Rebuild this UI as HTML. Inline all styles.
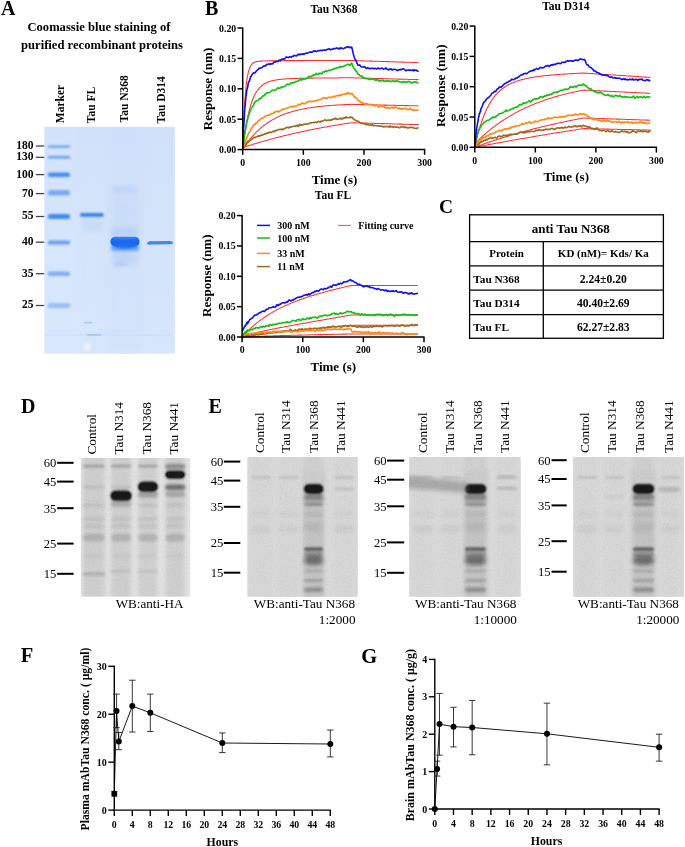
<!DOCTYPE html>
<html><head><meta charset="utf-8"><style>
html,body{margin:0;padding:0;background:#fff;}
body{width:685px;height:847px;overflow:hidden;}
svg{display:block;font-family:"Liberation Serif", serif;will-change:transform;}
</style></head><body>
<svg width="685" height="847" viewBox="0 0 685 847">
<defs>
<filter id="bl05" x="-20%" y="-200%" width="140%" height="500%"><feGaussianBlur stdDeviation="0.5"/></filter>
<filter id="bl07" x="-20%" y="-200%" width="140%" height="500%"><feGaussianBlur stdDeviation="0.8"/></filter>
<filter id="bl1" x="-20%" y="-200%" width="140%" height="500%"><feGaussianBlur stdDeviation="1.1"/></filter>
<filter id="bl15" x="-20%" y="-200%" width="140%" height="500%"><feGaussianBlur stdDeviation="1.6"/></filter>
<filter id="bl2" x="-50%" y="-200%" width="200%" height="500%"><feGaussianBlur stdDeviation="2.2"/></filter>
<filter id="bl3" x="-50%" y="-100%" width="200%" height="300%"><feGaussianBlur stdDeviation="3"/></filter>
<filter id="noise1" x="0" y="0" width="100%" height="100%"><feTurbulence type="fractalNoise" baseFrequency="0.75" numOctaves="2" seed="7"/><feColorMatrix type="matrix" values="1 0 0 0 0  1 0 0 0 0  1 0 0 0 0  0 0 0 0 1"/></filter>
<filter id="noise2" x="0" y="0" width="100%" height="100%"><feTurbulence type="fractalNoise" baseFrequency="0.75" numOctaves="2" seed="14"/><feColorMatrix type="matrix" values="1 0 0 0 0  1 0 0 0 0  1 0 0 0 0  0 0 0 0 1"/></filter>
<filter id="noise3" x="0" y="0" width="100%" height="100%"><feTurbulence type="fractalNoise" baseFrequency="0.75" numOctaves="2" seed="21"/><feColorMatrix type="matrix" values="1 0 0 0 0  1 0 0 0 0  1 0 0 0 0  0 0 0 0 1"/></filter>
<filter id="noise4" x="0" y="0" width="100%" height="100%"><feTurbulence type="fractalNoise" baseFrequency="0.75" numOctaves="2" seed="28"/><feColorMatrix type="matrix" values="1 0 0 0 0  1 0 0 0 0  1 0 0 0 0  0 0 0 0 1"/></filter>
<linearGradient id="gelgrad" x1="0" y1="0" x2="0" y2="1"><stop offset="0" stop-color="#d2e2fb"/><stop offset="0.45" stop-color="#d5e5fc"/><stop offset="1" stop-color="#d9e8fd"/></linearGradient>
<clipPath id="gelclip"><rect x="44.3" y="126.8" width="130.6" height="226.9"/></clipPath>
</defs>
<rect width="685" height="847" fill="#fff"/>
<text x="1.00" y="14.60" font-size="20" font-weight="bold" text-anchor="start" fill="#000" >A</text>
<text x="99.00" y="31.00" font-size="12.6" font-weight="bold" text-anchor="middle" fill="#000" >Coomassie blue staining of</text>
<text x="102.00" y="48.60" font-size="12.6" font-weight="bold" text-anchor="middle" fill="#000" >purified recombinant proteins</text>
<text transform="translate(63.50,123.20) rotate(-90)" font-size="11.5" font-weight="bold" text-anchor="start" fill="#000" >Marker</text>
<text transform="translate(95.20,123.20) rotate(-90)" font-size="11.5" font-weight="bold" text-anchor="start" fill="#000" >Tau FL</text>
<text transform="translate(128.40,122.40) rotate(-90)" font-size="11.5" font-weight="bold" text-anchor="start" fill="#000" >Tau N368</text>
<text transform="translate(165.40,123.40) rotate(-90)" font-size="11.5" font-weight="bold" text-anchor="start" fill="#000" >Tau D314</text>
<rect x="44.3" y="126.8" width="130.6" height="226.9" fill="url(#gelgrad)"/>
<g clip-path="url(#gelclip)">
<rect x="109" y="126.8" width="32" height="226.9" fill="#c6d9f5" opacity="0.3" filter="url(#bl3)"/>
<rect x="146" y="126.8" width="28" height="226.9" fill="#cadcf6" opacity="0.15" filter="url(#bl3)"/>
<rect x="80" y="126.8" width="24" height="226.9" fill="#cadcf6" opacity="0.12" filter="url(#bl3)"/>
<rect x="47.8" y="145.5" width="22.4" height="2.2" rx="1.1" fill="#4f8fec" opacity="0.8" filter="url(#bl07)"/>
<rect x="47.8" y="156.0" width="22.4" height="2.6" rx="1.3" fill="#4a8cec" opacity="0.8" filter="url(#bl07)"/>
<rect x="47.8" y="172.4" width="22.4" height="4.6" rx="2.3" fill="#3a82ea" opacity="0.9" filter="url(#bl07)"/>
<rect x="47.8" y="190.0" width="22.4" height="5.6" rx="2.8" fill="#5e96ec" opacity="0.75" filter="url(#bl07)"/>
<rect x="47.8" y="214.0" width="22.4" height="5.0" rx="2.5" fill="#3480ea" opacity="0.9" filter="url(#bl07)"/>
<rect x="47.8" y="240.4" width="22.4" height="4.0" rx="2.0" fill="#4f8eec" opacity="0.8" filter="url(#bl07)"/>
<rect x="47.8" y="271.5" width="22.4" height="4.6" rx="2.3" fill="#5e96ec" opacity="0.7" filter="url(#bl07)"/>
<rect x="47.8" y="303.0" width="22.4" height="5.0" rx="2.5" fill="#73a3ee" opacity="0.6" filter="url(#bl07)"/>
<rect x="79.9" y="213.0" width="23.9" height="4.0" rx="2" fill="#2a78e8" opacity="0.92" filter="url(#bl07)"/>
<rect x="84" y="321.8" width="8" height="1.6" fill="#8fb2ee" opacity="0.6" filter="url(#bl05)"/>
<rect x="87" y="334.0" width="14" height="1.8" fill="#8fb2ee" opacity="0.6" filter="url(#bl05)"/>
<rect x="46" y="334.3" width="126" height="1.2" fill="#a9c4f2" opacity="0.25" filter="url(#bl05)"/>
<rect x="84" y="343" width="7" height="8" fill="#eef4fd" opacity="0.7" filter="url(#bl1)"/>
<rect x="111" y="244" width="28" height="7" rx="3" fill="#3d86ee" opacity="0.75" filter="url(#bl15)"/>
<rect x="110.4" y="236.7" width="29.2" height="9.8" rx="4.9" fill="#1266ef" filter="url(#bl05)"/>
<ellipse cx="125" cy="245.5" rx="11" ry="3.5" fill="#1a6cf0" filter="url(#bl07)"/>
<rect x="113" y="250" width="24" height="14" fill="#a9c5f3" opacity="0.4" filter="url(#bl3)"/>
<rect x="113" y="186" width="24" height="8" fill="#b4cdf4" opacity="0.5" filter="url(#bl2)"/>
<rect x="112" y="196" width="26" height="40" fill="#bcd2f5" opacity="0.3" filter="url(#bl3)"/>
<rect x="112" y="228" width="26" height="10" fill="#9dbdf1" opacity="0.35" filter="url(#bl2)"/>
<rect x="114" y="262" width="14" height="4" fill="#a8c4f2" opacity="0.55" filter="url(#bl15)"/>
<rect x="82" y="218" width="20" height="14" fill="#c0d5f5" opacity="0.5" filter="url(#bl2)"/>
<path d="M146.7,243.6 Q148,240.6 152,241.2 L170,240.9 Q173.2,241.2 173,242.9 Q172,244.5 168,244.3 L152,244.5 Q147.5,245 146.7,243.6 Z" fill="#3a80e8" opacity="0.95" filter="url(#bl05)"/>
</g>
<text x="33.60" y="148.90" font-size="11.5" font-weight="bold" text-anchor="end" fill="#000" >180</text>
<line x1="35.90" y1="146.00" x2="44.20" y2="146.00" stroke="#444" stroke-width="1.3" />
<text x="33.60" y="160.20" font-size="11.5" font-weight="bold" text-anchor="end" fill="#000" >130</text>
<line x1="35.90" y1="157.30" x2="44.20" y2="157.30" stroke="#444" stroke-width="1.3" />
<text x="33.60" y="177.50" font-size="11.5" font-weight="bold" text-anchor="end" fill="#000" >100</text>
<line x1="35.90" y1="174.60" x2="44.20" y2="174.60" stroke="#444" stroke-width="1.3" />
<text x="33.60" y="196.50" font-size="11.5" font-weight="bold" text-anchor="end" fill="#000" >70</text>
<line x1="35.90" y1="193.60" x2="44.20" y2="193.60" stroke="#444" stroke-width="1.3" />
<text x="33.60" y="219.40" font-size="11.5" font-weight="bold" text-anchor="end" fill="#000" >55</text>
<line x1="35.90" y1="216.50" x2="44.20" y2="216.50" stroke="#444" stroke-width="1.3" />
<text x="33.60" y="245.10" font-size="11.5" font-weight="bold" text-anchor="end" fill="#000" >40</text>
<line x1="35.90" y1="242.20" x2="44.20" y2="242.20" stroke="#444" stroke-width="1.3" />
<text x="33.60" y="276.60" font-size="11.5" font-weight="bold" text-anchor="end" fill="#000" >35</text>
<line x1="35.90" y1="273.70" x2="44.20" y2="273.70" stroke="#444" stroke-width="1.3" />
<text x="33.60" y="308.40" font-size="11.5" font-weight="bold" text-anchor="end" fill="#000" >25</text>
<line x1="35.90" y1="305.50" x2="44.20" y2="305.50" stroke="#444" stroke-width="1.3" />
<text x="205.00" y="15.00" font-size="20" font-weight="bold" text-anchor="start" fill="#000" >B</text>
<text x="334.00" y="12.60" font-size="11.5" font-weight="bold" text-anchor="middle" fill="#000" >Tau N368</text>
<polyline points="242.7,149.6 242.9,148.9 243.0,148.4 243.2,148.1 243.3,147.8 243.5,147.7 243.6,147.5 243.8,147.4 243.9,147.3 244.1,147.2 244.2,147.2 244.4,147.1 244.5,147.0 244.7,147.0 244.8,146.9 245.0,146.9 245.1,146.8 245.3,146.8 245.4,146.7 245.6,146.7 245.7,146.6 245.9,146.6 246.0,146.5 246.2,146.5 246.3,146.4 246.5,146.4 246.6,146.3 246.8,146.3 246.9,146.2 247.1,146.2 247.2,146.1 247.4,146.1 247.6,146.0 247.7,146.0 247.9,145.9 248.0,145.9 248.2,145.9 248.3,145.8 248.5,145.8 248.6,145.7 248.8,145.7 249.4,145.5 250.0,145.3 250.6,145.1 251.2,144.9 251.8,144.7 252.4,144.5 253.0,144.3 253.6,144.1 254.2,144.0 254.8,143.8 255.4,143.6 256.0,143.4 256.6,143.2 257.3,143.0 257.9,142.9 258.5,142.7 259.1,142.5 259.7,142.3 260.3,142.1 260.9,142.0 261.5,141.8 262.1,141.6 262.7,141.4 263.3,141.3 263.9,141.1 264.5,140.9 265.1,140.7 265.7,140.6 266.3,140.4 267.0,140.2 267.6,140.1 268.2,139.9 268.8,139.7 269.4,139.6 270.0,139.4 270.6,139.2 271.2,139.1 271.8,138.9 272.4,138.7 273.0,138.6 273.6,138.4 274.2,138.3 274.8,138.1 275.4,137.9 276.0,137.8 276.7,137.6 277.3,137.5 277.9,137.3 278.5,137.2 279.1,137.0 279.7,136.9 280.3,136.7 280.9,136.5 281.5,136.4 282.1,136.2 282.7,136.1 283.3,135.9 283.9,135.8 284.5,135.6 285.1,135.5 285.7,135.4 286.4,135.2 287.0,135.1 287.6,134.9 288.2,134.8 288.8,134.6 289.4,134.5 290.0,134.3 290.6,134.2 291.2,134.1 291.8,133.9 292.4,133.8 293.0,133.6 293.6,133.5 294.2,133.4 294.8,133.2 295.4,133.1 296.1,132.9 296.7,132.8 297.3,132.7 297.9,132.5 298.5,132.4 299.1,132.3 299.7,132.1 300.3,132.0 300.9,131.9 301.5,131.7 302.1,131.6 302.7,131.5 303.3,131.4 303.9,131.2 304.5,131.1 305.1,131.0 305.8,130.8 306.4,130.7 307.0,130.6 307.6,130.5 308.2,130.3 308.8,130.2 309.4,130.1 310.0,130.0 310.6,129.9 311.2,129.7 311.8,129.6 312.4,129.5 313.0,129.4 313.6,129.3 314.2,129.1 314.8,129.0 315.5,128.9 316.1,128.8 316.7,128.7 317.3,128.5 317.9,128.4 318.5,128.3 319.1,128.2 319.7,128.1 320.3,128.0 320.9,127.9 321.5,127.7 322.1,127.6 322.7,127.5 323.3,127.4 323.9,127.3 324.6,127.2 325.2,127.1 325.8,127.0 326.4,126.9 327.0,126.7 327.6,126.6 328.2,126.5 328.8,126.4 329.4,126.3 330.0,126.2 330.6,126.1 331.2,126.0 331.8,125.9 332.4,125.8 333.0,125.7 333.6,125.6 334.3,125.5 334.9,125.4 335.5,125.3 336.1,125.2 336.7,125.1 337.3,125.0 337.9,124.9 338.5,124.8 339.1,124.7 339.7,124.6 340.3,124.5 340.9,124.4 341.5,124.3 342.1,124.2 342.7,124.1 343.3,124.0 344.0,123.9 344.6,123.8 345.2,123.7 345.8,123.6 346.4,123.5 347.0,123.4 347.6,123.3 348.2,123.2 348.8,123.2 349.4,123.1 350.0,123.0 350.6,122.9 351.2,122.8 351.8,122.7 352.4,122.7 353.0,122.7 353.7,122.8 354.3,122.8 354.9,122.8 355.5,122.8 356.1,122.8 356.7,122.8 357.3,122.9 357.9,122.9 358.5,122.9 359.1,122.9 359.7,122.9 360.3,122.9 360.9,123.0 361.5,123.0 362.1,123.0 362.7,123.0 363.4,123.0 364.0,123.0 364.6,123.1 365.2,123.1 365.8,123.1 366.4,123.1 367.0,123.1 367.6,123.2 368.2,123.2 368.8,123.2 369.4,123.2 370.0,123.2 370.6,123.2 371.2,123.3 371.8,123.3 372.4,123.3 373.1,123.3 373.7,123.3 374.3,123.3 374.9,123.4 375.5,123.4 376.1,123.4 376.7,123.4 377.3,123.4 377.9,123.4 378.5,123.5 379.1,123.5 379.7,123.5 380.3,123.5 380.9,123.5 381.5,123.6 382.1,123.6 382.8,123.6 383.4,123.6 384.0,123.6 384.6,123.6 385.2,123.7 385.8,123.7 386.4,123.7 387.0,123.7 387.6,123.7 388.2,123.7 388.8,123.8 389.4,123.8 390.0,123.8 390.6,123.8 391.2,123.8 391.8,123.8 392.5,123.9 393.1,123.9 393.7,123.9 394.3,123.9 394.9,123.9 395.5,124.0 396.1,124.0 396.7,124.0 397.3,124.0 397.9,124.0 398.5,124.0 399.1,124.1 399.7,124.1 400.3,124.1 400.9,124.1 401.6,124.1 402.2,124.1 402.8,124.2 403.4,124.2 404.0,124.2 404.6,124.2 405.2,124.2 405.8,124.2 406.4,124.3 407.0,124.3 407.6,124.3 408.2,124.3 408.8,124.3 409.4,124.4 410.0,124.4 410.6,124.4 411.3,124.4 411.9,124.4 412.5,124.4 413.1,124.5 413.7,124.5 414.3,124.5 414.9,124.5 415.5,124.5 416.1,124.5 416.7,124.6 417.3,124.6 417.9,124.6 418.5,124.6" fill="none" stroke="#ff2d2d" stroke-width="1.05" stroke-linejoin="round"/>
<polyline points="242.7,149.6 242.9,149.4 243.0,149.1 243.2,148.9 243.3,148.6 243.5,148.4 243.6,148.2 243.8,147.9 243.9,147.7 244.1,147.5 244.2,147.2 244.4,147.0 244.5,146.8 244.7,146.5 244.8,146.3 245.0,146.1 245.1,145.9 245.3,145.6 245.4,145.4 245.6,145.2 245.7,145.0 245.9,144.8 246.0,144.5 246.2,144.3 246.3,144.1 246.5,143.9 246.6,143.7 246.8,143.5 246.9,143.3 247.1,143.0 247.2,142.8 247.4,142.6 247.6,142.4 247.7,142.2 247.9,142.0 248.0,141.8 248.2,141.6 248.3,141.4 248.5,141.2 248.6,141.0 248.8,140.8 249.4,140.0 250.0,139.3 250.6,138.5 251.2,137.8 251.8,137.1 252.4,136.4 253.0,135.7 253.6,135.0 254.2,134.3 254.8,133.7 255.4,133.0 256.0,132.4 256.6,131.8 257.3,131.2 257.9,130.6 258.5,130.1 259.1,129.5 259.7,129.0 260.3,128.4 260.9,127.9 261.5,127.4 262.1,126.9 262.7,126.4 263.3,125.9 263.9,125.4 264.5,125.0 265.1,124.5 265.7,124.1 266.3,123.7 267.0,123.2 267.6,122.8 268.2,122.4 268.8,122.0 269.4,121.6 270.0,121.2 270.6,120.9 271.2,120.5 271.8,120.1 272.4,119.8 273.0,119.4 273.6,119.1 274.2,118.8 274.8,118.5 275.4,118.1 276.0,117.8 276.7,117.5 277.3,117.2 277.9,116.9 278.5,116.7 279.1,116.4 279.7,116.1 280.3,115.8 280.9,115.6 281.5,115.3 282.1,115.1 282.7,114.8 283.3,114.6 283.9,114.3 284.5,114.1 285.1,113.9 285.7,113.7 286.4,113.5 287.0,113.2 287.6,113.0 288.2,112.8 288.8,112.6 289.4,112.4 290.0,112.2 290.6,112.1 291.2,111.9 291.8,111.7 292.4,111.5 293.0,111.3 293.6,111.2 294.2,111.0 294.8,110.9 295.4,110.7 296.1,110.5 296.7,110.4 297.3,110.2 297.9,110.1 298.5,110.0 299.1,109.8 299.7,109.7 300.3,109.5 300.9,109.4 301.5,109.3 302.1,109.2 302.7,109.0 303.3,108.9 303.9,108.8 304.5,108.7 305.1,108.6 305.8,108.5 306.4,108.4 307.0,108.3 307.6,108.1 308.2,108.0 308.8,107.9 309.4,107.9 310.0,107.8 310.6,107.7 311.2,107.6 311.8,107.5 312.4,107.4 313.0,107.3 313.6,107.2 314.2,107.1 314.8,107.1 315.5,107.0 316.1,106.9 316.7,106.8 317.3,106.8 317.9,106.7 318.5,106.6 319.1,106.5 319.7,106.5 320.3,106.4 320.9,106.3 321.5,106.3 322.1,106.2 322.7,106.2 323.3,106.1 323.9,106.0 324.6,106.0 325.2,105.9 325.8,105.9 326.4,105.8 327.0,105.8 327.6,105.7 328.2,105.7 328.8,105.6 329.4,105.6 330.0,105.5 330.6,105.5 331.2,105.4 331.8,105.4 332.4,105.3 333.0,105.3 333.6,105.2 334.3,105.2 334.9,105.2 335.5,105.1 336.1,105.1 336.7,105.1 337.3,105.0 337.9,105.0 338.5,104.9 339.1,104.9 339.7,104.9 340.3,104.8 340.9,104.8 341.5,104.8 342.1,104.7 342.7,104.7 343.3,104.7 344.0,104.7 344.6,104.6 345.2,104.6 345.8,104.6 346.4,104.5 347.0,104.5 347.6,104.5 348.2,104.5 348.8,104.4 349.4,104.4 350.0,104.4 350.6,104.4 351.2,104.3 351.8,104.3 352.4,104.3 353.0,104.4 353.7,104.4 354.3,104.4 354.9,104.4 355.5,104.4 356.1,104.4 356.7,104.4 357.3,104.5 357.9,104.5 358.5,104.5 359.1,104.5 359.7,104.5 360.3,104.5 360.9,104.5 361.5,104.6 362.1,104.6 362.7,104.6 363.4,104.6 364.0,104.6 364.6,104.6 365.2,104.6 365.8,104.7 366.4,104.7 367.0,104.7 367.6,104.7 368.2,104.7 368.8,104.7 369.4,104.7 370.0,104.8 370.6,104.8 371.2,104.8 371.8,104.8 372.4,104.8 373.1,104.8 373.7,104.8 374.3,104.9 374.9,104.9 375.5,104.9 376.1,104.9 376.7,104.9 377.3,104.9 377.9,104.9 378.5,105.0 379.1,105.0 379.7,105.0 380.3,105.0 380.9,105.0 381.5,105.0 382.1,105.0 382.8,105.0 383.4,105.1 384.0,105.1 384.6,105.1 385.2,105.1 385.8,105.1 386.4,105.1 387.0,105.1 387.6,105.2 388.2,105.2 388.8,105.2 389.4,105.2 390.0,105.2 390.6,105.2 391.2,105.2 391.8,105.3 392.5,105.3 393.1,105.3 393.7,105.3 394.3,105.3 394.9,105.3 395.5,105.3 396.1,105.4 396.7,105.4 397.3,105.4 397.9,105.4 398.5,105.4 399.1,105.4 399.7,105.4 400.3,105.5 400.9,105.5 401.6,105.5 402.2,105.5 402.8,105.5 403.4,105.5 404.0,105.5 404.6,105.6 405.2,105.6 405.8,105.6 406.4,105.6 407.0,105.6 407.6,105.6 408.2,105.6 408.8,105.7 409.4,105.7 410.0,105.7 410.6,105.7 411.3,105.7 411.9,105.7 412.5,105.7 413.1,105.8 413.7,105.8 414.3,105.8 414.9,105.8 415.5,105.8 416.1,105.8 416.7,105.8 417.3,105.9 417.9,105.9 418.5,105.9" fill="none" stroke="#ff2d2d" stroke-width="1.05" stroke-linejoin="round"/>
<polyline points="242.7,149.6 242.9,148.3 243.0,147.0 243.2,145.7 243.3,144.4 243.5,143.2 243.6,142.0 243.8,140.8 243.9,139.7 244.1,138.5 244.2,137.4 244.4,136.3 244.5,135.2 244.7,134.2 244.8,133.2 245.0,132.1 245.1,131.1 245.3,130.2 245.4,129.2 245.6,128.3 245.7,127.4 245.9,126.5 246.0,125.6 246.2,124.7 246.3,123.8 246.5,123.0 246.6,122.2 246.8,121.4 246.9,120.6 247.1,119.8 247.2,119.1 247.4,118.3 247.6,117.6 247.7,116.9 247.9,116.1 248.0,115.5 248.2,114.8 248.3,114.1 248.5,113.5 248.6,112.8 248.8,112.2 249.4,109.8 250.0,107.6 250.6,105.5 251.2,103.6 251.8,101.8 252.4,100.2 253.0,98.7 253.6,97.3 254.2,96.0 254.8,94.7 255.4,93.6 256.0,92.6 256.6,91.6 257.3,90.7 257.9,89.9 258.5,89.1 259.1,88.4 259.7,87.7 260.3,87.1 260.9,86.5 261.5,86.0 262.1,85.5 262.7,85.0 263.3,84.6 263.9,84.2 264.5,83.8 265.1,83.4 265.7,83.1 266.3,82.8 267.0,82.5 267.6,82.3 268.2,82.0 268.8,81.8 269.4,81.6 270.0,81.4 270.6,81.2 271.2,81.0 271.8,80.8 272.4,80.7 273.0,80.5 273.6,80.4 274.2,80.3 274.8,80.2 275.4,80.1 276.0,79.9 276.7,79.9 277.3,79.8 277.9,79.7 278.5,79.6 279.1,79.5 279.7,79.4 280.3,79.4 280.9,79.3 281.5,79.2 282.1,79.2 282.7,79.1 283.3,79.1 283.9,79.0 284.5,79.0 285.1,78.9 285.7,78.9 286.4,78.9 287.0,78.8 287.6,78.8 288.2,78.7 288.8,78.7 289.4,78.7 290.0,78.7 290.6,78.6 291.2,78.6 291.8,78.6 292.4,78.5 293.0,78.5 293.6,78.5 294.2,78.5 294.8,78.5 295.4,78.4 296.1,78.4 296.7,78.4 297.3,78.4 297.9,78.4 298.5,78.3 299.1,78.3 299.7,78.3 300.3,78.3 300.9,78.3 301.5,78.3 302.1,78.3 302.7,78.2 303.3,78.2 303.9,78.2 304.5,78.2 305.1,78.2 305.8,78.2 306.4,78.2 307.0,78.2 307.6,78.1 308.2,78.1 308.8,78.1 309.4,78.1 310.0,78.1 310.6,78.1 311.2,78.1 311.8,78.1 312.4,78.1 313.0,78.1 313.6,78.1 314.2,78.0 314.8,78.0 315.5,78.0 316.1,78.0 316.7,78.0 317.3,78.0 317.9,78.0 318.5,78.0 319.1,78.0 319.7,78.0 320.3,78.0 320.9,78.0 321.5,78.0 322.1,78.0 322.7,78.0 323.3,78.0 323.9,77.9 324.6,77.9 325.2,77.9 325.8,77.9 326.4,77.9 327.0,77.9 327.6,77.9 328.2,77.9 328.8,77.9 329.4,77.9 330.0,77.9 330.6,77.9 331.2,77.9 331.8,77.9 332.4,77.9 333.0,77.9 333.6,77.9 334.3,77.9 334.9,77.9 335.5,77.9 336.1,77.9 336.7,77.9 337.3,77.9 337.9,77.9 338.5,77.9 339.1,77.8 339.7,77.8 340.3,77.8 340.9,77.8 341.5,77.8 342.1,77.8 342.7,77.8 343.3,77.8 344.0,77.8 344.6,77.8 345.2,77.8 345.8,77.8 346.4,77.8 347.0,77.8 347.6,77.8 348.2,77.8 348.8,77.8 349.4,77.8 350.0,77.8 350.6,77.8 351.2,77.8 351.8,77.8 352.4,77.8 353.0,77.8 353.7,77.8 354.3,77.9 354.9,77.9 355.5,77.9 356.1,77.9 356.7,77.9 357.3,77.9 357.9,78.0 358.5,78.0 359.1,78.0 359.7,78.0 360.3,78.0 360.9,78.0 361.5,78.1 362.1,78.1 362.7,78.1 363.4,78.1 364.0,78.1 364.6,78.1 365.2,78.2 365.8,78.2 366.4,78.2 367.0,78.2 367.6,78.2 368.2,78.2 368.8,78.3 369.4,78.3 370.0,78.3 370.6,78.3 371.2,78.3 371.8,78.3 372.4,78.4 373.1,78.4 373.7,78.4 374.3,78.4 374.9,78.4 375.5,78.4 376.1,78.5 376.7,78.5 377.3,78.5 377.9,78.5 378.5,78.5 379.1,78.5 379.7,78.6 380.3,78.6 380.9,78.6 381.5,78.6 382.1,78.6 382.8,78.6 383.4,78.7 384.0,78.7 384.6,78.7 385.2,78.7 385.8,78.7 386.4,78.7 387.0,78.8 387.6,78.8 388.2,78.8 388.8,78.8 389.4,78.8 390.0,78.8 390.6,78.9 391.2,78.9 391.8,78.9 392.5,78.9 393.1,78.9 393.7,78.9 394.3,79.0 394.9,79.0 395.5,79.0 396.1,79.0 396.7,79.0 397.3,79.0 397.9,79.1 398.5,79.1 399.1,79.1 399.7,79.1 400.3,79.1 400.9,79.1 401.6,79.2 402.2,79.2 402.8,79.2 403.4,79.2 404.0,79.2 404.6,79.2 405.2,79.3 405.8,79.3 406.4,79.3 407.0,79.3 407.6,79.3 408.2,79.3 408.8,79.4 409.4,79.4 410.0,79.4 410.6,79.4 411.3,79.4 411.9,79.4 412.5,79.5 413.1,79.5 413.7,79.5 414.3,79.5 414.9,79.5 415.5,79.5 416.1,79.6 416.7,79.6 417.3,79.6 417.9,79.6 418.5,79.6" fill="none" stroke="#ff2d2d" stroke-width="1.05" stroke-linejoin="round"/>
<polyline points="242.7,149.6 242.9,144.8 243.0,140.3 243.2,136.0 243.3,131.9 243.5,128.1 243.6,124.5 243.8,121.0 243.9,117.8 244.1,114.7 244.2,111.8 244.4,109.1 244.5,106.5 244.7,104.1 244.8,101.7 245.0,99.5 245.1,97.5 245.3,95.5 245.4,93.6 245.6,91.9 245.7,90.2 245.9,88.7 246.0,87.2 246.2,85.8 246.3,84.4 246.5,83.2 246.6,82.0 246.8,80.9 246.9,79.8 247.1,78.8 247.2,77.9 247.4,77.0 247.6,76.1 247.7,75.3 247.9,74.5 248.0,73.8 248.2,73.1 248.3,72.5 248.5,71.9 248.6,71.3 248.8,70.8 249.4,68.9 250.0,67.3 250.6,66.1 251.2,65.1 251.8,64.3 252.4,63.7 253.0,63.2 253.6,62.8 254.2,62.4 254.8,62.2 255.4,61.9 256.0,61.8 256.6,61.6 257.3,61.5 257.9,61.4 258.5,61.3 259.1,61.2 259.7,61.2 260.3,61.1 260.9,61.1 261.5,61.1 262.1,61.0 262.7,61.0 263.3,61.0 263.9,61.0 264.5,60.9 265.1,60.9 265.7,60.9 266.3,60.9 267.0,60.9 267.6,60.9 268.2,60.8 268.8,60.8 269.4,60.8 270.0,60.8 270.6,60.8 271.2,60.8 271.8,60.8 272.4,60.8 273.0,60.8 273.6,60.8 274.2,60.7 274.8,60.7 275.4,60.7 276.0,60.7 276.7,60.7 277.3,60.7 277.9,60.7 278.5,60.7 279.1,60.7 279.7,60.7 280.3,60.7 280.9,60.7 281.5,60.7 282.1,60.7 282.7,60.7 283.3,60.7 283.9,60.7 284.5,60.6 285.1,60.6 285.7,60.6 286.4,60.6 287.0,60.6 287.6,60.6 288.2,60.6 288.8,60.6 289.4,60.6 290.0,60.6 290.6,60.6 291.2,60.6 291.8,60.6 292.4,60.6 293.0,60.6 293.6,60.6 294.2,60.6 294.8,60.6 295.4,60.6 296.1,60.6 296.7,60.6 297.3,60.6 297.9,60.6 298.5,60.6 299.1,60.6 299.7,60.6 300.3,60.6 300.9,60.6 301.5,60.6 302.1,60.6 302.7,60.6 303.3,60.6 303.9,60.6 304.5,60.6 305.1,60.5 305.8,60.5 306.4,60.5 307.0,60.5 307.6,60.5 308.2,60.5 308.8,60.5 309.4,60.5 310.0,60.5 310.6,60.5 311.2,60.5 311.8,60.5 312.4,60.5 313.0,60.5 313.6,60.5 314.2,60.5 314.8,60.5 315.5,60.5 316.1,60.5 316.7,60.5 317.3,60.5 317.9,60.5 318.5,60.5 319.1,60.5 319.7,60.5 320.3,60.5 320.9,60.5 321.5,60.5 322.1,60.5 322.7,60.5 323.3,60.5 323.9,60.5 324.6,60.5 325.2,60.5 325.8,60.5 326.4,60.5 327.0,60.5 327.6,60.5 328.2,60.5 328.8,60.5 329.4,60.5 330.0,60.5 330.6,60.5 331.2,60.5 331.8,60.5 332.4,60.5 333.0,60.5 333.6,60.5 334.3,60.5 334.9,60.5 335.5,60.5 336.1,60.5 336.7,60.5 337.3,60.5 337.9,60.5 338.5,60.5 339.1,60.5 339.7,60.5 340.3,60.5 340.9,60.5 341.5,60.5 342.1,60.5 342.7,60.5 343.3,60.5 344.0,60.5 344.6,60.5 345.2,60.5 345.8,60.5 346.4,60.5 347.0,60.5 347.6,60.5 348.2,60.5 348.8,60.5 349.4,60.5 350.0,60.5 350.6,60.5 351.2,60.5 351.8,60.5 352.4,60.5 353.0,60.5 353.7,60.6 354.3,60.6 354.9,60.6 355.5,60.6 356.1,60.6 356.7,60.7 357.3,60.7 357.9,60.7 358.5,60.7 359.1,60.7 359.7,60.8 360.3,60.8 360.9,60.8 361.5,60.8 362.1,60.8 362.7,60.8 363.4,60.9 364.0,60.9 364.6,60.9 365.2,60.9 365.8,60.9 366.4,61.0 367.0,61.0 367.6,61.0 368.2,61.0 368.8,61.0 369.4,61.1 370.0,61.1 370.6,61.1 371.2,61.1 371.8,61.1 372.4,61.1 373.1,61.2 373.7,61.2 374.3,61.2 374.9,61.2 375.5,61.2 376.1,61.3 376.7,61.3 377.3,61.3 377.9,61.3 378.5,61.3 379.1,61.4 379.7,61.4 380.3,61.4 380.9,61.4 381.5,61.4 382.1,61.5 382.8,61.5 383.4,61.5 384.0,61.5 384.6,61.5 385.2,61.5 385.8,61.6 386.4,61.6 387.0,61.6 387.6,61.6 388.2,61.6 388.8,61.7 389.4,61.7 390.0,61.7 390.6,61.7 391.2,61.7 391.8,61.8 392.5,61.8 393.1,61.8 393.7,61.8 394.3,61.8 394.9,61.9 395.5,61.9 396.1,61.9 396.7,61.9 397.3,61.9 397.9,61.9 398.5,62.0 399.1,62.0 399.7,62.0 400.3,62.0 400.9,62.0 401.6,62.1 402.2,62.1 402.8,62.1 403.4,62.1 404.0,62.1 404.6,62.2 405.2,62.2 405.8,62.2 406.4,62.2 407.0,62.2 407.6,62.3 408.2,62.3 408.8,62.3 409.4,62.3 410.0,62.3 410.6,62.3 411.3,62.4 411.9,62.4 412.5,62.4 413.1,62.4 413.7,62.4 414.3,62.5 414.9,62.5 415.5,62.5 416.1,62.5 416.7,62.5 417.3,62.6 417.9,62.6 418.5,62.6" fill="none" stroke="#ff2d2d" stroke-width="1.05" stroke-linejoin="round"/>
<polyline points="242.7,149.4 242.9,148.8 243.0,148.8 243.2,148.9 243.3,148.0 243.5,147.7 243.6,147.7 243.8,147.1 243.9,146.8 244.1,146.6 244.2,146.4 244.4,146.1 244.5,146.3 244.7,146.0 244.8,145.7 245.0,145.1 245.1,145.0 245.3,145.1 245.4,145.0 245.6,144.6 245.7,144.3 245.9,144.0 246.0,143.2 246.2,143.4 246.3,144.7 246.5,144.4 246.6,143.5 246.8,143.1 246.9,142.7 247.1,142.2 247.2,141.7 247.4,142.5 247.6,142.2 247.7,141.2 247.9,141.3 248.0,141.5 248.2,141.9 248.3,142.2 248.5,141.5 248.6,141.3 248.8,141.7 249.4,141.1 250.0,140.4 250.6,140.2 251.2,139.5 251.8,139.0 252.4,138.7 253.0,138.5 253.6,137.8 254.2,137.3 254.8,137.4 255.4,137.4 256.0,136.9 256.6,136.7 257.3,136.4 257.9,136.5 258.5,135.8 259.1,135.9 259.7,136.2 260.3,135.7 260.9,135.2 261.5,135.0 262.1,135.3 262.7,135.1 263.3,134.5 263.9,134.3 264.5,133.9 265.1,133.7 265.7,134.1 266.3,133.4 267.0,132.7 267.6,133.1 268.2,133.1 268.8,132.5 269.4,132.2 270.0,132.0 270.6,132.4 271.2,132.6 271.8,132.1 272.4,131.7 273.0,131.2 273.6,131.3 274.2,131.9 274.8,131.5 275.4,130.5 276.0,130.3 276.7,130.6 277.3,130.3 277.9,129.9 278.5,129.6 279.1,129.4 279.7,129.5 280.3,129.6 280.9,129.3 281.5,129.1 282.1,129.8 282.7,129.3 283.3,129.0 283.9,129.1 284.5,128.6 285.1,128.4 285.7,127.9 286.4,127.9 287.0,127.5 287.6,127.1 288.2,127.4 288.8,128.0 289.4,127.8 290.0,126.7 290.6,126.9 291.2,127.2 291.8,126.8 292.4,126.6 293.0,126.2 293.6,126.2 294.2,126.3 294.8,126.3 295.4,126.0 296.1,126.1 296.7,125.4 297.3,125.1 297.9,126.2 298.5,126.5 299.1,125.0 299.7,124.1 300.3,125.2 300.9,125.4 301.5,124.8 302.1,124.9 302.7,124.9 303.3,124.5 303.9,124.1 304.5,124.2 305.1,124.0 305.8,124.1 306.4,124.2 307.0,124.0 307.6,124.0 308.2,123.7 308.8,123.9 309.4,123.6 310.0,122.7 310.6,122.8 311.2,122.9 311.8,122.7 312.4,122.8 313.0,122.7 313.6,122.3 314.2,122.4 314.8,122.6 315.5,122.1 316.1,122.3 316.7,122.6 317.3,122.4 317.9,121.8 318.5,121.2 319.1,121.8 319.7,121.9 320.3,122.2 320.9,121.4 321.5,120.9 322.1,121.1 322.7,121.2 323.3,120.8 323.9,120.4 324.6,120.1 325.2,119.7 325.8,120.3 326.4,120.7 327.0,120.5 327.6,120.3 328.2,120.1 328.8,120.1 329.4,120.2 330.0,120.5 330.6,119.8 331.2,120.0 331.8,120.1 332.4,119.3 333.0,118.8 333.6,119.0 334.3,119.3 334.9,119.2 335.5,118.0 336.1,118.5 336.7,119.4 337.3,119.4 337.9,119.1 338.5,119.4 339.1,118.9 339.7,118.6 340.3,118.0 340.9,118.3 341.5,119.3 342.1,118.9 342.7,118.7 343.3,117.9 344.0,117.8 344.6,117.9 345.2,118.1 345.8,117.0 346.4,116.9 347.0,117.8 347.6,117.7 348.2,117.8 348.8,117.8 349.4,117.7 350.0,116.9 350.6,117.5 351.2,117.4 351.8,117.1 352.4,117.9 353.0,118.5 353.7,119.0 354.3,119.4 354.9,120.1 355.5,120.3 356.1,120.5 356.7,120.8 357.3,121.0 357.9,121.3 358.5,121.3 359.1,121.9 359.7,122.3 360.3,122.7 360.9,123.0 361.5,123.3 362.1,123.1 362.7,123.7 363.4,123.7 364.0,123.4 364.6,123.5 365.2,124.2 365.8,124.8 366.4,124.2 367.0,124.3 367.6,124.8 368.2,124.5 368.8,124.9 369.4,125.2 370.0,124.9 370.6,124.9 371.2,125.1 371.8,125.4 372.4,124.7 373.1,125.4 373.7,125.9 374.3,125.4 374.9,125.5 375.5,125.5 376.1,125.7 376.7,125.7 377.3,125.7 377.9,126.0 378.5,125.7 379.1,126.1 379.7,126.3 380.3,126.0 380.9,125.9 381.5,126.2 382.1,126.4 382.8,126.3 383.4,127.0 384.0,126.9 384.6,126.6 385.2,126.9 385.8,126.6 386.4,126.3 387.0,126.2 387.6,126.8 388.2,126.9 388.8,126.9 389.4,127.1 390.0,125.8 390.6,126.7 391.2,127.0 391.8,126.5 392.5,126.9 393.1,127.5 393.7,126.7 394.3,126.5 394.9,127.0 395.5,127.1 396.1,127.0 396.7,127.3 397.3,127.0 397.9,127.0 398.5,127.5 399.1,127.8 399.7,127.6 400.3,127.5 400.9,126.9 401.6,127.0 402.2,126.9 402.8,127.1 403.4,127.3 404.0,127.6 404.6,127.0 405.2,126.7 405.8,127.4 406.4,127.8 407.0,127.7 407.6,127.9 408.2,127.9 408.8,127.7 409.4,127.6 410.0,127.1 410.6,127.5 411.3,127.5 411.9,127.4 412.5,127.6 413.1,127.4 413.7,128.0 414.3,128.3 414.9,128.2 415.5,128.2 416.1,128.5 416.7,128.4 417.3,128.5 417.9,127.7 418.5,127.9" fill="none" stroke="#9a6a22" stroke-width="1.6" stroke-linejoin="round"/>
<polyline points="242.7,150.0 242.9,149.5 243.0,148.8 243.2,148.2 243.3,148.0 243.5,147.4 243.6,146.7 243.8,146.0 243.9,144.9 244.1,144.3 244.2,144.2 244.4,144.0 244.5,143.9 244.7,143.0 244.8,142.5 245.0,141.8 245.1,141.3 245.3,142.0 245.4,141.2 245.6,140.8 245.7,140.2 245.9,140.2 246.0,139.6 246.2,138.8 246.3,138.2 246.5,138.1 246.6,138.2 246.8,137.6 246.9,136.8 247.1,136.8 247.2,136.9 247.4,135.9 247.6,135.3 247.7,135.0 247.9,134.9 248.0,134.6 248.2,134.6 248.3,134.1 248.5,133.8 248.6,133.2 248.8,132.8 249.4,132.2 250.0,131.1 250.6,129.8 251.2,128.5 251.8,127.9 252.4,127.6 253.0,126.4 253.6,125.1 254.2,124.3 254.8,124.8 255.4,124.0 256.0,122.8 256.6,123.1 257.3,122.6 257.9,121.3 258.5,120.6 259.1,120.5 259.7,119.9 260.3,119.2 260.9,118.5 261.5,118.4 262.1,118.1 262.7,118.2 263.3,117.8 263.9,117.2 264.5,116.4 265.1,116.3 265.7,116.4 266.3,115.7 267.0,115.3 267.6,115.3 268.2,115.2 268.8,115.1 269.4,115.2 270.0,114.4 270.6,114.0 271.2,114.0 271.8,113.5 272.4,113.8 273.0,113.5 273.6,112.8 274.2,112.0 274.8,112.6 275.4,112.0 276.0,111.4 276.7,111.2 277.3,111.0 277.9,111.8 278.5,112.0 279.1,111.0 279.7,111.0 280.3,110.8 280.9,110.6 281.5,109.6 282.1,109.4 282.7,109.7 283.3,109.1 283.9,109.1 284.5,109.1 285.1,108.9 285.7,108.7 286.4,108.2 287.0,108.1 287.6,108.1 288.2,107.7 288.8,107.8 289.4,107.5 290.0,107.0 290.6,106.6 291.2,106.8 291.8,106.2 292.4,106.4 293.0,106.7 293.6,106.6 294.2,106.0 294.8,106.1 295.4,106.4 296.1,106.3 296.7,106.0 297.3,105.5 297.9,104.6 298.5,104.2 299.1,104.3 299.7,104.5 300.3,104.6 300.9,104.3 301.5,103.5 302.1,102.9 302.7,103.2 303.3,103.7 303.9,103.6 304.5,103.7 305.1,103.6 305.8,103.2 306.4,102.6 307.0,102.0 307.6,102.2 308.2,101.7 308.8,101.4 309.4,101.7 310.0,101.2 310.6,101.4 311.2,101.7 311.8,101.5 312.4,101.4 313.0,101.4 313.6,101.2 314.2,100.9 314.8,100.7 315.5,100.9 316.1,100.8 316.7,100.9 317.3,100.2 317.9,99.8 318.5,99.7 319.1,99.6 319.7,99.4 320.3,99.7 320.9,99.5 321.5,98.9 322.1,98.5 322.7,98.3 323.3,97.7 323.9,98.2 324.6,98.0 325.2,97.7 325.8,98.2 326.4,98.6 327.0,98.5 327.6,97.8 328.2,97.2 328.8,97.3 329.4,97.4 330.0,97.3 330.6,97.3 331.2,97.8 331.8,97.1 332.4,96.9 333.0,96.9 333.6,96.0 334.3,96.8 334.9,97.0 335.5,96.6 336.1,95.8 336.7,96.0 337.3,95.5 337.9,95.2 338.5,95.5 339.1,95.9 339.7,95.4 340.3,94.7 340.9,95.4 341.5,95.4 342.1,94.8 342.7,94.3 343.3,94.2 344.0,94.2 344.6,94.4 345.2,93.8 345.8,93.8 346.4,94.2 347.0,93.0 347.6,92.6 348.2,93.5 348.8,93.3 349.4,92.9 350.0,93.8 350.6,94.2 351.2,93.8 351.8,93.3 352.4,94.1 353.0,94.7 353.7,95.8 354.3,97.1 354.9,97.1 355.5,97.1 356.1,97.9 356.7,98.7 357.3,99.5 357.9,100.0 358.5,100.8 359.1,100.9 359.7,101.2 360.3,101.3 360.9,101.9 361.5,102.7 362.1,102.5 362.7,102.5 363.4,103.4 364.0,103.7 364.6,104.0 365.2,104.2 365.8,103.4 366.4,103.2 367.0,103.6 367.6,104.0 368.2,104.3 368.8,104.5 369.4,104.7 370.0,104.3 370.6,104.2 371.2,104.5 371.8,105.1 372.4,105.2 373.1,105.0 373.7,104.6 374.3,105.3 374.9,106.2 375.5,105.4 376.1,104.8 376.7,105.1 377.3,105.4 377.9,106.0 378.5,107.0 379.1,107.2 379.7,106.9 380.3,106.4 380.9,106.1 381.5,106.1 382.1,106.3 382.8,106.2 383.4,106.7 384.0,106.8 384.6,106.6 385.2,107.4 385.8,108.2 386.4,107.7 387.0,107.5 387.6,108.3 388.2,107.7 388.8,107.6 389.4,108.1 390.0,108.2 390.6,107.9 391.2,107.6 391.8,107.1 392.5,107.5 393.1,108.4 393.7,108.2 394.3,107.4 394.9,107.0 395.5,107.5 396.1,107.6 396.7,107.3 397.3,108.0 397.9,108.5 398.5,109.0 399.1,108.5 399.7,107.8 400.3,108.8 400.9,108.9 401.6,109.2 402.2,108.7 402.8,108.4 403.4,108.7 404.0,108.5 404.6,108.5 405.2,108.5 405.8,108.2 406.4,108.7 407.0,109.3 407.6,109.7 408.2,109.7 408.8,109.4 409.4,109.2 410.0,108.3 410.6,108.6 411.3,109.6 411.9,109.7 412.5,109.5 413.1,110.5 413.7,110.3 414.3,109.8 414.9,110.4 415.5,110.5 416.1,110.4 416.7,110.1 417.3,110.2 417.9,110.2 418.5,110.2" fill="none" stroke="#ff8a10" stroke-width="1.6" stroke-linejoin="round"/>
<polyline points="242.7,149.4 242.9,147.8 243.0,147.2 243.2,146.4 243.3,145.4 243.5,143.9 243.6,142.1 243.8,140.2 243.9,139.3 244.1,138.7 244.2,137.8 244.4,136.6 244.5,135.5 244.7,134.6 244.8,133.9 245.0,132.5 245.1,131.2 245.3,131.2 245.4,130.2 245.6,129.5 245.7,128.2 245.9,127.6 246.0,127.2 246.2,125.5 246.3,124.0 246.5,123.6 246.6,122.9 246.8,122.8 246.9,122.8 247.1,121.5 247.2,121.0 247.4,120.6 247.6,119.3 247.7,118.8 247.9,118.4 248.0,117.6 248.2,117.4 248.3,116.7 248.5,116.4 248.6,115.8 248.8,115.4 249.4,112.9 250.0,111.2 250.6,109.7 251.2,109.0 251.8,107.8 252.4,106.5 253.0,106.5 253.6,105.1 254.2,103.2 254.8,102.3 255.4,101.6 256.0,101.2 256.6,100.6 257.3,100.5 257.9,100.4 258.5,99.9 259.1,99.0 259.7,98.3 260.3,98.3 260.9,98.8 261.5,98.0 262.1,96.7 262.7,95.9 263.3,95.8 263.9,95.9 264.5,95.6 265.1,94.1 265.7,94.1 266.3,93.1 267.0,92.6 267.6,92.9 268.2,93.0 268.8,92.8 269.4,92.7 270.0,92.0 270.6,91.6 271.2,91.1 271.8,90.5 272.4,90.1 273.0,90.4 273.6,90.1 274.2,90.4 274.8,90.4 275.4,90.0 276.0,89.6 276.7,88.6 277.3,88.1 277.9,87.9 278.5,88.1 279.1,88.0 279.7,88.1 280.3,88.0 280.9,87.2 281.5,87.0 282.1,87.1 282.7,86.7 283.3,86.9 283.9,86.4 284.5,86.2 285.1,86.0 285.7,85.7 286.4,84.8 287.0,84.3 287.6,84.0 288.2,84.3 288.8,84.7 289.4,84.4 290.0,84.1 290.6,83.3 291.2,82.6 291.8,82.8 292.4,83.0 293.0,82.7 293.6,82.5 294.2,82.6 294.8,82.0 295.4,81.6 296.1,81.7 296.7,81.4 297.3,81.1 297.9,81.2 298.5,80.9 299.1,80.1 299.7,79.7 300.3,79.3 300.9,80.1 301.5,80.1 302.1,78.9 302.7,78.6 303.3,79.1 303.9,79.3 304.5,78.8 305.1,78.9 305.8,78.6 306.4,78.7 307.0,78.2 307.6,78.2 308.2,77.3 308.8,76.3 309.4,76.5 310.0,76.3 310.6,76.5 311.2,76.7 311.8,76.4 312.4,75.4 313.0,75.1 313.6,74.8 314.2,75.3 314.8,75.1 315.5,74.5 316.1,73.6 316.7,73.4 317.3,74.2 317.9,74.6 318.5,74.3 319.1,73.2 319.7,73.2 320.3,73.4 320.9,73.3 321.5,74.0 322.1,73.4 322.7,72.1 323.3,71.8 323.9,71.9 324.6,72.0 325.2,71.2 325.8,70.7 326.4,71.4 327.0,71.2 327.6,70.9 328.2,70.5 328.8,70.4 329.4,70.4 330.0,70.4 330.6,70.1 331.2,70.0 331.8,69.7 332.4,69.3 333.0,69.0 333.6,69.1 334.3,68.8 334.9,68.2 335.5,68.4 336.1,68.3 336.7,67.7 337.3,67.7 337.9,67.6 338.5,67.6 339.1,67.8 339.7,67.0 340.3,66.3 340.9,66.6 341.5,67.2 342.1,66.7 342.7,66.7 343.3,66.3 344.0,66.1 344.6,66.1 345.2,65.3 345.8,65.2 346.4,64.9 347.0,64.6 347.6,64.2 348.2,64.3 348.8,65.1 349.4,64.9 350.0,65.2 350.6,64.5 351.2,63.6 351.8,63.2 352.4,64.8 353.0,66.7 353.7,67.9 354.3,68.9 354.9,69.4 355.5,70.3 356.1,71.3 356.7,71.2 357.3,72.9 357.9,74.0 358.5,74.2 359.1,74.6 359.7,75.2 360.3,75.9 360.9,75.8 361.5,76.2 362.1,76.1 362.7,76.6 363.4,77.9 364.0,78.4 364.6,78.4 365.2,78.2 365.8,78.2 366.4,78.5 367.0,78.9 367.6,78.6 368.2,78.5 368.8,79.4 369.4,79.4 370.0,79.2 370.6,79.4 371.2,79.3 371.8,78.7 372.4,78.8 373.1,79.3 373.7,79.7 374.3,79.0 374.9,79.6 375.5,80.2 376.1,80.3 376.7,80.1 377.3,79.3 377.9,79.8 378.5,80.5 379.1,81.1 379.7,80.5 380.3,80.9 380.9,81.0 381.5,80.5 382.1,80.7 382.8,80.2 383.4,80.3 384.0,81.2 384.6,81.2 385.2,81.4 385.8,80.9 386.4,80.6 387.0,81.0 387.6,80.4 388.2,80.9 388.8,81.5 389.4,81.1 390.0,80.9 390.6,81.5 391.2,81.5 391.8,81.5 392.5,80.8 393.1,81.0 393.7,81.2 394.3,81.1 394.9,81.7 395.5,81.4 396.1,80.7 396.7,81.0 397.3,80.9 397.9,81.3 398.5,81.8 399.1,81.7 399.7,81.6 400.3,81.9 400.9,82.1 401.6,82.3 402.2,82.4 402.8,81.8 403.4,81.5 404.0,81.7 404.6,82.4 405.2,81.8 405.8,82.0 406.4,82.5 407.0,82.0 407.6,81.6 408.2,81.6 408.8,81.6 409.4,81.5 410.0,81.7 410.6,82.3 411.3,83.1 411.9,82.8 412.5,82.3 413.1,82.3 413.7,82.0 414.3,81.9 414.9,82.0 415.5,81.8 416.1,82.5 416.7,82.3 417.3,82.7 417.9,82.9 418.5,82.5" fill="none" stroke="#10bf10" stroke-width="1.6" stroke-linejoin="round"/>
<polyline points="242.7,149.7 242.9,145.5 243.0,142.1 243.2,138.4 243.3,135.1 243.5,131.8 243.6,128.8 243.8,126.0 243.9,122.9 244.1,120.7 244.2,118.2 244.4,115.1 244.5,112.6 244.7,110.7 244.8,108.6 245.0,106.5 245.1,105.8 245.3,104.4 245.4,102.6 245.6,100.4 245.7,98.9 245.9,97.3 246.0,96.1 246.2,95.5 246.3,94.7 246.5,93.3 246.6,91.2 246.8,90.3 246.9,89.8 247.1,89.3 247.2,88.6 247.4,87.8 247.6,87.3 247.7,87.1 247.9,85.8 248.0,84.8 248.2,84.0 248.3,83.2 248.5,82.5 248.6,82.1 248.8,81.9 249.4,81.0 250.0,79.0 250.6,76.7 251.2,76.3 251.8,75.2 252.4,74.1 253.0,73.6 253.6,72.8 254.2,73.0 254.8,72.9 255.4,72.2 256.0,71.6 256.6,70.6 257.3,70.1 257.9,69.6 258.5,69.3 259.1,68.0 259.7,68.3 260.3,68.2 260.9,67.8 261.5,67.7 262.1,67.6 262.7,66.9 263.3,66.2 263.9,65.9 264.5,65.7 265.1,66.1 265.7,65.7 266.3,64.6 267.0,64.8 267.6,64.5 268.2,64.0 268.8,63.8 269.4,64.4 270.0,64.2 270.6,63.8 271.2,63.8 271.8,64.1 272.4,63.5 273.0,63.7 273.6,62.5 274.2,61.8 274.8,61.7 275.4,61.9 276.0,61.3 276.7,61.6 277.3,61.7 277.9,61.5 278.5,61.0 279.1,60.3 279.7,60.1 280.3,60.8 280.9,60.1 281.5,59.2 282.1,59.1 282.7,59.1 283.3,59.4 283.9,58.8 284.5,59.1 285.1,58.4 285.7,57.4 286.4,57.0 287.0,57.3 287.6,57.3 288.2,57.7 288.8,57.4 289.4,56.8 290.0,56.9 290.6,57.1 291.2,57.2 291.8,56.5 292.4,56.2 293.0,56.5 293.6,56.1 294.2,55.3 294.8,55.5 295.4,55.8 296.1,56.0 296.7,55.7 297.3,55.1 297.9,54.5 298.5,54.7 299.1,54.2 299.7,54.7 300.3,54.6 300.9,54.0 301.5,54.2 302.1,54.4 302.7,54.0 303.3,53.8 303.9,54.3 304.5,53.8 305.1,53.5 305.8,53.3 306.4,53.0 307.0,53.2 307.6,53.1 308.2,52.7 308.8,52.4 309.4,52.3 310.0,52.0 310.6,52.3 311.2,51.9 311.8,52.3 312.4,52.1 313.0,51.5 313.6,50.8 314.2,51.1 314.8,51.4 315.5,51.0 316.1,51.4 316.7,51.5 317.3,51.1 317.9,50.8 318.5,50.6 319.1,50.9 319.7,50.6 320.3,50.3 320.9,50.4 321.5,50.5 322.1,50.6 322.7,50.0 323.3,50.0 323.9,50.0 324.6,50.1 325.2,50.1 325.8,50.3 326.4,49.8 327.0,49.4 327.6,49.4 328.2,49.1 328.8,49.0 329.4,48.8 330.0,49.4 330.6,49.9 331.2,49.2 331.8,49.2 332.4,49.3 333.0,48.8 333.6,48.6 334.3,48.6 334.9,48.8 335.5,48.6 336.1,48.2 336.7,47.9 337.3,48.5 337.9,48.4 338.5,48.4 339.1,49.1 339.7,48.8 340.3,47.7 340.9,48.4 341.5,48.1 342.1,48.3 342.7,48.6 343.3,48.8 344.0,48.3 344.6,47.7 345.2,48.0 345.8,47.5 346.4,47.1 347.0,46.7 347.6,47.2 348.2,46.8 348.8,46.8 349.4,47.5 350.0,47.7 350.6,47.0 351.2,47.5 351.8,47.3 352.4,49.9 353.0,52.6 353.7,55.6 354.3,57.5 354.9,58.9 355.5,59.6 356.1,60.6 356.7,62.8 357.3,63.6 357.9,65.1 358.5,65.2 359.1,65.3 359.7,64.9 360.3,65.7 360.9,66.6 361.5,66.9 362.1,67.0 362.7,67.0 363.4,67.1 364.0,66.8 364.6,66.6 365.2,67.2 365.8,68.2 366.4,68.6 367.0,68.2 367.6,67.6 368.2,68.0 368.8,68.3 369.4,68.3 370.0,68.8 370.6,68.7 371.2,68.2 371.8,68.3 372.4,68.5 373.1,68.3 373.7,68.6 374.3,68.8 374.9,68.6 375.5,68.3 376.1,68.6 376.7,69.0 377.3,68.8 377.9,68.1 378.5,68.0 379.1,68.8 379.7,68.8 380.3,68.7 380.9,68.4 381.5,68.3 382.1,68.1 382.8,68.5 383.4,69.1 384.0,69.2 384.6,68.8 385.2,68.5 385.8,67.8 386.4,68.2 387.0,69.3 387.6,69.3 388.2,69.9 388.8,69.9 389.4,69.1 390.0,69.1 390.6,69.4 391.2,68.9 391.8,69.7 392.5,69.9 393.1,69.3 393.7,69.3 394.3,69.5 394.9,69.5 395.5,69.5 396.1,69.6 396.7,69.9 397.3,70.6 397.9,70.4 398.5,69.7 399.1,69.9 399.7,69.5 400.3,69.3 400.9,69.8 401.6,69.5 402.2,68.9 402.8,69.1 403.4,68.9 404.0,69.0 404.6,69.5 405.2,70.1 405.8,70.6 406.4,70.6 407.0,70.0 407.6,70.0 408.2,70.1 408.8,70.0 409.4,70.3 410.0,69.9 410.6,70.2 411.3,70.4 411.9,70.4 412.5,70.1 413.1,69.7 413.7,70.8 414.3,70.5 414.9,69.9 415.5,70.2 416.1,70.4 416.7,70.1 417.3,71.1 417.9,71.3 418.5,70.7" fill="none" stroke="#1010f0" stroke-width="1.6" stroke-linejoin="round"/>
<line x1="242.70" y1="150.35" x2="242.70" y2="27.40" stroke="#000" stroke-width="1.5" />
<line x1="241.95" y1="149.60" x2="425.19" y2="149.60" stroke="#000" stroke-width="1.5" />
<line x1="237.50" y1="149.60" x2="242.70" y2="149.60" stroke="#000" stroke-width="1.5" />
<text x="236.20" y="153.10" font-size="9.8" font-weight="bold" text-anchor="end" fill="#000" >0.00</text>
<line x1="237.50" y1="119.20" x2="242.70" y2="119.20" stroke="#000" stroke-width="1.5" />
<text x="236.20" y="122.70" font-size="9.8" font-weight="bold" text-anchor="end" fill="#000" >0.05</text>
<line x1="237.50" y1="88.80" x2="242.70" y2="88.80" stroke="#000" stroke-width="1.5" />
<text x="236.20" y="92.30" font-size="9.8" font-weight="bold" text-anchor="end" fill="#000" >0.10</text>
<line x1="237.50" y1="58.40" x2="242.70" y2="58.40" stroke="#000" stroke-width="1.5" />
<text x="236.20" y="61.90" font-size="9.8" font-weight="bold" text-anchor="end" fill="#000" >0.15</text>
<line x1="237.50" y1="28.00" x2="242.70" y2="28.00" stroke="#000" stroke-width="1.5" />
<text x="236.20" y="31.50" font-size="9.8" font-weight="bold" text-anchor="end" fill="#000" >0.20</text>
<line x1="242.70" y1="149.60" x2="242.70" y2="154.80" stroke="#000" stroke-width="1.5" />
<text x="242.70" y="165.90" font-size="9.8" font-weight="bold" text-anchor="middle" fill="#000" >0</text>
<line x1="303.33" y1="149.60" x2="303.33" y2="154.80" stroke="#000" stroke-width="1.5" />
<text x="303.33" y="165.90" font-size="9.8" font-weight="bold" text-anchor="middle" fill="#000" >100</text>
<line x1="363.96" y1="149.60" x2="363.96" y2="154.80" stroke="#000" stroke-width="1.5" />
<text x="363.96" y="165.90" font-size="9.8" font-weight="bold" text-anchor="middle" fill="#000" >200</text>
<line x1="424.59" y1="149.60" x2="424.59" y2="154.80" stroke="#000" stroke-width="1.5" />
<text x="424.59" y="165.90" font-size="9.8" font-weight="bold" text-anchor="middle" fill="#000" >300</text>
<text x="334.50" y="183.60" font-size="13" font-weight="bold" text-anchor="middle" fill="#000" >Time (s)</text>
<text transform="translate(212.40,89.00) rotate(-90)" font-size="13.1" font-weight="bold" text-anchor="middle" fill="#000" >Response (nm)</text>
<text x="565.80" y="9.90" font-size="11.5" font-weight="bold" text-anchor="middle" fill="#000" >Tau D314</text>
<polyline points="474.8,147.3 475.0,147.3 475.1,147.2 475.3,147.2 475.4,147.2 475.6,147.2 475.7,147.1 475.9,147.1 476.0,147.1 476.2,147.0 476.3,147.0 476.5,147.0 476.6,146.9 476.8,146.9 476.9,146.9 477.1,146.9 477.2,146.8 477.4,146.8 477.5,146.8 477.7,146.7 477.8,146.7 478.0,146.7 478.1,146.7 478.3,146.6 478.4,146.6 478.6,146.6 478.7,146.5 478.9,146.5 479.0,146.5 479.2,146.5 479.3,146.4 479.5,146.4 479.6,146.4 479.8,146.3 479.9,146.3 480.1,146.3 480.2,146.3 480.4,146.2 480.6,146.2 480.7,146.2 480.9,146.1 481.5,146.0 482.1,145.9 482.7,145.8 483.3,145.7 483.9,145.6 484.5,145.4 485.1,145.3 485.7,145.2 486.3,145.1 486.9,145.0 487.5,144.9 488.1,144.8 488.7,144.6 489.3,144.5 489.9,144.4 490.5,144.3 491.1,144.2 491.7,144.1 492.4,144.0 493.0,143.9 493.6,143.7 494.2,143.6 494.8,143.5 495.4,143.4 496.0,143.3 496.6,143.2 497.2,143.1 497.8,143.0 498.4,142.8 499.0,142.7 499.6,142.6 500.2,142.5 500.8,142.4 501.4,142.3 502.0,142.2 502.6,142.1 503.2,142.0 503.9,141.8 504.5,141.7 505.1,141.6 505.7,141.5 506.3,141.4 506.9,141.3 507.5,141.2 508.1,141.1 508.7,141.0 509.3,140.9 509.9,140.8 510.5,140.6 511.1,140.5 511.7,140.4 512.3,140.3 512.9,140.2 513.5,140.1 514.1,140.0 514.7,139.9 515.4,139.8 516.0,139.7 516.6,139.6 517.2,139.5 517.8,139.4 518.4,139.3 519.0,139.1 519.6,139.0 520.2,138.9 520.8,138.8 521.4,138.7 522.0,138.6 522.6,138.5 523.2,138.4 523.8,138.3 524.4,138.2 525.0,138.1 525.6,138.0 526.3,137.9 526.9,137.8 527.5,137.7 528.1,137.6 528.7,137.5 529.3,137.4 529.9,137.3 530.5,137.2 531.1,137.1 531.7,136.9 532.3,136.8 532.9,136.7 533.5,136.6 534.1,136.5 534.7,136.4 535.3,136.3 535.9,136.2 536.5,136.1 537.1,136.0 537.8,135.9 538.4,135.8 539.0,135.7 539.6,135.6 540.2,135.5 540.8,135.4 541.4,135.3 542.0,135.2 542.6,135.1 543.2,135.0 543.8,134.9 544.4,134.8 545.0,134.7 545.6,134.6 546.2,134.5 546.8,134.4 547.4,134.3 548.0,134.2 548.6,134.1 549.3,134.0 549.9,133.9 550.5,133.8 551.1,133.7 551.7,133.6 552.3,133.5 552.9,133.4 553.5,133.3 554.1,133.2 554.7,133.1 555.3,133.0 555.9,132.9 556.5,132.8 557.1,132.7 557.7,132.6 558.3,132.5 558.9,132.4 559.5,132.3 560.1,132.2 560.8,132.1 561.4,132.0 562.0,132.0 562.6,131.9 563.2,131.8 563.8,131.7 564.4,131.6 565.0,131.5 565.6,131.4 566.2,131.3 566.8,131.2 567.4,131.1 568.0,131.0 568.6,130.9 569.2,130.8 569.8,130.7 570.4,130.6 571.0,130.5 571.6,130.4 572.3,130.3 572.9,130.2 573.5,130.1 574.1,130.0 574.7,130.0 575.3,129.9 575.9,129.8 576.5,129.7 577.1,129.6 577.7,129.5 578.3,129.4 578.9,129.3 579.5,129.2 580.1,129.1 580.7,129.0 581.3,128.9 581.9,128.8 582.5,128.7 583.1,128.7 583.8,128.6 584.4,128.6 585.0,128.6 585.6,128.6 586.2,128.6 586.8,128.6 587.4,128.6 588.0,128.7 588.6,128.7 589.2,128.7 589.8,128.7 590.4,128.7 591.0,128.7 591.6,128.7 592.2,128.8 592.8,128.8 593.4,128.8 594.0,128.8 594.6,128.8 595.3,128.8 595.9,128.8 596.5,128.9 597.1,128.9 597.7,128.9 598.3,128.9 598.9,128.9 599.5,128.9 600.1,128.9 600.7,128.9 601.3,129.0 601.9,129.0 602.5,129.0 603.1,129.0 603.7,129.0 604.3,129.0 604.9,129.0 605.5,129.1 606.2,129.1 606.8,129.1 607.4,129.1 608.0,129.1 608.6,129.1 609.2,129.1 609.8,129.2 610.4,129.2 611.0,129.2 611.6,129.2 612.2,129.2 612.8,129.2 613.4,129.2 614.0,129.3 614.6,129.3 615.2,129.3 615.8,129.3 616.4,129.3 617.0,129.3 617.7,129.3 618.3,129.4 618.9,129.4 619.5,129.4 620.1,129.4 620.7,129.4 621.3,129.4 621.9,129.4 622.5,129.4 623.1,129.5 623.7,129.5 624.3,129.5 624.9,129.5 625.5,129.5 626.1,129.5 626.7,129.5 627.3,129.6 627.9,129.6 628.5,129.6 629.2,129.6 629.8,129.6 630.4,129.6 631.0,129.6 631.6,129.7 632.2,129.7 632.8,129.7 633.4,129.7 634.0,129.7 634.6,129.7 635.2,129.7 635.8,129.8 636.4,129.8 637.0,129.8 637.6,129.8 638.2,129.8 638.8,129.8 639.4,129.8 640.0,129.8 640.7,129.9 641.3,129.9 641.9,129.9 642.5,129.9 643.1,129.9 643.7,129.9 644.3,129.9 644.9,130.0 645.5,130.0 646.1,130.0 646.7,130.0 647.3,130.0 647.9,130.0 648.5,130.0 649.1,130.1 649.7,130.1 650.3,130.1" fill="none" stroke="#ff2d2d" stroke-width="1.05" stroke-linejoin="round"/>
<polyline points="474.8,147.3 475.0,147.2 475.1,147.2 475.3,147.1 475.4,147.1 475.6,147.0 475.7,147.0 475.9,146.9 476.0,146.8 476.2,146.8 476.3,146.7 476.5,146.7 476.6,146.6 476.8,146.6 476.9,146.5 477.1,146.5 477.2,146.4 477.4,146.3 477.5,146.3 477.7,146.2 477.8,146.2 478.0,146.1 478.1,146.1 478.3,146.0 478.4,146.0 478.6,145.9 478.7,145.8 478.9,145.8 479.0,145.7 479.2,145.7 479.3,145.6 479.5,145.6 479.6,145.5 479.8,145.5 479.9,145.4 480.1,145.3 480.2,145.3 480.4,145.2 480.6,145.2 480.7,145.1 480.9,145.1 481.5,144.9 482.1,144.6 482.7,144.4 483.3,144.2 483.9,144.0 484.5,143.8 485.1,143.6 485.7,143.3 486.3,143.1 486.9,142.9 487.5,142.7 488.1,142.5 488.7,142.3 489.3,142.1 489.9,141.9 490.5,141.7 491.1,141.5 491.7,141.3 492.4,141.1 493.0,140.9 493.6,140.7 494.2,140.5 494.8,140.3 495.4,140.1 496.0,139.9 496.6,139.7 497.2,139.5 497.8,139.3 498.4,139.1 499.0,138.9 499.6,138.7 500.2,138.5 500.8,138.3 501.4,138.1 502.0,137.9 502.6,137.7 503.2,137.5 503.9,137.3 504.5,137.2 505.1,137.0 505.7,136.8 506.3,136.6 506.9,136.4 507.5,136.2 508.1,136.0 508.7,135.9 509.3,135.7 509.9,135.5 510.5,135.3 511.1,135.1 511.7,135.0 512.3,134.8 512.9,134.6 513.5,134.4 514.1,134.3 514.7,134.1 515.4,133.9 516.0,133.7 516.6,133.6 517.2,133.4 517.8,133.2 518.4,133.0 519.0,132.9 519.6,132.7 520.2,132.5 520.8,132.4 521.4,132.2 522.0,132.0 522.6,131.9 523.2,131.7 523.8,131.5 524.4,131.4 525.0,131.2 525.6,131.0 526.3,130.9 526.9,130.7 527.5,130.5 528.1,130.4 528.7,130.2 529.3,130.1 529.9,129.9 530.5,129.7 531.1,129.6 531.7,129.4 532.3,129.3 532.9,129.1 533.5,129.0 534.1,128.8 534.7,128.6 535.3,128.5 535.9,128.3 536.5,128.2 537.1,128.0 537.8,127.9 538.4,127.7 539.0,127.6 539.6,127.4 540.2,127.3 540.8,127.1 541.4,127.0 542.0,126.8 542.6,126.7 543.2,126.5 543.8,126.4 544.4,126.3 545.0,126.1 545.6,126.0 546.2,125.8 546.8,125.7 547.4,125.5 548.0,125.4 548.6,125.3 549.3,125.1 549.9,125.0 550.5,124.8 551.1,124.7 551.7,124.6 552.3,124.4 552.9,124.3 553.5,124.1 554.1,124.0 554.7,123.9 555.3,123.7 555.9,123.6 556.5,123.5 557.1,123.3 557.7,123.2 558.3,123.1 558.9,122.9 559.5,122.8 560.1,122.7 560.8,122.5 561.4,122.4 562.0,122.3 562.6,122.2 563.2,122.0 563.8,121.9 564.4,121.8 565.0,121.6 565.6,121.5 566.2,121.4 566.8,121.3 567.4,121.1 568.0,121.0 568.6,120.9 569.2,120.8 569.8,120.6 570.4,120.5 571.0,120.4 571.6,120.3 572.3,120.2 572.9,120.0 573.5,119.9 574.1,119.8 574.7,119.7 575.3,119.6 575.9,119.4 576.5,119.3 577.1,119.2 577.7,119.1 578.3,119.0 578.9,118.9 579.5,118.7 580.1,118.6 580.7,118.5 581.3,118.4 581.9,118.3 582.5,118.2 583.1,118.1 583.8,118.0 584.4,118.0 585.0,118.0 585.6,118.0 586.2,118.0 586.8,118.1 587.4,118.1 588.0,118.1 588.6,118.1 589.2,118.1 589.8,118.2 590.4,118.2 591.0,118.2 591.6,118.2 592.2,118.2 592.8,118.3 593.4,118.3 594.0,118.3 594.6,118.3 595.3,118.3 595.9,118.4 596.5,118.4 597.1,118.4 597.7,118.4 598.3,118.4 598.9,118.5 599.5,118.5 600.1,118.5 600.7,118.5 601.3,118.5 601.9,118.6 602.5,118.6 603.1,118.6 603.7,118.6 604.3,118.6 604.9,118.7 605.5,118.7 606.2,118.7 606.8,118.7 607.4,118.8 608.0,118.8 608.6,118.8 609.2,118.8 609.8,118.8 610.4,118.9 611.0,118.9 611.6,118.9 612.2,118.9 612.8,118.9 613.4,119.0 614.0,119.0 614.6,119.0 615.2,119.0 615.8,119.0 616.4,119.1 617.0,119.1 617.7,119.1 618.3,119.1 618.9,119.1 619.5,119.2 620.1,119.2 620.7,119.2 621.3,119.2 621.9,119.2 622.5,119.3 623.1,119.3 623.7,119.3 624.3,119.3 624.9,119.3 625.5,119.4 626.1,119.4 626.7,119.4 627.3,119.4 627.9,119.4 628.5,119.5 629.2,119.5 629.8,119.5 630.4,119.5 631.0,119.5 631.6,119.6 632.2,119.6 632.8,119.6 633.4,119.6 634.0,119.7 634.6,119.7 635.2,119.7 635.8,119.7 636.4,119.7 637.0,119.8 637.6,119.8 638.2,119.8 638.8,119.8 639.4,119.8 640.0,119.9 640.7,119.9 641.3,119.9 641.9,119.9 642.5,119.9 643.1,120.0 643.7,120.0 644.3,120.0 644.9,120.0 645.5,120.0 646.1,120.1 646.7,120.1 647.3,120.1 647.9,120.1 648.5,120.1 649.1,120.2 649.7,120.2 650.3,120.2" fill="none" stroke="#ff2d2d" stroke-width="1.05" stroke-linejoin="round"/>
<polyline points="474.8,147.3 475.0,145.2 475.1,144.2 475.3,143.6 475.4,143.2 475.6,143.0 475.7,142.8 475.9,142.6 476.0,142.5 476.2,142.3 476.3,142.1 476.5,142.0 476.6,141.8 476.8,141.7 476.9,141.5 477.1,141.4 477.2,141.2 477.4,141.1 477.5,140.9 477.7,140.8 477.8,140.6 478.0,140.5 478.1,140.4 478.3,140.2 478.4,140.1 478.6,139.9 478.7,139.8 478.9,139.6 479.0,139.5 479.2,139.3 479.3,139.2 479.5,139.0 479.6,138.9 479.8,138.8 479.9,138.6 480.1,138.5 480.2,138.3 480.4,138.2 480.6,138.0 480.7,137.9 480.9,137.8 481.5,137.2 482.1,136.7 482.7,136.1 483.3,135.6 483.9,135.0 484.5,134.5 485.1,134.0 485.7,133.4 486.3,132.9 486.9,132.4 487.5,131.9 488.1,131.4 488.7,130.9 489.3,130.4 489.9,129.9 490.5,129.4 491.1,128.9 491.7,128.4 492.4,128.0 493.0,127.5 493.6,127.0 494.2,126.6 494.8,126.1 495.4,125.7 496.0,125.2 496.6,124.8 497.2,124.3 497.8,123.9 498.4,123.5 499.0,123.1 499.6,122.6 500.2,122.2 500.8,121.8 501.4,121.4 502.0,121.0 502.6,120.6 503.2,120.2 503.9,119.8 504.5,119.4 505.1,119.0 505.7,118.6 506.3,118.2 506.9,117.9 507.5,117.5 508.1,117.1 508.7,116.8 509.3,116.4 509.9,116.0 510.5,115.7 511.1,115.3 511.7,115.0 512.3,114.6 512.9,114.3 513.5,113.9 514.1,113.6 514.7,113.3 515.4,112.9 516.0,112.6 516.6,112.3 517.2,112.0 517.8,111.6 518.4,111.3 519.0,111.0 519.6,110.7 520.2,110.4 520.8,110.1 521.4,109.8 522.0,109.5 522.6,109.2 523.2,108.9 523.8,108.6 524.4,108.3 525.0,108.1 525.6,107.8 526.3,107.5 526.9,107.2 527.5,106.9 528.1,106.7 528.7,106.4 529.3,106.1 529.9,105.9 530.5,105.6 531.1,105.4 531.7,105.1 532.3,104.8 532.9,104.6 533.5,104.3 534.1,104.1 534.7,103.9 535.3,103.6 535.9,103.4 536.5,103.1 537.1,102.9 537.8,102.7 538.4,102.4 539.0,102.2 539.6,102.0 540.2,101.8 540.8,101.5 541.4,101.3 542.0,101.1 542.6,100.9 543.2,100.7 543.8,100.5 544.4,100.2 545.0,100.0 545.6,99.8 546.2,99.6 546.8,99.4 547.4,99.2 548.0,99.0 548.6,98.8 549.3,98.6 549.9,98.4 550.5,98.2 551.1,98.1 551.7,97.9 552.3,97.7 552.9,97.5 553.5,97.3 554.1,97.1 554.7,97.0 555.3,96.8 555.9,96.6 556.5,96.4 557.1,96.3 557.7,96.1 558.3,95.9 558.9,95.7 559.5,95.6 560.1,95.4 560.8,95.3 561.4,95.1 562.0,94.9 562.6,94.8 563.2,94.6 563.8,94.5 564.4,94.3 565.0,94.2 565.6,94.0 566.2,93.9 566.8,93.7 567.4,93.6 568.0,93.4 568.6,93.3 569.2,93.1 569.8,93.0 570.4,92.8 571.0,92.7 571.6,92.6 572.3,92.4 572.9,92.3 573.5,92.2 574.1,92.0 574.7,91.9 575.3,91.8 575.9,91.6 576.5,91.5 577.1,91.4 577.7,91.3 578.3,91.1 578.9,91.0 579.5,90.9 580.1,90.8 580.7,90.7 581.3,90.5 581.9,90.4 582.5,90.3 583.1,90.2 583.8,90.1 584.4,90.1 585.0,90.1 585.6,90.2 586.2,90.2 586.8,90.2 587.4,90.3 588.0,90.3 588.6,90.3 589.2,90.3 589.8,90.4 590.4,90.4 591.0,90.4 591.6,90.5 592.2,90.5 592.8,90.5 593.4,90.5 594.0,90.6 594.6,90.6 595.3,90.6 595.9,90.7 596.5,90.7 597.1,90.7 597.7,90.8 598.3,90.8 598.9,90.8 599.5,90.8 600.1,90.9 600.7,90.9 601.3,90.9 601.9,91.0 602.5,91.0 603.1,91.0 603.7,91.0 604.3,91.1 604.9,91.1 605.5,91.1 606.2,91.2 606.8,91.2 607.4,91.2 608.0,91.2 608.6,91.3 609.2,91.3 609.8,91.3 610.4,91.4 611.0,91.4 611.6,91.4 612.2,91.5 612.8,91.5 613.4,91.5 614.0,91.5 614.6,91.6 615.2,91.6 615.8,91.6 616.4,91.7 617.0,91.7 617.7,91.7 618.3,91.7 618.9,91.8 619.5,91.8 620.1,91.8 620.7,91.9 621.3,91.9 621.9,91.9 622.5,92.0 623.1,92.0 623.7,92.0 624.3,92.0 624.9,92.1 625.5,92.1 626.1,92.1 626.7,92.2 627.3,92.2 627.9,92.2 628.5,92.2 629.2,92.3 629.8,92.3 630.4,92.3 631.0,92.4 631.6,92.4 632.2,92.4 632.8,92.4 633.4,92.5 634.0,92.5 634.6,92.5 635.2,92.6 635.8,92.6 636.4,92.6 637.0,92.7 637.6,92.7 638.2,92.7 638.8,92.7 639.4,92.8 640.0,92.8 640.7,92.8 641.3,92.9 641.9,92.9 642.5,92.9 643.1,92.9 643.7,93.0 644.3,93.0 644.9,93.0 645.5,93.1 646.1,93.1 646.7,93.1 647.3,93.2 647.9,93.2 648.5,93.2 649.1,93.2 649.7,93.3 650.3,93.3" fill="none" stroke="#ff2d2d" stroke-width="1.05" stroke-linejoin="round"/>
<polyline points="474.8,147.3 475.0,146.6 475.1,145.9 475.3,145.2 475.4,144.5 475.6,143.8 475.7,143.2 475.9,142.5 476.0,141.9 476.2,141.2 476.3,140.6 476.5,139.9 476.6,139.3 476.8,138.7 476.9,138.1 477.1,137.5 477.2,136.9 477.4,136.3 477.5,135.7 477.7,135.1 477.8,134.5 478.0,133.9 478.1,133.4 478.3,132.8 478.4,132.2 478.6,131.7 478.7,131.2 478.9,130.6 479.0,130.1 479.2,129.6 479.3,129.0 479.5,128.5 479.6,128.0 479.8,127.5 479.9,127.0 480.1,126.5 480.2,126.0 480.4,125.5 480.6,125.1 480.7,124.6 480.9,124.1 481.5,122.3 482.1,120.5 482.7,118.8 483.3,117.2 483.9,115.7 484.5,114.2 485.1,112.7 485.7,111.4 486.3,110.0 486.9,108.8 487.5,107.6 488.1,106.4 488.7,105.3 489.3,104.2 489.9,103.2 490.5,102.2 491.1,101.2 491.7,100.3 492.4,99.4 493.0,98.5 493.6,97.7 494.2,96.9 494.8,96.2 495.4,95.4 496.0,94.7 496.6,94.1 497.2,93.4 497.8,92.8 498.4,92.2 499.0,91.6 499.6,91.0 500.2,90.5 500.8,90.0 501.4,89.5 502.0,89.0 502.6,88.5 503.2,88.1 503.9,87.6 504.5,87.2 505.1,86.8 505.7,86.4 506.3,86.1 506.9,85.7 507.5,85.3 508.1,85.0 508.7,84.7 509.3,84.4 509.9,84.1 510.5,83.8 511.1,83.5 511.7,83.2 512.3,82.9 512.9,82.7 513.5,82.4 514.1,82.2 514.7,81.9 515.4,81.7 516.0,81.5 516.6,81.3 517.2,81.1 517.8,80.9 518.4,80.7 519.0,80.5 519.6,80.3 520.2,80.1 520.8,80.0 521.4,79.8 522.0,79.6 522.6,79.5 523.2,79.3 523.8,79.2 524.4,79.0 525.0,78.9 525.6,78.7 526.3,78.6 526.9,78.5 527.5,78.3 528.1,78.2 528.7,78.1 529.3,78.0 529.9,77.9 530.5,77.7 531.1,77.6 531.7,77.5 532.3,77.4 532.9,77.3 533.5,77.2 534.1,77.1 534.7,77.0 535.3,76.9 535.9,76.8 536.5,76.7 537.1,76.7 537.8,76.6 538.4,76.5 539.0,76.4 539.6,76.3 540.2,76.3 540.8,76.2 541.4,76.1 542.0,76.0 542.6,76.0 543.2,75.9 543.8,75.8 544.4,75.7 545.0,75.7 545.6,75.6 546.2,75.5 546.8,75.5 547.4,75.4 548.0,75.4 548.6,75.3 549.3,75.2 549.9,75.2 550.5,75.1 551.1,75.1 551.7,75.0 552.3,75.0 552.9,74.9 553.5,74.9 554.1,74.8 554.7,74.8 555.3,74.7 555.9,74.7 556.5,74.6 557.1,74.6 557.7,74.5 558.3,74.5 558.9,74.4 559.5,74.4 560.1,74.3 560.8,74.3 561.4,74.3 562.0,74.2 562.6,74.2 563.2,74.1 563.8,74.1 564.4,74.1 565.0,74.0 565.6,74.0 566.2,73.9 566.8,73.9 567.4,73.9 568.0,73.8 568.6,73.8 569.2,73.8 569.8,73.7 570.4,73.7 571.0,73.7 571.6,73.6 572.3,73.6 572.9,73.6 573.5,73.5 574.1,73.5 574.7,73.5 575.3,73.4 575.9,73.4 576.5,73.4 577.1,73.3 577.7,73.3 578.3,73.3 578.9,73.3 579.5,73.2 580.1,73.2 580.7,73.2 581.3,73.1 581.9,73.1 582.5,73.1 583.1,73.1 583.8,73.0 584.4,73.1 585.0,73.1 585.6,73.2 586.2,73.2 586.8,73.2 587.4,73.3 588.0,73.3 588.6,73.4 589.2,73.4 589.8,73.4 590.4,73.5 591.0,73.5 591.6,73.6 592.2,73.6 592.8,73.6 593.4,73.7 594.0,73.7 594.6,73.8 595.3,73.8 595.9,73.8 596.5,73.9 597.1,73.9 597.7,74.0 598.3,74.0 598.9,74.0 599.5,74.1 600.1,74.1 600.7,74.2 601.3,74.2 601.9,74.2 602.5,74.3 603.1,74.3 603.7,74.4 604.3,74.4 604.9,74.4 605.5,74.5 606.2,74.5 606.8,74.6 607.4,74.6 608.0,74.6 608.6,74.7 609.2,74.7 609.8,74.8 610.4,74.8 611.0,74.8 611.6,74.9 612.2,74.9 612.8,74.9 613.4,75.0 614.0,75.0 614.6,75.1 615.2,75.1 615.8,75.1 616.4,75.2 617.0,75.2 617.7,75.3 618.3,75.3 618.9,75.3 619.5,75.4 620.1,75.4 620.7,75.5 621.3,75.5 621.9,75.5 622.5,75.6 623.1,75.6 623.7,75.7 624.3,75.7 624.9,75.7 625.5,75.8 626.1,75.8 626.7,75.9 627.3,75.9 627.9,75.9 628.5,76.0 629.2,76.0 629.8,76.1 630.4,76.1 631.0,76.1 631.6,76.2 632.2,76.2 632.8,76.3 633.4,76.3 634.0,76.3 634.6,76.4 635.2,76.4 635.8,76.5 636.4,76.5 637.0,76.5 637.6,76.6 638.2,76.6 638.8,76.7 639.4,76.7 640.0,76.7 640.7,76.8 641.3,76.8 641.9,76.9 642.5,76.9 643.1,76.9 643.7,77.0 644.3,77.0 644.9,77.1 645.5,77.1 646.1,77.1 646.7,77.2 647.3,77.2 647.9,77.3 648.5,77.3 649.1,77.3 649.7,77.4 650.3,77.4" fill="none" stroke="#ff2d2d" stroke-width="1.05" stroke-linejoin="round"/>
<polyline points="474.8,147.3 475.0,147.3 475.1,147.5 475.3,147.5 475.4,146.0 475.6,145.7 475.7,146.1 475.9,145.7 476.0,145.7 476.2,145.7 476.3,145.2 476.5,145.4 476.6,145.5 476.8,145.4 476.9,144.9 477.1,144.7 477.2,144.5 477.4,144.7 477.5,144.5 477.7,144.5 477.8,143.9 478.0,143.8 478.1,143.7 478.3,143.7 478.4,143.9 478.6,143.1 478.7,142.7 478.9,143.9 479.0,144.3 479.2,143.8 479.3,142.8 479.5,142.6 479.6,142.2 479.8,142.2 479.9,142.4 480.1,142.4 480.2,142.3 480.4,142.1 480.6,142.6 480.7,142.4 480.9,141.8 481.5,141.1 482.1,141.6 482.7,141.7 483.3,141.1 483.9,140.3 484.5,140.2 485.1,139.9 485.7,140.4 486.3,139.4 486.9,139.2 487.5,139.8 488.1,139.1 488.7,138.5 489.3,138.5 489.9,138.0 490.5,137.4 491.1,138.0 491.7,138.4 492.4,138.3 493.0,137.8 493.6,137.8 494.2,137.8 494.8,137.5 495.4,137.3 496.0,137.8 496.6,138.2 497.2,138.0 497.8,136.7 498.4,136.4 499.0,136.0 499.6,136.4 500.2,136.7 500.8,136.2 501.4,136.3 502.0,136.7 502.6,136.2 503.2,135.2 503.9,135.3 504.5,135.4 505.1,135.7 505.7,135.6 506.3,135.0 506.9,135.2 507.5,135.4 508.1,135.3 508.7,135.2 509.3,134.7 509.9,134.3 510.5,134.6 511.1,134.1 511.7,134.4 512.3,134.4 512.9,134.5 513.5,134.3 514.1,134.0 514.7,134.1 515.4,134.2 516.0,134.1 516.6,134.2 517.2,134.2 517.8,133.6 518.4,133.0 519.0,132.7 519.6,132.4 520.2,131.9 520.8,132.5 521.4,132.7 522.0,132.2 522.6,132.7 523.2,132.4 523.8,132.7 524.4,132.6 525.0,132.9 525.6,132.1 526.3,132.2 526.9,132.2 527.5,131.3 528.1,131.3 528.7,131.7 529.3,132.0 529.9,131.7 530.5,131.5 531.1,131.0 531.7,131.0 532.3,131.5 532.9,131.5 533.5,131.5 534.1,131.7 534.7,131.3 535.3,130.9 535.9,130.3 536.5,130.2 537.1,130.7 537.8,130.5 538.4,130.3 539.0,129.6 539.6,130.0 540.2,130.1 540.8,130.5 541.4,130.5 542.0,130.1 542.6,130.0 543.2,129.9 543.8,130.2 544.4,129.7 545.0,129.7 545.6,129.0 546.2,129.2 546.8,129.2 547.4,129.7 548.0,129.4 548.6,129.5 549.3,129.4 549.9,129.1 550.5,129.1 551.1,128.7 551.7,128.4 552.3,128.4 552.9,128.8 553.5,129.3 554.1,129.1 554.7,129.0 555.3,129.2 555.9,128.4 556.5,128.3 557.1,128.2 557.7,127.7 558.3,127.7 558.9,128.0 559.5,128.3 560.1,127.9 560.8,127.8 561.4,127.9 562.0,127.3 562.6,127.6 563.2,128.3 563.8,127.9 564.4,127.8 565.0,127.0 565.6,127.0 566.2,127.7 566.8,127.7 567.4,127.3 568.0,127.0 568.6,126.4 569.2,126.5 569.8,126.9 570.4,127.0 571.0,127.5 571.6,126.8 572.3,126.3 572.9,126.7 573.5,126.8 574.1,126.1 574.7,125.6 575.3,126.2 575.9,126.6 576.5,126.1 577.1,126.8 577.7,126.3 578.3,126.2 578.9,125.9 579.5,126.1 580.1,125.5 580.7,125.9 581.3,126.8 581.9,126.9 582.5,126.0 583.1,125.2 583.8,125.5 584.4,125.9 585.0,126.1 585.6,126.0 586.2,126.3 586.8,126.7 587.4,127.2 588.0,126.6 588.6,126.8 589.2,127.6 589.8,126.8 590.4,127.3 591.0,128.4 591.6,128.9 592.2,128.3 592.8,128.3 593.4,129.0 594.0,129.4 594.6,128.8 595.3,129.2 595.9,129.0 596.5,127.9 597.1,128.0 597.7,128.9 598.3,129.6 598.9,129.8 599.5,130.6 600.1,130.3 600.7,130.5 601.3,130.9 601.9,130.9 602.5,130.3 603.1,130.2 603.7,130.3 604.3,130.3 604.9,131.0 605.5,131.5 606.2,131.6 606.8,131.1 607.4,130.6 608.0,130.8 608.6,130.9 609.2,131.5 609.8,131.5 610.4,131.7 611.0,131.5 611.6,130.5 612.2,130.8 612.8,131.6 613.4,131.8 614.0,131.7 614.6,131.9 615.2,131.6 615.8,132.0 616.4,132.0 617.0,132.0 617.7,132.1 618.3,132.4 618.9,132.5 619.5,132.3 620.1,132.1 620.7,131.8 621.3,131.5 621.9,130.9 622.5,131.2 623.1,131.6 623.7,131.5 624.3,131.7 624.9,131.2 625.5,131.5 626.1,132.1 626.7,131.5 627.3,131.7 627.9,132.8 628.5,132.5 629.2,132.3 629.8,132.7 630.4,132.5 631.0,132.2 631.6,131.6 632.2,131.2 632.8,130.7 633.4,131.4 634.0,131.3 634.6,131.5 635.2,131.7 635.8,132.3 636.4,132.7 637.0,132.1 637.6,131.2 638.2,130.8 638.8,131.1 639.4,131.4 640.0,131.6 640.7,130.9 641.3,130.8 641.9,131.5 642.5,131.7 643.1,131.7 643.7,130.9 644.3,131.1 644.9,131.3 645.5,131.2 646.1,131.2 646.7,131.6 647.3,132.0 647.9,132.2 648.5,132.1 649.1,131.0 649.7,130.5 650.3,131.6" fill="none" stroke="#9a6a22" stroke-width="1.6" stroke-linejoin="round"/>
<polyline points="474.8,147.2 475.0,146.9 475.1,147.0 475.3,146.5 475.4,146.3 475.6,145.5 475.7,145.5 475.9,145.1 476.0,144.7 476.2,145.0 476.3,145.2 476.5,144.5 476.6,143.7 476.8,143.6 476.9,143.5 477.1,143.6 477.2,143.0 477.4,142.5 477.5,142.3 477.7,141.7 477.8,142.2 478.0,142.7 478.1,142.5 478.3,141.5 478.4,141.3 478.6,140.9 478.7,140.7 478.9,140.2 479.0,140.2 479.2,140.7 479.3,140.4 479.5,140.2 479.6,140.5 479.8,139.6 479.9,139.3 480.1,139.4 480.2,139.7 480.4,139.7 480.6,140.0 480.7,139.6 480.9,139.5 481.5,139.0 482.1,138.6 482.7,137.9 483.3,137.4 483.9,137.6 484.5,137.1 485.1,137.7 485.7,137.5 486.3,136.4 486.9,135.8 487.5,135.6 488.1,135.9 488.7,135.2 489.3,134.6 489.9,134.0 490.5,134.1 491.1,134.0 491.7,134.1 492.4,133.8 493.0,133.4 493.6,133.0 494.2,133.3 494.8,133.0 495.4,132.1 496.0,131.4 496.6,131.6 497.2,131.6 497.8,131.5 498.4,130.9 499.0,130.6 499.6,130.1 500.2,130.5 500.8,130.9 501.4,130.8 502.0,130.8 502.6,130.4 503.2,129.3 503.9,129.2 504.5,129.5 505.1,128.6 505.7,128.8 506.3,129.1 506.9,128.6 507.5,128.5 508.1,128.8 508.7,128.9 509.3,128.1 509.9,127.9 510.5,128.4 511.1,127.4 511.7,126.9 512.3,127.1 512.9,126.9 513.5,126.8 514.1,126.9 514.7,126.4 515.4,125.8 516.0,126.3 516.6,125.9 517.2,125.6 517.8,125.8 518.4,125.8 519.0,125.9 519.6,125.5 520.2,124.9 520.8,124.7 521.4,124.4 522.0,123.3 522.6,124.0 523.2,124.1 523.8,124.0 524.4,123.8 525.0,123.2 525.6,123.3 526.3,122.7 526.9,122.7 527.5,123.2 528.1,122.7 528.7,122.5 529.3,121.7 529.9,122.4 530.5,123.0 531.1,123.3 531.7,122.9 532.3,122.5 532.9,122.4 533.5,122.4 534.1,122.0 534.7,121.4 535.3,121.0 535.9,121.7 536.5,121.6 537.1,121.6 537.8,121.7 538.4,121.5 539.0,121.0 539.6,120.3 540.2,120.3 540.8,120.3 541.4,119.8 542.0,119.8 542.6,119.8 543.2,119.7 543.8,119.8 544.4,119.3 545.0,119.1 545.6,119.5 546.2,119.5 546.8,118.6 547.4,118.3 548.0,117.6 548.6,118.4 549.3,118.4 549.9,118.5 550.5,118.2 551.1,118.0 551.7,118.4 552.3,118.2 552.9,117.9 553.5,117.7 554.1,117.3 554.7,117.0 555.3,117.0 555.9,117.3 556.5,117.6 557.1,117.8 557.7,117.7 558.3,117.3 558.9,116.8 559.5,117.1 560.1,117.2 560.8,116.7 561.4,116.9 562.0,116.9 562.6,116.5 563.2,116.5 563.8,117.3 564.4,116.9 565.0,116.2 565.6,116.2 566.2,116.3 566.8,115.9 567.4,115.3 568.0,115.5 568.6,115.2 569.2,115.1 569.8,115.4 570.4,115.2 571.0,115.4 571.6,115.6 572.3,115.5 572.9,114.8 573.5,115.0 574.1,115.2 574.7,115.0 575.3,114.0 575.9,114.1 576.5,114.5 577.1,114.9 577.7,115.0 578.3,114.3 578.9,114.2 579.5,114.5 580.1,113.7 580.7,113.6 581.3,114.3 581.9,114.2 582.5,114.0 583.1,113.7 583.8,113.9 584.4,114.6 585.0,114.2 585.6,114.6 586.2,114.7 586.8,115.2 587.4,116.1 588.0,116.3 588.6,116.4 589.2,116.8 589.8,117.5 590.4,118.0 591.0,118.1 591.6,118.6 592.2,119.0 592.8,119.5 593.4,119.2 594.0,119.5 594.6,119.6 595.3,119.4 595.9,119.1 596.5,118.8 597.1,119.7 597.7,120.4 598.3,120.3 598.9,120.3 599.5,120.3 600.1,120.7 600.7,120.9 601.3,121.0 601.9,121.2 602.5,121.6 603.1,121.3 603.7,120.8 604.3,120.5 604.9,121.0 605.5,121.2 606.2,120.9 606.8,120.7 607.4,120.5 608.0,120.9 608.6,121.1 609.2,120.7 609.8,120.8 610.4,121.5 611.0,121.8 611.6,122.3 612.2,122.1 612.8,122.1 613.4,122.0 614.0,122.0 614.6,121.9 615.2,121.8 615.8,121.7 616.4,121.8 617.0,122.3 617.7,122.4 618.3,121.5 618.9,121.3 619.5,122.0 620.1,122.1 620.7,122.8 621.3,123.0 621.9,122.3 622.5,121.8 623.1,122.5 623.7,122.5 624.3,122.0 624.9,122.7 625.5,122.2 626.1,122.1 626.7,122.3 627.3,122.0 627.9,121.5 628.5,122.5 629.2,122.7 629.8,122.7 630.4,122.9 631.0,122.9 631.6,122.0 632.2,122.5 632.8,123.3 633.4,123.0 634.0,122.5 634.6,122.6 635.2,123.2 635.8,122.8 636.4,122.5 637.0,122.4 637.6,122.7 638.2,123.1 638.8,122.2 639.4,122.2 640.0,121.6 640.7,121.4 641.3,122.7 641.9,123.2 642.5,122.7 643.1,122.9 643.7,123.2 644.3,123.1 644.9,122.4 645.5,123.1 646.1,123.6 646.7,123.5 647.3,123.5 647.9,123.1 648.5,123.3 649.1,123.4 649.7,123.0 650.3,123.3" fill="none" stroke="#ff8a10" stroke-width="1.6" stroke-linejoin="round"/>
<polyline points="474.8,146.8 475.0,145.7 475.1,145.3 475.3,144.5 475.4,143.2 475.6,142.0 475.7,141.4 475.9,140.7 476.0,139.9 476.2,139.0 476.3,138.3 476.5,138.1 476.6,137.5 476.8,136.7 476.9,136.2 477.1,135.3 477.2,134.6 477.4,134.3 477.5,134.2 477.7,133.5 477.8,132.1 478.0,132.0 478.1,132.4 478.3,131.8 478.4,130.3 478.6,129.9 478.7,130.0 478.9,129.8 479.0,130.2 479.2,129.5 479.3,129.0 479.5,129.5 479.6,129.0 479.8,127.9 479.9,127.5 480.1,127.7 480.2,127.2 480.4,126.6 480.6,127.1 480.7,127.3 480.9,126.7 481.5,125.7 482.1,124.4 482.7,124.1 483.3,123.7 483.9,122.3 484.5,122.4 485.1,121.9 485.7,121.3 486.3,120.9 486.9,120.6 487.5,120.3 488.1,120.3 488.7,120.4 489.3,119.7 489.9,119.2 490.5,118.8 491.1,118.5 491.7,118.2 492.4,117.1 493.0,117.0 493.6,117.8 494.2,117.2 494.8,117.2 495.4,117.3 496.0,116.2 496.6,115.9 497.2,115.7 497.8,115.2 498.4,114.3 499.0,113.8 499.6,113.8 500.2,113.6 500.8,113.5 501.4,113.4 502.0,113.3 502.6,112.9 503.2,112.7 503.9,112.0 504.5,111.5 505.1,111.2 505.7,110.5 506.3,110.1 506.9,111.3 507.5,110.9 508.1,110.6 508.7,110.4 509.3,110.3 509.9,109.7 510.5,109.4 511.1,109.2 511.7,108.9 512.3,109.0 512.9,109.0 513.5,107.8 514.1,107.7 514.7,107.7 515.4,107.2 516.0,107.4 516.6,107.4 517.2,106.5 517.8,106.7 518.4,106.1 519.0,105.4 519.6,104.6 520.2,104.4 520.8,104.7 521.4,104.9 522.0,104.5 522.6,103.5 523.2,102.9 523.8,103.2 524.4,103.4 525.0,102.9 525.6,103.0 526.3,102.9 526.9,102.5 527.5,102.0 528.1,101.6 528.7,101.1 529.3,100.8 529.9,101.2 530.5,102.1 531.1,101.8 531.7,100.7 532.3,100.1 532.9,99.3 533.5,99.6 534.1,99.6 534.7,98.9 535.3,98.7 535.9,98.9 536.5,98.8 537.1,99.1 537.8,98.7 538.4,97.9 539.0,98.2 539.6,97.4 540.2,97.0 540.8,96.7 541.4,96.5 542.0,96.8 542.6,97.5 543.2,97.2 543.8,96.5 544.4,95.9 545.0,96.2 545.6,96.1 546.2,95.5 546.8,94.9 547.4,95.6 548.0,95.4 548.6,94.8 549.3,95.1 549.9,94.4 550.5,94.3 551.1,94.5 551.7,94.1 552.3,93.8 552.9,93.2 553.5,92.6 554.1,92.2 554.7,92.4 555.3,92.5 555.9,92.5 556.5,92.0 557.1,91.7 557.7,92.2 558.3,91.5 558.9,91.4 559.5,91.1 560.1,90.7 560.8,90.3 561.4,90.4 562.0,90.5 562.6,90.1 563.2,90.0 563.8,89.9 564.4,89.5 565.0,89.1 565.6,89.1 566.2,89.2 566.8,89.5 567.4,89.2 568.0,89.3 568.6,88.5 569.2,88.4 569.8,87.3 570.4,86.6 571.0,87.3 571.6,87.0 572.3,87.1 572.9,87.5 573.5,87.4 574.1,86.6 574.7,86.0 575.3,86.4 575.9,87.1 576.5,86.9 577.1,86.1 577.7,85.4 578.3,85.4 578.9,85.3 579.5,84.9 580.1,85.2 580.7,85.2 581.3,85.3 581.9,85.5 582.5,84.6 583.1,84.1 583.8,84.0 584.4,85.3 585.0,85.7 585.6,85.5 586.2,85.9 586.8,86.3 587.4,87.4 588.0,87.8 588.6,88.2 589.2,88.5 589.8,88.9 590.4,88.9 591.0,88.9 591.6,89.7 592.2,90.7 592.8,90.3 593.4,90.6 594.0,91.5 594.6,91.8 595.3,91.6 595.9,91.7 596.5,92.4 597.1,93.0 597.7,92.6 598.3,92.3 598.9,92.1 599.5,93.0 600.1,92.3 600.7,92.4 601.3,93.1 601.9,93.1 602.5,93.6 603.1,93.9 603.7,94.5 604.3,94.7 604.9,95.2 605.5,95.5 606.2,95.3 606.8,95.2 607.4,94.8 608.0,94.6 608.6,95.2 609.2,95.4 609.8,95.6 610.4,96.2 611.0,95.8 611.6,95.7 612.2,96.0 612.8,96.6 613.4,97.0 614.0,96.4 614.6,95.9 615.2,95.5 615.8,95.4 616.4,95.5 617.0,95.9 617.7,95.9 618.3,96.3 618.9,96.2 619.5,95.8 620.1,95.4 620.7,96.4 621.3,97.0 621.9,96.5 622.5,96.9 623.1,97.0 623.7,97.1 624.3,97.1 624.9,96.4 625.5,96.6 626.1,97.1 626.7,97.1 627.3,97.1 627.9,96.9 628.5,97.2 629.2,97.5 629.8,97.5 630.4,97.3 631.0,97.1 631.6,97.4 632.2,97.2 632.8,96.6 633.4,96.0 634.0,96.9 634.6,98.3 635.2,97.8 635.8,97.3 636.4,96.9 637.0,96.4 637.6,97.0 638.2,97.9 638.8,97.3 639.4,97.0 640.0,96.8 640.7,96.7 641.3,97.3 641.9,97.1 642.5,97.7 643.1,97.3 643.7,96.7 644.3,96.3 644.9,97.4 645.5,97.8 646.1,97.2 646.7,97.1 647.3,96.7 647.9,97.3 648.5,97.4 649.1,96.7 649.7,96.8 650.3,96.7" fill="none" stroke="#10bf10" stroke-width="1.6" stroke-linejoin="round"/>
<polyline points="474.8,147.7 475.0,145.0 475.1,143.6 475.3,141.8 475.4,140.8 475.6,139.5 475.7,137.5 475.9,135.5 476.0,133.7 476.2,132.6 476.3,131.3 476.5,129.8 476.6,128.1 476.8,128.0 476.9,126.8 477.1,125.9 477.2,125.1 477.4,124.1 477.5,123.0 477.7,122.8 477.8,122.2 478.0,121.0 478.1,120.2 478.3,118.8 478.4,117.9 478.6,117.7 478.7,116.8 478.9,116.4 479.0,115.7 479.2,114.7 479.3,113.6 479.5,113.7 479.6,113.7 479.8,113.0 479.9,112.1 480.1,112.3 480.2,111.7 480.4,111.3 480.6,111.4 480.7,110.2 480.9,109.0 481.5,107.7 482.1,106.6 482.7,104.9 483.3,103.4 483.9,102.1 484.5,102.0 485.1,101.3 485.7,100.3 486.3,99.5 486.9,98.7 487.5,98.1 488.1,97.9 488.7,97.5 489.3,96.7 489.9,96.3 490.5,95.6 491.1,94.7 491.7,93.6 492.4,93.0 493.0,93.0 493.6,92.2 494.2,91.4 494.8,91.4 495.4,91.7 496.0,91.3 496.6,89.7 497.2,88.9 497.8,88.8 498.4,88.7 499.0,87.4 499.6,86.9 500.2,87.1 500.8,87.1 501.4,87.1 502.0,86.1 502.6,86.0 503.2,85.0 503.9,84.3 504.5,84.0 505.1,83.4 505.7,83.4 506.3,82.9 506.9,82.4 507.5,82.3 508.1,82.1 508.7,81.2 509.3,81.1 509.9,81.1 510.5,80.8 511.1,80.0 511.7,79.1 512.3,79.4 512.9,79.6 513.5,79.6 514.1,79.6 514.7,79.3 515.4,78.2 516.0,77.9 516.6,78.1 517.2,77.9 517.8,77.3 518.4,77.0 519.0,76.8 519.6,76.0 520.2,75.6 520.8,75.3 521.4,74.9 522.0,74.8 522.6,74.3 523.2,74.5 523.8,73.9 524.4,73.5 525.0,73.5 525.6,73.4 526.3,73.7 526.9,73.6 527.5,72.9 528.1,72.6 528.7,71.9 529.3,71.7 529.9,71.3 530.5,71.1 531.1,71.0 531.7,70.9 532.3,70.9 532.9,70.4 533.5,69.7 534.1,70.5 534.7,70.0 535.3,69.2 535.9,68.9 536.5,68.5 537.1,68.8 537.8,69.3 538.4,69.1 539.0,68.9 539.6,67.8 540.2,67.4 540.8,67.8 541.4,67.6 542.0,67.8 542.6,68.0 543.2,67.7 543.8,67.7 544.4,67.2 545.0,66.5 545.6,66.0 546.2,65.7 546.8,66.0 547.4,65.8 548.0,65.5 548.6,65.7 549.3,66.6 549.9,65.9 550.5,65.1 551.1,65.3 551.7,64.8 552.3,64.6 552.9,65.2 553.5,64.7 554.1,64.2 554.7,64.3 555.3,64.6 555.9,64.0 556.5,63.8 557.1,63.3 557.7,63.3 558.3,63.5 558.9,63.3 559.5,63.4 560.1,63.5 560.8,63.6 561.4,62.9 562.0,62.3 562.6,62.3 563.2,62.4 563.8,62.6 564.4,62.3 565.0,62.0 565.6,62.1 566.2,61.2 566.8,61.1 567.4,60.6 568.0,60.8 568.6,61.3 569.2,61.0 569.8,60.9 570.4,60.7 571.0,60.7 571.6,61.1 572.3,61.1 572.9,61.1 573.5,61.2 574.1,60.7 574.7,60.3 575.3,60.1 575.9,60.1 576.5,60.1 577.1,60.0 577.7,60.7 578.3,60.3 578.9,59.8 579.5,59.3 580.1,59.1 580.7,59.1 581.3,59.2 581.9,59.1 582.5,59.5 583.1,59.6 583.8,59.7 584.4,59.4 585.0,60.1 585.6,61.9 586.2,63.3 586.8,64.5 587.4,64.9 588.0,64.9 588.6,65.7 589.2,66.8 589.8,67.2 590.4,67.5 591.0,67.6 591.6,68.0 592.2,68.8 592.8,69.3 593.4,70.1 594.0,71.1 594.6,70.9 595.3,71.0 595.9,71.4 596.5,72.4 597.1,72.2 597.7,72.6 598.3,72.7 598.9,72.8 599.5,74.0 600.1,74.3 600.7,73.9 601.3,74.7 601.9,75.0 602.5,74.7 603.1,74.9 603.7,74.9 604.3,75.2 604.9,75.4 605.5,75.1 606.2,75.0 606.8,75.7 607.4,75.6 608.0,75.8 608.6,76.3 609.2,76.7 609.8,77.3 610.4,77.4 611.0,77.1 611.6,77.1 612.2,77.0 612.8,77.9 613.4,78.0 614.0,78.0 614.6,77.8 615.2,77.6 615.8,78.2 616.4,78.0 617.0,78.3 617.7,78.3 618.3,78.0 618.9,78.3 619.5,78.2 620.1,78.4 620.7,78.7 621.3,79.1 621.9,79.6 622.5,79.3 623.1,78.8 623.7,79.0 624.3,79.4 624.9,78.7 625.5,78.9 626.1,79.7 626.7,79.7 627.3,79.4 627.9,80.0 628.5,79.8 629.2,79.4 629.8,79.4 630.4,79.4 631.0,79.4 631.6,79.8 632.2,79.5 632.8,78.9 633.4,79.9 634.0,79.9 634.6,79.7 635.2,79.7 635.8,79.2 636.4,79.4 637.0,79.7 637.6,80.5 638.2,79.5 638.8,79.3 639.4,79.8 640.0,79.4 640.7,79.4 641.3,79.2 641.9,79.0 642.5,79.8 643.1,80.3 643.7,80.3 644.3,80.6 644.9,80.6 645.5,80.5 646.1,80.3 646.7,79.6 647.3,79.7 647.9,80.2 648.5,80.0 649.1,80.7 649.7,80.6 650.3,80.3" fill="none" stroke="#1010f0" stroke-width="1.6" stroke-linejoin="round"/>
<line x1="474.80" y1="148.05" x2="474.80" y2="25.50" stroke="#000" stroke-width="1.5" />
<line x1="474.05" y1="147.30" x2="656.99" y2="147.30" stroke="#000" stroke-width="1.5" />
<line x1="469.60" y1="147.30" x2="474.80" y2="147.30" stroke="#000" stroke-width="1.5" />
<text x="468.30" y="150.80" font-size="9.8" font-weight="bold" text-anchor="end" fill="#000" >0.00</text>
<line x1="469.60" y1="117.00" x2="474.80" y2="117.00" stroke="#000" stroke-width="1.5" />
<text x="468.30" y="120.50" font-size="9.8" font-weight="bold" text-anchor="end" fill="#000" >0.05</text>
<line x1="469.60" y1="86.70" x2="474.80" y2="86.70" stroke="#000" stroke-width="1.5" />
<text x="468.30" y="90.20" font-size="9.8" font-weight="bold" text-anchor="end" fill="#000" >0.10</text>
<line x1="469.60" y1="56.40" x2="474.80" y2="56.40" stroke="#000" stroke-width="1.5" />
<text x="468.30" y="59.90" font-size="9.8" font-weight="bold" text-anchor="end" fill="#000" >0.15</text>
<line x1="469.60" y1="26.10" x2="474.80" y2="26.10" stroke="#000" stroke-width="1.5" />
<text x="468.30" y="29.60" font-size="9.8" font-weight="bold" text-anchor="end" fill="#000" >0.20</text>
<line x1="474.80" y1="147.30" x2="474.80" y2="152.50" stroke="#000" stroke-width="1.5" />
<text x="474.80" y="163.60" font-size="9.8" font-weight="bold" text-anchor="middle" fill="#000" >0</text>
<line x1="535.33" y1="147.30" x2="535.33" y2="152.50" stroke="#000" stroke-width="1.5" />
<text x="535.33" y="163.60" font-size="9.8" font-weight="bold" text-anchor="middle" fill="#000" >100</text>
<line x1="595.86" y1="147.30" x2="595.86" y2="152.50" stroke="#000" stroke-width="1.5" />
<text x="595.86" y="163.60" font-size="9.8" font-weight="bold" text-anchor="middle" fill="#000" >200</text>
<line x1="656.39" y1="147.30" x2="656.39" y2="152.50" stroke="#000" stroke-width="1.5" />
<text x="656.39" y="163.60" font-size="9.8" font-weight="bold" text-anchor="middle" fill="#000" >300</text>
<text x="566.20" y="181.10" font-size="13" font-weight="bold" text-anchor="middle" fill="#000" >Time (s)</text>
<text transform="translate(444.50,85.70) rotate(-90)" font-size="13.1" font-weight="bold" text-anchor="middle" fill="#000" >Response (nm)</text>
<text x="333.00" y="199.40" font-size="11.5" font-weight="bold" text-anchor="middle" fill="#000" >Tau FL</text>
<polyline points="242.1,337.0 242.3,337.0 242.4,337.0 242.6,336.9 242.7,336.9 242.9,336.9 243.0,336.9 243.2,336.9 243.3,336.8 243.5,336.8 243.6,336.8 243.8,336.8 243.9,336.7 244.1,336.7 244.2,336.7 244.4,336.7 244.5,336.7 244.7,336.6 244.8,336.6 245.0,336.6 245.1,336.6 245.3,336.6 245.4,336.5 245.6,336.5 245.7,336.5 245.9,336.5 246.0,336.5 246.2,336.4 246.3,336.4 246.5,336.4 246.6,336.4 246.8,336.4 247.0,336.3 247.1,336.3 247.3,336.3 247.4,336.3 247.6,336.2 247.7,336.2 247.9,336.2 248.0,336.2 248.2,336.2 248.8,336.1 249.4,336.0 250.0,335.9 250.6,335.8 251.2,335.8 251.8,335.7 252.4,335.6 253.0,335.5 253.6,335.4 254.2,335.4 254.8,335.3 255.4,335.2 256.0,335.1 256.7,335.0 257.3,335.0 257.9,334.9 258.5,334.8 259.1,334.7 259.7,334.6 260.3,334.6 260.9,334.5 261.5,334.4 262.1,334.3 262.7,334.3 263.3,334.2 263.9,334.1 264.5,334.0 265.1,334.0 265.7,333.9 266.4,333.8 267.0,333.7 267.6,333.7 268.2,333.6 268.8,333.5 269.4,333.4 270.0,333.4 270.6,333.3 271.2,333.2 271.8,333.1 272.4,333.1 273.0,333.0 273.6,332.9 274.2,332.9 274.8,332.8 275.4,332.7 276.1,332.6 276.7,332.6 277.3,332.5 277.9,332.4 278.5,332.4 279.1,332.3 279.7,332.2 280.3,332.1 280.9,332.1 281.5,332.0 282.1,331.9 282.7,331.9 283.3,331.8 283.9,331.7 284.5,331.7 285.1,331.6 285.8,331.5 286.4,331.5 287.0,331.4 287.6,331.3 288.2,331.2 288.8,331.2 289.4,331.1 290.0,331.0 290.6,331.0 291.2,330.9 291.8,330.8 292.4,330.8 293.0,330.7 293.6,330.6 294.2,330.6 294.8,330.5 295.5,330.5 296.1,330.4 296.7,330.3 297.3,330.3 297.9,330.2 298.5,330.1 299.1,330.1 299.7,330.0 300.3,329.9 300.9,329.9 301.5,329.8 302.1,329.7 302.7,329.7 303.3,329.6 303.9,329.6 304.5,329.5 305.2,329.4 305.8,329.4 306.4,329.3 307.0,329.2 307.6,329.2 308.2,329.1 308.8,329.1 309.4,329.0 310.0,328.9 310.6,328.9 311.2,328.8 311.8,328.8 312.4,328.7 313.0,328.6 313.6,328.6 314.2,328.5 314.9,328.5 315.5,328.4 316.1,328.3 316.7,328.3 317.3,328.2 317.9,328.2 318.5,328.1 319.1,328.0 319.7,328.0 320.3,327.9 320.9,327.9 321.5,327.8 322.1,327.8 322.7,327.7 323.3,327.6 324.0,327.6 324.6,327.5 325.2,327.5 325.8,327.4 326.4,327.4 327.0,327.3 327.6,327.2 328.2,327.2 328.8,327.1 329.4,327.1 330.0,327.0 330.6,327.0 331.2,326.9 331.8,326.9 332.4,326.8 333.0,326.7 333.7,326.7 334.3,326.6 334.9,326.6 335.5,326.5 336.1,326.5 336.7,326.4 337.3,326.4 337.9,326.3 338.5,326.3 339.1,326.2 339.7,326.2 340.3,326.1 340.9,326.0 341.5,326.0 342.1,325.9 342.7,325.9 343.4,325.8 344.0,325.8 344.6,325.7 345.2,325.7 345.8,325.6 346.4,325.6 347.0,325.5 347.6,325.5 348.2,325.4 348.8,325.4 349.4,325.3 350.0,325.3 350.6,325.2 351.2,325.2 351.8,325.2 352.4,325.2 353.1,325.2 353.7,325.2 354.3,325.2 354.9,325.2 355.5,325.2 356.1,325.2 356.7,325.2 357.3,325.2 357.9,325.2 358.5,325.2 359.1,325.2 359.7,325.2 360.3,325.2 360.9,325.2 361.5,325.2 362.1,325.2 362.8,325.2 363.4,325.2 364.0,325.2 364.6,325.2 365.2,325.2 365.8,325.2 366.4,325.2 367.0,325.2 367.6,325.2 368.2,325.2 368.8,325.2 369.4,325.2 370.0,325.2 370.6,325.2 371.2,325.2 371.8,325.2 372.5,325.2 373.1,325.2 373.7,325.2 374.3,325.2 374.9,325.2 375.5,325.2 376.1,325.2 376.7,325.2 377.3,325.2 377.9,325.2 378.5,325.2 379.1,325.2 379.7,325.2 380.3,325.2 380.9,325.2 381.5,325.2 382.2,325.2 382.8,325.2 383.4,325.2 384.0,325.2 384.6,325.2 385.2,325.2 385.8,325.2 386.4,325.2 387.0,325.2 387.6,325.2 388.2,325.2 388.8,325.2 389.4,325.2 390.0,325.2 390.6,325.2 391.2,325.2 391.9,325.2 392.5,325.2 393.1,325.2 393.7,325.2 394.3,325.2 394.9,325.2 395.5,325.2 396.1,325.2 396.7,325.2 397.3,325.2 397.9,325.2 398.5,325.2 399.1,325.2 399.7,325.2 400.3,325.2 401.0,325.2 401.6,325.2 402.2,325.2 402.8,325.2 403.4,325.2 404.0,325.2 404.6,325.2 405.2,325.2 405.8,325.2 406.4,325.2 407.0,325.2 407.6,325.2 408.2,325.2 408.8,325.2 409.4,325.2 410.0,325.2 410.7,325.2 411.3,325.2 411.9,325.2 412.5,325.2 413.1,325.2 413.7,325.2 414.3,325.2 414.9,325.2 415.5,325.2 416.1,325.2 416.7,325.2 417.3,325.2 417.9,325.2" fill="none" stroke="#ff2d2d" stroke-width="1.05" stroke-linejoin="round"/>
<polyline points="242.1,337.0 242.3,337.0 242.4,337.0 242.6,337.0 242.7,337.0 242.9,337.0 243.0,337.0 243.2,337.0 243.3,336.9 243.5,336.9 243.6,336.9 243.8,336.9 243.9,336.9 244.1,336.9 244.2,336.9 244.4,336.9 244.5,336.9 244.7,336.9 244.8,336.9 245.0,336.9 245.1,336.9 245.3,336.9 245.4,336.9 245.6,336.9 245.7,336.8 245.9,336.8 246.0,336.8 246.2,336.8 246.3,336.8 246.5,336.8 246.6,336.8 246.8,336.8 247.0,336.8 247.1,336.8 247.3,336.8 247.4,336.8 247.6,336.8 247.7,336.8 247.9,336.8 248.0,336.8 248.2,336.8 248.8,336.7 249.4,336.7 250.0,336.7 250.6,336.7 251.2,336.6 251.8,336.6 252.4,336.6 253.0,336.6 253.6,336.5 254.2,336.5 254.8,336.5 255.4,336.5 256.0,336.4 256.7,336.4 257.3,336.4 257.9,336.4 258.5,336.4 259.1,336.3 259.7,336.3 260.3,336.3 260.9,336.3 261.5,336.3 262.1,336.2 262.7,336.2 263.3,336.2 263.9,336.2 264.5,336.1 265.1,336.1 265.7,336.1 266.4,336.1 267.0,336.1 267.6,336.0 268.2,336.0 268.8,336.0 269.4,336.0 270.0,336.0 270.6,335.9 271.2,335.9 271.8,335.9 272.4,335.9 273.0,335.9 273.6,335.8 274.2,335.8 274.8,335.8 275.4,335.8 276.1,335.8 276.7,335.8 277.3,335.7 277.9,335.7 278.5,335.7 279.1,335.7 279.7,335.7 280.3,335.6 280.9,335.6 281.5,335.6 282.1,335.6 282.7,335.6 283.3,335.6 283.9,335.5 284.5,335.5 285.1,335.5 285.8,335.5 286.4,335.5 287.0,335.4 287.6,335.4 288.2,335.4 288.8,335.4 289.4,335.4 290.0,335.4 290.6,335.3 291.2,335.3 291.8,335.3 292.4,335.3 293.0,335.3 293.6,335.3 294.2,335.2 294.8,335.2 295.5,335.2 296.1,335.2 296.7,335.2 297.3,335.2 297.9,335.1 298.5,335.1 299.1,335.1 299.7,335.1 300.3,335.1 300.9,335.1 301.5,335.1 302.1,335.0 302.7,335.0 303.3,335.0 303.9,335.0 304.5,335.0 305.2,335.0 305.8,334.9 306.4,334.9 307.0,334.9 307.6,334.9 308.2,334.9 308.8,334.9 309.4,334.9 310.0,334.8 310.6,334.8 311.2,334.8 311.8,334.8 312.4,334.8 313.0,334.8 313.6,334.8 314.2,334.7 314.9,334.7 315.5,334.7 316.1,334.7 316.7,334.7 317.3,334.7 317.9,334.7 318.5,334.6 319.1,334.6 319.7,334.6 320.3,334.6 320.9,334.6 321.5,334.6 322.1,334.6 322.7,334.5 323.3,334.5 324.0,334.5 324.6,334.5 325.2,334.5 325.8,334.5 326.4,334.5 327.0,334.5 327.6,334.4 328.2,334.4 328.8,334.4 329.4,334.4 330.0,334.4 330.6,334.4 331.2,334.4 331.8,334.4 332.4,334.3 333.0,334.3 333.7,334.3 334.3,334.3 334.9,334.3 335.5,334.3 336.1,334.3 336.7,334.3 337.3,334.2 337.9,334.2 338.5,334.2 339.1,334.2 339.7,334.2 340.3,334.2 340.9,334.2 341.5,334.2 342.1,334.1 342.7,334.1 343.4,334.1 344.0,334.1 344.6,334.1 345.2,334.1 345.8,334.1 346.4,334.1 347.0,334.0 347.6,334.0 348.2,334.0 348.8,334.0 349.4,334.0 350.0,334.0 350.6,334.0 351.2,334.0 351.8,334.0 352.4,334.0 353.1,334.0 353.7,334.0 354.3,334.0 354.9,334.0 355.5,334.0 356.1,334.0 356.7,334.0 357.3,334.0 357.9,334.0 358.5,334.0 359.1,334.0 359.7,334.0 360.3,334.0 360.9,334.0 361.5,334.0 362.1,334.0 362.8,334.0 363.4,334.0 364.0,334.0 364.6,334.0 365.2,334.0 365.8,334.0 366.4,334.0 367.0,334.0 367.6,334.0 368.2,334.0 368.8,334.0 369.4,334.0 370.0,334.0 370.6,334.0 371.2,334.0 371.8,334.0 372.5,334.0 373.1,334.0 373.7,334.0 374.3,334.0 374.9,334.0 375.5,334.0 376.1,334.0 376.7,334.0 377.3,334.0 377.9,334.0 378.5,334.0 379.1,334.0 379.7,334.0 380.3,334.0 380.9,334.0 381.5,334.0 382.2,334.0 382.8,334.0 383.4,334.0 384.0,334.0 384.6,334.0 385.2,334.0 385.8,334.0 386.4,334.0 387.0,334.0 387.6,334.0 388.2,334.0 388.8,334.0 389.4,334.0 390.0,334.0 390.6,334.0 391.2,334.0 391.9,334.0 392.5,334.0 393.1,334.0 393.7,334.0 394.3,334.0 394.9,334.0 395.5,334.0 396.1,334.0 396.7,334.0 397.3,334.0 397.9,334.0 398.5,334.0 399.1,334.0 399.7,334.0 400.3,334.0 401.0,334.0 401.6,334.0 402.2,334.0 402.8,334.0 403.4,334.0 404.0,334.0 404.6,334.0 405.2,334.0 405.8,334.0 406.4,334.0 407.0,334.0 407.6,334.0 408.2,334.0 408.8,334.0 409.4,334.0 410.0,334.0 410.7,334.0 411.3,334.0 411.9,334.0 412.5,334.0 413.1,334.0 413.7,334.0 414.3,334.0 414.9,334.0 415.5,334.0 416.1,334.0 416.7,334.0 417.3,334.0 417.9,334.0" fill="none" stroke="#ff2d2d" stroke-width="1.05" stroke-linejoin="round"/>
<polyline points="242.1,337.0 242.3,336.9 242.4,336.9 242.6,336.8 242.7,336.8 242.9,336.7 243.0,336.7 243.2,336.6 243.3,336.5 243.5,336.5 243.6,336.4 243.8,336.4 243.9,336.3 244.1,336.3 244.2,336.2 244.4,336.2 244.5,336.1 244.7,336.1 244.8,336.0 245.0,336.0 245.1,335.9 245.3,335.9 245.4,335.8 245.6,335.8 245.7,335.7 245.9,335.7 246.0,335.6 246.2,335.6 246.3,335.5 246.5,335.5 246.6,335.4 246.8,335.4 247.0,335.3 247.1,335.3 247.3,335.2 247.4,335.2 247.6,335.1 247.7,335.1 247.9,335.0 248.0,335.0 248.2,334.9 248.8,334.7 249.4,334.6 250.0,334.4 250.6,334.2 251.2,334.0 251.8,333.9 252.4,333.7 253.0,333.5 253.6,333.4 254.2,333.2 254.8,333.1 255.4,332.9 256.0,332.8 256.7,332.6 257.3,332.5 257.9,332.3 258.5,332.2 259.1,332.0 259.7,331.9 260.3,331.7 260.9,331.6 261.5,331.5 262.1,331.3 262.7,331.2 263.3,331.1 263.9,330.9 264.5,330.8 265.1,330.7 265.7,330.5 266.4,330.4 267.0,330.3 267.6,330.1 268.2,330.0 268.8,329.9 269.4,329.8 270.0,329.6 270.6,329.5 271.2,329.4 271.8,329.3 272.4,329.2 273.0,329.0 273.6,328.9 274.2,328.8 274.8,328.7 275.4,328.6 276.1,328.4 276.7,328.3 277.3,328.2 277.9,328.1 278.5,328.0 279.1,327.8 279.7,327.7 280.3,327.6 280.9,327.5 281.5,327.4 282.1,327.3 282.7,327.2 283.3,327.0 283.9,326.9 284.5,326.8 285.1,326.7 285.8,326.6 286.4,326.5 287.0,326.4 287.6,326.3 288.2,326.1 288.8,326.0 289.4,325.9 290.0,325.8 290.6,325.7 291.2,325.6 291.8,325.5 292.4,325.4 293.0,325.3 293.6,325.1 294.2,325.0 294.8,324.9 295.5,324.8 296.1,324.7 296.7,324.6 297.3,324.5 297.9,324.4 298.5,324.3 299.1,324.2 299.7,324.0 300.3,323.9 300.9,323.8 301.5,323.7 302.1,323.6 302.7,323.5 303.3,323.4 303.9,323.3 304.5,323.2 305.2,323.1 305.8,323.0 306.4,322.9 307.0,322.7 307.6,322.6 308.2,322.5 308.8,322.4 309.4,322.3 310.0,322.2 310.6,322.1 311.2,322.0 311.8,321.9 312.4,321.8 313.0,321.7 313.6,321.6 314.2,321.5 314.9,321.3 315.5,321.2 316.1,321.1 316.7,321.0 317.3,320.9 317.9,320.8 318.5,320.7 319.1,320.6 319.7,320.5 320.3,320.4 320.9,320.3 321.5,320.2 322.1,320.1 322.7,320.0 323.3,319.9 324.0,319.7 324.6,319.6 325.2,319.5 325.8,319.4 326.4,319.3 327.0,319.2 327.6,319.1 328.2,319.0 328.8,318.9 329.4,318.8 330.0,318.7 330.6,318.6 331.2,318.5 331.8,318.4 332.4,318.3 333.0,318.2 333.7,318.0 334.3,317.9 334.9,317.8 335.5,317.7 336.1,317.6 336.7,317.5 337.3,317.4 337.9,317.3 338.5,317.2 339.1,317.1 339.7,317.0 340.3,316.9 340.9,316.8 341.5,316.7 342.1,316.6 342.7,316.5 343.4,316.4 344.0,316.3 344.6,316.2 345.2,316.0 345.8,315.9 346.4,315.8 347.0,315.7 347.6,315.6 348.2,315.5 348.8,315.4 349.4,315.3 350.0,315.2 350.6,315.1 351.2,315.0 351.8,315.0 352.4,315.0 353.1,315.0 353.7,315.0 354.3,315.0 354.9,315.0 355.5,315.0 356.1,315.0 356.7,315.0 357.3,315.0 357.9,315.0 358.5,315.0 359.1,315.0 359.7,315.0 360.3,315.0 360.9,315.0 361.5,315.0 362.1,315.0 362.8,315.0 363.4,315.0 364.0,315.0 364.6,315.0 365.2,315.0 365.8,315.0 366.4,315.0 367.0,315.0 367.6,315.0 368.2,315.0 368.8,315.0 369.4,315.0 370.0,315.0 370.6,315.0 371.2,315.0 371.8,315.0 372.5,315.0 373.1,315.0 373.7,315.0 374.3,315.0 374.9,315.0 375.5,315.0 376.1,315.0 376.7,315.0 377.3,315.0 377.9,315.0 378.5,315.0 379.1,315.0 379.7,315.0 380.3,315.0 380.9,315.0 381.5,315.0 382.2,315.0 382.8,315.0 383.4,315.0 384.0,315.0 384.6,315.0 385.2,315.0 385.8,315.0 386.4,315.0 387.0,315.0 387.6,315.0 388.2,315.0 388.8,315.0 389.4,315.0 390.0,315.0 390.6,315.0 391.2,315.0 391.9,315.0 392.5,315.0 393.1,315.0 393.7,315.0 394.3,315.0 394.9,315.0 395.5,315.0 396.1,315.0 396.7,315.0 397.3,315.0 397.9,315.0 398.5,315.0 399.1,315.0 399.7,315.0 400.3,315.0 401.0,315.0 401.6,315.0 402.2,315.0 402.8,315.0 403.4,315.0 404.0,315.0 404.6,315.0 405.2,315.0 405.8,315.0 406.4,315.0 407.0,315.0 407.6,315.0 408.2,315.0 408.8,315.0 409.4,315.0 410.0,315.0 410.7,315.0 411.3,315.0 411.9,315.0 412.5,315.0 413.1,315.0 413.7,315.0 414.3,315.0 414.9,315.0 415.5,315.0 416.1,315.0 416.7,315.0 417.3,315.0 417.9,315.0" fill="none" stroke="#ff2d2d" stroke-width="1.05" stroke-linejoin="round"/>
<polyline points="242.1,337.0 242.3,336.8 242.4,336.7 242.6,336.5 242.7,336.3 242.9,336.1 243.0,336.0 243.2,335.8 243.3,335.6 243.5,335.5 243.6,335.3 243.8,335.1 243.9,335.0 244.1,334.8 244.2,334.7 244.4,334.5 244.5,334.3 244.7,334.2 244.8,334.0 245.0,333.8 245.1,333.7 245.3,333.5 245.4,333.4 245.6,333.2 245.7,333.1 245.9,332.9 246.0,332.7 246.2,332.6 246.3,332.4 246.5,332.3 246.6,332.1 246.8,332.0 247.0,331.8 247.1,331.7 247.3,331.5 247.4,331.4 247.6,331.2 247.7,331.1 247.9,330.9 248.0,330.8 248.2,330.6 248.8,330.0 249.4,329.4 250.0,328.9 250.6,328.3 251.2,327.7 251.8,327.2 252.4,326.6 253.0,326.1 253.6,325.6 254.2,325.1 254.8,324.6 255.4,324.1 256.0,323.6 256.7,323.1 257.3,322.6 257.9,322.1 258.5,321.6 259.1,321.2 259.7,320.7 260.3,320.2 260.9,319.8 261.5,319.4 262.1,318.9 262.7,318.5 263.3,318.1 263.9,317.6 264.5,317.2 265.1,316.8 265.7,316.4 266.4,316.0 267.0,315.6 267.6,315.2 268.2,314.9 268.8,314.5 269.4,314.1 270.0,313.7 270.6,313.4 271.2,313.0 271.8,312.7 272.4,312.3 273.0,311.9 273.6,311.6 274.2,311.3 274.8,310.9 275.4,310.6 276.1,310.3 276.7,309.9 277.3,309.6 277.9,309.3 278.5,309.0 279.1,308.7 279.7,308.4 280.3,308.1 280.9,307.8 281.5,307.5 282.1,307.2 282.7,306.9 283.3,306.6 283.9,306.3 284.5,306.0 285.1,305.8 285.8,305.5 286.4,305.2 287.0,304.9 287.6,304.7 288.2,304.4 288.8,304.1 289.4,303.9 290.0,303.6 290.6,303.4 291.2,303.1 291.8,302.9 292.4,302.6 293.0,302.4 293.6,302.1 294.2,301.9 294.8,301.7 295.5,301.4 296.1,301.2 296.7,301.0 297.3,300.7 297.9,300.5 298.5,300.3 299.1,300.1 299.7,299.8 300.3,299.6 300.9,299.4 301.5,299.2 302.1,299.0 302.7,298.8 303.3,298.5 303.9,298.3 304.5,298.1 305.2,297.9 305.8,297.7 306.4,297.5 307.0,297.3 307.6,297.1 308.2,296.9 308.8,296.7 309.4,296.5 310.0,296.3 310.6,296.1 311.2,296.0 311.8,295.8 312.4,295.6 313.0,295.4 313.6,295.2 314.2,295.0 314.9,294.8 315.5,294.7 316.1,294.5 316.7,294.3 317.3,294.1 317.9,293.9 318.5,293.8 319.1,293.6 319.7,293.4 320.3,293.2 320.9,293.1 321.5,292.9 322.1,292.7 322.7,292.6 323.3,292.4 324.0,292.2 324.6,292.1 325.2,291.9 325.8,291.7 326.4,291.6 327.0,291.4 327.6,291.2 328.2,291.1 328.8,290.9 329.4,290.8 330.0,290.6 330.6,290.4 331.2,290.3 331.8,290.1 332.4,290.0 333.0,289.8 333.7,289.7 334.3,289.5 334.9,289.4 335.5,289.2 336.1,289.1 336.7,288.9 337.3,288.8 337.9,288.6 338.5,288.5 339.1,288.3 339.7,288.2 340.3,288.0 340.9,287.9 341.5,287.7 342.1,287.6 342.7,287.4 343.4,287.3 344.0,287.1 344.6,287.0 345.2,286.9 345.8,286.7 346.4,286.6 347.0,286.4 347.6,286.3 348.2,286.2 348.8,286.0 349.4,285.9 350.0,285.7 350.6,285.6 351.2,285.5 351.8,285.5 352.4,285.5 353.1,285.5 353.7,285.5 354.3,285.5 354.9,285.5 355.5,285.5 356.1,285.5 356.7,285.5 357.3,285.5 357.9,285.5 358.5,285.5 359.1,285.5 359.7,285.5 360.3,285.5 360.9,285.5 361.5,285.5 362.1,285.5 362.8,285.5 363.4,285.5 364.0,285.5 364.6,285.5 365.2,285.5 365.8,285.5 366.4,285.5 367.0,285.5 367.6,285.5 368.2,285.5 368.8,285.5 369.4,285.4 370.0,285.4 370.6,285.4 371.2,285.4 371.8,285.4 372.5,285.4 373.1,285.4 373.7,285.4 374.3,285.4 374.9,285.4 375.5,285.4 376.1,285.4 376.7,285.4 377.3,285.4 377.9,285.4 378.5,285.4 379.1,285.4 379.7,285.4 380.3,285.4 380.9,285.4 381.5,285.4 382.2,285.4 382.8,285.4 383.4,285.4 384.0,285.4 384.6,285.4 385.2,285.4 385.8,285.4 386.4,285.4 387.0,285.4 387.6,285.4 388.2,285.4 388.8,285.4 389.4,285.4 390.0,285.4 390.6,285.4 391.2,285.4 391.9,285.4 392.5,285.4 393.1,285.4 393.7,285.4 394.3,285.4 394.9,285.4 395.5,285.4 396.1,285.4 396.7,285.4 397.3,285.4 397.9,285.4 398.5,285.4 399.1,285.4 399.7,285.4 400.3,285.4 401.0,285.4 401.6,285.4 402.2,285.4 402.8,285.4 403.4,285.4 404.0,285.4 404.6,285.4 405.2,285.4 405.8,285.4 406.4,285.4 407.0,285.4 407.6,285.4 408.2,285.4 408.8,285.4 409.4,285.4 410.0,285.4 410.7,285.4 411.3,285.4 411.9,285.4 412.5,285.4 413.1,285.4 413.7,285.4 414.3,285.4 414.9,285.4 415.5,285.4 416.1,285.4 416.7,285.4 417.3,285.4 417.9,285.4" fill="none" stroke="#ff2d2d" stroke-width="1.05" stroke-linejoin="round"/>
<polyline points="242.1,336.5 242.3,337.7 242.4,337.2 242.6,337.1 242.7,337.1 242.9,337.2 243.0,337.6 243.2,337.2 243.3,336.6 243.5,335.4 243.6,336.1 243.8,336.7 243.9,336.7 244.1,336.9 244.2,337.0 244.4,336.6 244.5,336.2 244.7,336.2 244.8,335.9 245.0,336.2 245.1,336.0 245.3,335.5 245.4,335.8 245.6,336.2 245.7,336.1 245.9,335.6 246.0,335.2 246.2,335.8 246.3,335.9 246.5,335.6 246.6,336.1 246.8,335.9 247.0,335.4 247.1,335.4 247.3,335.5 247.4,335.8 247.6,336.5 247.7,335.7 247.9,336.0 248.0,336.3 248.2,335.5 248.8,335.1 249.4,335.5 250.0,335.6 250.6,335.2 251.2,334.8 251.8,334.2 252.4,334.2 253.0,334.3 253.6,334.1 254.2,334.5 254.8,334.6 255.4,334.0 256.0,333.8 256.7,334.2 257.3,334.3 257.9,334.2 258.5,334.7 259.1,333.7 259.7,333.6 260.3,334.1 260.9,333.8 261.5,333.7 262.1,333.4 262.7,334.1 263.3,333.7 263.9,332.8 264.5,332.8 265.1,333.7 265.7,333.3 266.4,332.8 267.0,332.7 267.6,332.3 268.2,332.8 268.8,332.7 269.4,332.7 270.0,332.0 270.6,332.2 271.2,332.7 271.8,332.8 272.4,331.7 273.0,331.5 273.6,331.5 274.2,331.4 274.8,331.8 275.4,332.2 276.1,332.4 276.7,332.0 277.3,331.5 277.9,332.2 278.5,332.1 279.1,331.7 279.7,331.4 280.3,331.4 280.9,332.1 281.5,332.2 282.1,331.4 282.7,330.7 283.3,330.7 283.9,331.0 284.5,331.1 285.1,331.0 285.8,330.9 286.4,330.7 287.0,331.1 287.6,330.9 288.2,330.7 288.8,330.5 289.4,330.2 290.0,329.4 290.6,329.4 291.2,330.0 291.8,331.1 292.4,330.9 293.0,330.6 293.6,330.5 294.2,330.9 294.8,329.9 295.5,329.7 296.1,330.6 296.7,330.7 297.3,330.5 297.9,330.0 298.5,329.4 299.1,329.0 299.7,329.5 300.3,329.5 300.9,329.3 301.5,328.8 302.1,328.9 302.7,329.1 303.3,329.8 303.9,329.8 304.5,329.6 305.2,328.8 305.8,328.9 306.4,329.4 307.0,329.4 307.6,329.1 308.2,329.5 308.8,329.5 309.4,328.6 310.0,328.0 310.6,328.8 311.2,329.3 311.8,329.6 312.4,329.4 313.0,328.6 313.6,328.3 314.2,328.5 314.9,328.4 315.5,328.4 316.1,328.6 316.7,329.1 317.3,328.8 317.9,328.5 318.5,328.7 319.1,328.7 319.7,328.6 320.3,328.3 320.9,327.9 321.5,328.1 322.1,328.0 322.7,327.6 323.3,327.3 324.0,327.4 324.6,328.3 325.2,327.8 325.8,327.8 326.4,327.6 327.0,327.1 327.6,326.9 328.2,326.9 328.8,327.1 329.4,326.8 330.0,327.3 330.6,327.3 331.2,327.1 331.8,327.1 332.4,326.3 333.0,326.2 333.7,326.1 334.3,326.8 334.9,327.1 335.5,326.8 336.1,326.7 336.7,326.9 337.3,326.7 337.9,326.5 338.5,326.2 339.1,326.6 339.7,326.4 340.3,326.8 340.9,327.1 341.5,327.0 342.1,327.0 342.7,326.3 343.4,325.9 344.0,326.0 344.6,325.7 345.2,325.4 345.8,325.8 346.4,326.0 347.0,326.3 347.6,326.6 348.2,326.1 348.8,326.4 349.4,325.8 350.0,325.6 350.6,325.3 351.2,325.7 351.8,326.1 352.4,326.0 353.1,326.2 353.7,326.2 354.3,326.2 354.9,326.3 355.5,326.5 356.1,326.7 356.7,326.9 357.3,327.4 357.9,327.0 358.5,326.9 359.1,326.1 359.7,326.2 360.3,327.2 360.9,326.9 361.5,326.8 362.1,327.1 362.8,326.7 363.4,327.1 364.0,327.5 364.6,327.1 365.2,326.8 365.8,326.9 366.4,327.1 367.0,326.6 367.6,326.5 368.2,327.2 368.8,327.2 369.4,326.9 370.0,326.7 370.6,326.1 371.2,326.5 371.8,327.2 372.5,327.1 373.1,326.5 373.7,325.8 374.3,326.4 374.9,326.5 375.5,326.4 376.1,326.2 376.7,325.7 377.3,326.4 377.9,326.3 378.5,326.3 379.1,326.4 379.7,326.6 380.3,325.9 380.9,326.3 381.5,326.6 382.2,326.9 382.8,326.7 383.4,326.1 384.0,325.8 384.6,325.7 385.2,325.6 385.8,325.8 386.4,326.0 387.0,325.8 387.6,325.9 388.2,326.0 388.8,325.7 389.4,325.5 390.0,325.9 390.6,326.1 391.2,325.5 391.9,325.2 392.5,325.8 393.1,326.0 393.7,325.8 394.3,325.7 394.9,326.4 395.5,325.8 396.1,325.4 396.7,325.8 397.3,325.2 397.9,325.4 398.5,325.8 399.1,325.9 399.7,326.3 400.3,325.8 401.0,325.1 401.6,325.5 402.2,324.9 402.8,325.2 403.4,325.1 404.0,325.6 404.6,326.4 405.2,325.9 405.8,325.5 406.4,326.0 407.0,326.0 407.6,325.4 408.2,325.7 408.8,326.1 409.4,325.6 410.0,325.0 410.7,325.1 411.3,324.6 411.9,324.4 412.5,325.0 413.1,325.7 413.7,325.7 414.3,325.1 414.9,324.6 415.5,324.6 416.1,324.7 416.7,325.0 417.3,324.9 417.9,325.0" fill="none" stroke="#9a6a22" stroke-width="1.6" stroke-linejoin="round"/>
<polyline points="242.1,337.3 242.3,337.6 242.4,337.5 242.6,337.0 242.7,336.9 242.9,336.6 243.0,335.9 243.2,335.4 243.3,334.4 243.5,334.9 243.6,335.5 243.8,335.1 243.9,335.1 244.1,335.2 244.2,334.8 244.4,335.5 244.5,336.1 244.7,335.0 244.8,334.7 245.0,334.2 245.1,334.8 245.3,334.9 245.4,334.1 245.6,334.6 245.7,334.2 245.9,333.7 246.0,334.0 246.2,334.2 246.3,334.0 246.5,333.9 246.6,334.2 246.8,333.8 247.0,333.4 247.1,333.0 247.3,333.9 247.4,334.2 247.6,333.7 247.7,333.9 247.9,333.7 248.0,333.5 248.2,333.4 248.8,333.8 249.4,334.0 250.0,334.7 250.6,333.9 251.2,333.0 251.8,333.5 252.4,333.8 253.0,333.8 253.6,333.1 254.2,333.2 254.8,333.5 255.4,333.0 256.0,332.8 256.7,332.8 257.3,332.9 257.9,332.3 258.5,332.6 259.1,333.0 259.7,333.1 260.3,332.9 260.9,332.6 261.5,332.6 262.1,332.3 262.7,332.2 263.3,332.0 263.9,332.2 264.5,332.8 265.1,333.4 265.7,332.6 266.4,332.2 267.0,332.3 267.6,332.3 268.2,332.6 268.8,332.8 269.4,332.7 270.0,331.9 270.6,332.2 271.2,332.7 271.8,332.9 272.4,332.3 273.0,331.6 273.6,331.9 274.2,332.2 274.8,331.5 275.4,331.2 276.1,331.4 276.7,331.5 277.3,331.4 277.9,331.5 278.5,331.7 279.1,332.0 279.7,331.4 280.3,331.3 280.9,331.3 281.5,332.3 282.1,331.7 282.7,331.4 283.3,331.7 283.9,331.5 284.5,331.3 285.1,331.4 285.8,331.8 286.4,331.6 287.0,331.0 287.6,330.9 288.2,331.3 288.8,331.4 289.4,331.3 290.0,331.2 290.6,331.9 291.2,332.1 291.8,331.7 292.4,331.9 293.0,331.7 293.6,331.3 294.2,331.2 294.8,331.5 295.5,331.3 296.1,331.7 296.7,331.4 297.3,331.9 297.9,331.7 298.5,331.1 299.1,331.2 299.7,331.5 300.3,331.2 300.9,330.9 301.5,330.9 302.1,330.8 302.7,330.6 303.3,331.1 303.9,331.2 304.5,330.9 305.2,330.3 305.8,330.0 306.4,330.1 307.0,330.6 307.6,330.6 308.2,330.4 308.8,330.6 309.4,330.2 310.0,330.3 310.6,330.8 311.2,330.7 311.8,330.3 312.4,329.5 313.0,329.2 313.6,330.1 314.2,330.7 314.9,331.3 315.5,330.6 316.1,330.4 316.7,330.6 317.3,330.3 317.9,330.8 318.5,330.5 319.1,330.3 319.7,330.5 320.3,329.8 320.9,329.8 321.5,330.7 322.1,330.7 322.7,330.0 323.3,330.1 324.0,330.5 324.6,330.3 325.2,330.1 325.8,329.9 326.4,329.5 327.0,329.4 327.6,328.9 328.2,329.0 328.8,329.2 329.4,329.1 330.0,329.0 330.6,329.4 331.2,330.0 331.8,329.5 332.4,329.3 333.0,329.0 333.7,329.3 334.3,329.3 334.9,329.1 335.5,328.8 336.1,329.3 336.7,329.5 337.3,329.4 337.9,329.6 338.5,329.4 339.1,329.3 339.7,329.0 340.3,328.6 340.9,329.2 341.5,329.4 342.1,329.3 342.7,329.2 343.4,329.7 344.0,329.6 344.6,329.2 345.2,329.0 345.8,329.1 346.4,329.4 347.0,329.4 347.6,328.8 348.2,328.4 348.8,328.7 349.4,328.8 350.0,328.9 350.6,329.3 351.2,329.2 351.8,331.5 352.4,331.7 353.1,332.0 353.7,332.2 354.3,331.4 354.9,331.1 355.5,331.8 356.1,331.8 356.7,331.7 357.3,331.9 357.9,332.3 358.5,331.7 359.1,331.9 359.7,331.7 360.3,332.0 360.9,332.3 361.5,332.2 362.1,332.0 362.8,332.5 363.4,332.6 364.0,332.8 364.6,332.9 365.2,332.0 365.8,331.9 366.4,332.1 367.0,332.1 367.6,332.7 368.2,332.4 368.8,331.7 369.4,332.2 370.0,333.7 370.6,334.3 371.2,333.3 371.8,332.4 372.5,332.7 373.1,332.7 373.7,332.6 374.3,332.9 374.9,332.6 375.5,332.3 376.1,332.4 376.7,332.6 377.3,332.9 377.9,332.7 378.5,332.8 379.1,332.0 379.7,331.8 380.3,333.1 380.9,333.9 381.5,333.4 382.2,332.7 382.8,332.4 383.4,332.5 384.0,333.3 384.6,333.3 385.2,332.8 385.8,333.2 386.4,332.9 387.0,333.0 387.6,332.8 388.2,332.7 388.8,332.7 389.4,332.9 390.0,333.5 390.6,333.3 391.2,333.2 391.9,333.0 392.5,332.9 393.1,333.4 393.7,333.8 394.3,333.9 394.9,333.6 395.5,333.3 396.1,333.6 396.7,333.1 397.3,333.3 397.9,333.8 398.5,334.1 399.1,333.6 399.7,333.6 400.3,334.1 401.0,333.2 401.6,332.8 402.2,333.3 402.8,333.2 403.4,332.6 404.0,333.1 404.6,334.0 405.2,334.0 405.8,333.9 406.4,334.3 407.0,334.8 407.6,334.0 408.2,334.1 408.8,334.0 409.4,333.9 410.0,333.7 410.7,334.1 411.3,334.3 411.9,333.8 412.5,333.5 413.1,333.9 413.7,333.6 414.3,334.0 414.9,334.2 415.5,333.8 416.1,334.2 416.7,334.0 417.3,334.3 417.9,334.2" fill="none" stroke="#ff8a10" stroke-width="1.6" stroke-linejoin="round"/>
<polyline points="242.1,336.4 242.3,336.0 242.4,335.1 242.6,335.0 242.7,335.1 242.9,335.0 243.0,334.8 243.2,335.2 243.3,335.0 243.5,334.5 243.6,334.5 243.8,334.3 243.9,333.9 244.1,333.7 244.2,333.4 244.4,332.6 244.5,332.4 244.7,332.5 244.8,332.9 245.0,333.2 245.1,333.4 245.3,333.2 245.4,333.4 245.6,332.8 245.7,331.8 245.9,331.3 246.0,331.6 246.2,332.1 246.3,331.9 246.5,331.9 246.6,331.4 246.8,331.4 247.0,330.8 247.1,330.1 247.3,330.3 247.4,330.1 247.6,330.8 247.7,331.0 247.9,330.2 248.0,330.1 248.2,330.8 248.8,330.7 249.4,330.8 250.0,330.1 250.6,329.4 251.2,329.5 251.8,329.7 252.4,329.7 253.0,328.8 253.6,328.3 254.2,328.2 254.8,328.4 255.4,328.5 256.0,327.5 256.7,327.7 257.3,327.7 257.9,327.6 258.5,328.3 259.1,327.7 259.7,327.2 260.3,326.8 260.9,326.3 261.5,326.7 262.1,327.4 262.7,326.9 263.3,326.4 263.9,326.4 264.5,326.9 265.1,326.8 265.7,325.9 266.4,325.6 267.0,325.9 267.6,326.1 268.2,325.4 268.8,326.3 269.4,325.5 270.0,324.4 270.6,324.8 271.2,325.0 271.8,325.1 272.4,324.5 273.0,324.9 273.6,324.5 274.2,324.4 274.8,324.5 275.4,324.1 276.1,324.5 276.7,324.4 277.3,323.9 277.9,323.8 278.5,323.3 279.1,323.1 279.7,323.4 280.3,323.5 280.9,323.4 281.5,323.1 282.1,322.6 282.7,322.7 283.3,322.6 283.9,322.7 284.5,322.7 285.1,322.3 285.8,322.5 286.4,322.1 287.0,321.6 287.6,322.2 288.2,322.2 288.8,322.4 289.4,322.2 290.0,322.2 290.6,321.8 291.2,321.5 291.8,321.0 292.4,320.4 293.0,320.5 293.6,320.5 294.2,320.7 294.8,320.8 295.5,321.1 296.1,321.2 296.7,320.3 297.3,319.5 297.9,319.8 298.5,319.9 299.1,319.4 299.7,319.8 300.3,320.2 300.9,320.3 301.5,320.1 302.1,319.3 302.7,318.5 303.3,319.1 303.9,319.6 304.5,319.4 305.2,319.3 305.8,319.4 306.4,318.7 307.0,318.2 307.6,318.1 308.2,318.2 308.8,318.9 309.4,318.8 310.0,317.6 310.6,317.5 311.2,318.3 311.8,317.8 312.4,317.5 313.0,317.3 313.6,317.3 314.2,317.5 314.9,317.2 315.5,317.0 316.1,317.3 316.7,318.1 317.3,318.4 317.9,317.7 318.5,317.4 319.1,316.5 319.7,316.1 320.3,316.2 320.9,316.3 321.5,316.0 322.1,315.7 322.7,315.9 323.3,315.5 324.0,315.3 324.6,315.2 325.2,315.0 325.8,315.4 326.4,315.2 327.0,315.6 327.6,315.7 328.2,315.5 328.8,315.0 329.4,315.2 330.0,315.0 330.6,315.0 331.2,314.1 331.8,313.6 332.4,313.8 333.0,313.5 333.7,313.5 334.3,313.1 334.9,313.9 335.5,314.3 336.1,313.4 336.7,313.7 337.3,314.1 337.9,314.1 338.5,314.2 339.1,313.8 339.7,313.5 340.3,312.6 340.9,312.8 341.5,313.7 342.1,313.8 342.7,313.5 343.4,313.5 344.0,312.9 344.6,312.6 345.2,312.8 345.8,312.6 346.4,311.9 347.0,311.3 347.6,311.2 348.2,311.6 348.8,311.6 349.4,311.9 350.0,311.7 350.6,311.8 351.2,311.5 351.8,312.3 352.4,312.7 353.1,312.4 353.7,312.6 354.3,313.4 354.9,313.4 355.5,313.2 356.1,313.4 356.7,313.8 357.3,313.8 357.9,313.7 358.5,313.3 359.1,313.8 359.7,314.8 360.3,315.2 360.9,314.3 361.5,313.8 362.1,314.0 362.8,314.1 363.4,314.7 364.0,315.0 364.6,314.4 365.2,314.4 365.8,314.5 366.4,315.1 367.0,314.9 367.6,314.8 368.2,314.6 368.8,315.0 369.4,315.2 370.0,314.9 370.6,314.4 371.2,314.7 371.8,315.3 372.5,315.5 373.1,315.2 373.7,314.7 374.3,315.5 374.9,315.4 375.5,314.6 376.1,314.4 376.7,314.7 377.3,314.5 377.9,314.4 378.5,314.4 379.1,314.6 379.7,314.2 380.3,314.4 380.9,314.4 381.5,315.0 382.2,314.9 382.8,315.5 383.4,315.6 384.0,315.0 384.6,315.1 385.2,315.0 385.8,315.1 386.4,314.4 387.0,314.9 387.6,315.4 388.2,314.9 388.8,314.7 389.4,315.1 390.0,314.6 390.6,313.9 391.2,314.3 391.9,314.9 392.5,315.1 393.1,315.0 393.7,315.9 394.3,316.4 394.9,315.8 395.5,315.2 396.1,314.4 396.7,314.8 397.3,315.5 397.9,315.5 398.5,315.0 399.1,315.3 399.7,315.3 400.3,315.0 401.0,314.9 401.6,314.9 402.2,314.7 402.8,314.2 403.4,314.3 404.0,315.0 404.6,314.1 405.2,314.4 405.8,314.5 406.4,315.0 407.0,314.9 407.6,314.8 408.2,314.7 408.8,314.5 409.4,314.7 410.0,315.3 410.7,315.0 411.3,314.6 411.9,314.6 412.5,315.0 413.1,315.1 413.7,315.2 414.3,315.6 414.9,315.4 415.5,314.5 416.1,314.9 416.7,315.1 417.3,315.1 417.9,314.5" fill="none" stroke="#10bf10" stroke-width="1.6" stroke-linejoin="round"/>
<polyline points="242.1,331.1 242.3,331.2 242.4,331.0 242.6,330.7 242.7,329.7 242.9,329.6 243.0,329.8 243.2,329.0 243.3,328.8 243.5,328.6 243.6,328.4 243.8,328.5 243.9,328.2 244.1,327.5 244.2,327.4 244.4,327.2 244.5,326.2 244.7,326.4 244.8,326.6 245.0,326.3 245.1,325.5 245.3,325.0 245.4,325.0 245.6,324.9 245.7,325.4 245.9,325.0 246.0,324.6 246.2,324.2 246.3,324.0 246.5,324.1 246.6,322.7 246.8,323.2 247.0,323.0 247.1,322.4 247.3,322.2 247.4,322.7 247.6,323.6 247.7,322.9 247.9,321.9 248.0,322.2 248.2,322.4 248.8,321.8 249.4,320.0 250.0,319.4 250.6,319.3 251.2,318.7 251.8,318.2 252.4,318.0 253.0,317.2 253.6,316.4 254.2,315.7 254.8,315.1 255.4,315.2 256.0,315.0 256.7,314.5 257.3,314.5 257.9,314.2 258.5,313.2 259.1,313.1 259.7,312.7 260.3,312.4 260.9,312.5 261.5,311.7 262.1,311.4 262.7,311.2 263.3,311.0 263.9,311.3 264.5,311.5 265.1,310.7 265.7,310.2 266.4,309.4 267.0,309.3 267.6,309.3 268.2,308.8 268.8,308.0 269.4,307.7 270.0,307.8 270.6,307.7 271.2,307.8 271.8,307.5 272.4,307.0 273.0,306.9 273.6,306.8 274.2,307.1 274.8,307.3 275.4,307.0 276.1,306.0 276.7,304.9 277.3,304.8 277.9,305.6 278.5,305.5 279.1,304.5 279.7,304.3 280.3,304.5 280.9,303.7 281.5,303.3 282.1,302.9 282.7,302.9 283.3,302.6 283.9,302.7 284.5,303.0 285.1,302.7 285.8,302.4 286.4,301.8 287.0,302.2 287.6,302.2 288.2,301.1 288.8,300.3 289.4,300.0 290.0,300.2 290.6,301.0 291.2,300.7 291.8,300.3 292.4,300.1 293.0,300.4 293.6,299.6 294.2,299.1 294.8,299.2 295.5,298.6 296.1,298.0 296.7,297.9 297.3,297.5 297.9,297.2 298.5,297.3 299.1,297.2 299.7,297.1 300.3,296.6 300.9,296.9 301.5,296.8 302.1,296.2 302.7,296.2 303.3,295.7 303.9,295.2 304.5,295.3 305.2,295.1 305.8,294.6 306.4,294.6 307.0,295.3 307.6,295.0 308.2,293.8 308.8,293.9 309.4,294.8 310.0,294.4 310.6,293.7 311.2,293.5 311.8,292.9 312.4,292.6 313.0,292.5 313.6,292.7 314.2,291.8 314.9,291.2 315.5,291.6 316.1,291.0 316.7,290.7 317.3,290.7 317.9,291.0 318.5,291.3 319.1,290.9 319.7,290.0 320.3,289.4 320.9,289.1 321.5,289.0 322.1,289.0 322.7,289.5 323.3,289.6 324.0,288.9 324.6,288.4 325.2,288.6 325.8,288.9 326.4,288.7 327.0,288.5 327.6,287.9 328.2,287.9 328.8,287.4 329.4,286.9 330.0,286.6 330.6,286.2 331.2,287.0 331.8,287.2 332.4,285.8 333.0,285.0 333.7,284.9 334.3,285.1 334.9,285.0 335.5,285.1 336.1,285.5 336.7,285.0 337.3,284.4 337.9,284.2 338.5,283.6 339.1,284.3 339.7,283.9 340.3,283.2 340.9,283.6 341.5,283.8 342.1,283.7 342.7,283.0 343.4,282.0 344.0,281.9 344.6,282.0 345.2,282.0 345.8,281.5 346.4,281.5 347.0,281.8 347.6,281.5 348.2,280.8 348.8,280.3 349.4,280.4 350.0,280.0 350.6,279.5 351.2,280.3 351.8,280.9 352.4,280.6 353.1,281.0 353.7,281.6 354.3,281.9 354.9,282.3 355.5,282.5 356.1,282.9 356.7,283.1 357.3,284.0 357.9,284.3 358.5,284.2 359.1,284.4 359.7,284.3 360.3,284.8 360.9,285.2 361.5,285.3 362.1,285.8 362.8,286.5 363.4,286.6 364.0,286.6 364.6,286.5 365.2,286.3 365.8,286.1 366.4,286.1 367.0,285.9 367.6,286.3 368.2,286.9 368.8,286.5 369.4,286.8 370.0,287.6 370.6,287.5 371.2,287.4 371.8,287.6 372.5,287.6 373.1,287.9 373.7,288.1 374.3,288.5 374.9,288.5 375.5,288.7 376.1,288.8 376.7,289.5 377.3,289.0 377.9,288.5 378.5,288.8 379.1,289.2 379.7,289.3 380.3,289.9 380.9,290.1 381.5,290.0 382.2,289.8 382.8,289.7 383.4,290.1 384.0,290.0 384.6,290.8 385.2,290.8 385.8,290.3 386.4,290.0 387.0,290.9 387.6,291.5 388.2,290.8 388.8,290.8 389.4,291.4 390.0,291.6 390.6,291.4 391.2,291.0 391.9,291.1 392.5,291.4 393.1,290.6 393.7,291.1 394.3,291.5 394.9,291.3 395.5,291.1 396.1,290.6 396.7,291.0 397.3,291.9 397.9,292.1 398.5,292.2 399.1,292.1 399.7,292.0 400.3,292.1 401.0,291.7 401.6,292.1 402.2,292.3 402.8,292.3 403.4,293.3 404.0,293.1 404.6,292.5 405.2,292.6 405.8,292.7 406.4,292.8 407.0,293.1 407.6,293.3 408.2,293.9 408.8,293.9 409.4,293.1 410.0,293.6 410.7,293.6 411.3,292.8 411.9,292.9 412.5,293.7 413.1,293.9 413.7,293.9 414.3,294.1 414.9,293.7 415.5,293.7 416.1,293.8 416.7,293.6 417.3,293.4 417.9,293.3" fill="none" stroke="#1010f0" stroke-width="1.6" stroke-linejoin="round"/>
<line x1="242.10" y1="337.75" x2="242.10" y2="215.00" stroke="#000" stroke-width="1.5" />
<line x1="241.35" y1="337.00" x2="424.59" y2="337.00" stroke="#000" stroke-width="1.5" />
<line x1="236.90" y1="337.00" x2="242.10" y2="337.00" stroke="#000" stroke-width="1.5" />
<text x="235.60" y="340.50" font-size="9.8" font-weight="bold" text-anchor="end" fill="#000" >0.00</text>
<line x1="236.90" y1="306.65" x2="242.10" y2="306.65" stroke="#000" stroke-width="1.5" />
<text x="235.60" y="310.15" font-size="9.8" font-weight="bold" text-anchor="end" fill="#000" >0.05</text>
<line x1="236.90" y1="276.30" x2="242.10" y2="276.30" stroke="#000" stroke-width="1.5" />
<text x="235.60" y="279.80" font-size="9.8" font-weight="bold" text-anchor="end" fill="#000" >0.10</text>
<line x1="236.90" y1="245.95" x2="242.10" y2="245.95" stroke="#000" stroke-width="1.5" />
<text x="235.60" y="249.45" font-size="9.8" font-weight="bold" text-anchor="end" fill="#000" >0.15</text>
<line x1="236.90" y1="215.60" x2="242.10" y2="215.60" stroke="#000" stroke-width="1.5" />
<text x="235.60" y="219.10" font-size="9.8" font-weight="bold" text-anchor="end" fill="#000" >0.20</text>
<line x1="242.10" y1="337.00" x2="242.10" y2="342.20" stroke="#000" stroke-width="1.5" />
<text x="242.10" y="353.30" font-size="9.8" font-weight="bold" text-anchor="middle" fill="#000" >0</text>
<line x1="302.73" y1="337.00" x2="302.73" y2="342.20" stroke="#000" stroke-width="1.5" />
<text x="302.73" y="353.30" font-size="9.8" font-weight="bold" text-anchor="middle" fill="#000" >100</text>
<line x1="363.36" y1="337.00" x2="363.36" y2="342.20" stroke="#000" stroke-width="1.5" />
<text x="363.36" y="353.30" font-size="9.8" font-weight="bold" text-anchor="middle" fill="#000" >200</text>
<line x1="423.99" y1="337.00" x2="423.99" y2="342.20" stroke="#000" stroke-width="1.5" />
<text x="423.99" y="353.30" font-size="9.8" font-weight="bold" text-anchor="middle" fill="#000" >300</text>
<text x="333.30" y="370.50" font-size="13" font-weight="bold" text-anchor="middle" fill="#000" >Time (s)</text>
<text transform="translate(211.30,275.70) rotate(-90)" font-size="13.1" font-weight="bold" text-anchor="middle" fill="#000" >Response (nm)</text>
<line x1="257.00" y1="225.40" x2="270.00" y2="225.40" stroke="#1010f0" stroke-width="1.5" />
<text x="277.30" y="229.00" font-size="10" font-weight="bold" text-anchor="start" fill="#000" >300 nM</text>
<line x1="257.00" y1="238.00" x2="270.00" y2="238.00" stroke="#10bf10" stroke-width="1.5" />
<text x="277.30" y="241.60" font-size="10" font-weight="bold" text-anchor="start" fill="#000" >100 nM</text>
<line x1="257.00" y1="253.40" x2="270.00" y2="253.40" stroke="#ff8a10" stroke-width="1.5" />
<text x="277.30" y="257.00" font-size="10" font-weight="bold" text-anchor="start" fill="#000" >33 nM</text>
<line x1="257.00" y1="266.60" x2="270.00" y2="266.60" stroke="#9a6a22" stroke-width="1.5" />
<text x="277.30" y="270.20" font-size="10" font-weight="bold" text-anchor="start" fill="#000" >11 nM</text>
<line x1="338.00" y1="225.40" x2="351.00" y2="225.40" stroke="#ff2d2d" stroke-width="0.9" />
<text x="358.30" y="229.00" font-size="10" font-weight="bold" text-anchor="start" fill="#000" >Fitting curve</text>
<text x="439.00" y="212.80" font-size="19.5" font-weight="bold" text-anchor="start" fill="#000" >C</text>
<rect x="469.6" y="214.8" width="193.8" height="123.5" fill="none" stroke="#000" stroke-width="1.3"/>
<line x1="469.60" y1="241.60" x2="663.40" y2="241.60" stroke="#000" stroke-width="1.3" />
<line x1="469.60" y1="265.80" x2="663.40" y2="265.80" stroke="#000" stroke-width="1.3" />
<line x1="469.60" y1="290.20" x2="663.40" y2="290.20" stroke="#000" stroke-width="1.3" />
<line x1="469.60" y1="314.60" x2="663.40" y2="314.60" stroke="#000" stroke-width="1.3" />
<line x1="543.30" y1="241.60" x2="543.30" y2="338.30" stroke="#000" stroke-width="1.3" />
<text x="570.80" y="232.60" font-size="13" font-weight="bold" text-anchor="middle" fill="#000" >anti Tau N368</text>
<text x="506.50" y="257.40" font-size="11" font-weight="bold" text-anchor="middle" fill="#000" >Protein</text>
<text x="603.30" y="257.40" font-size="11" font-weight="bold" text-anchor="middle" fill="#000" >KD (nM)= Kds/ Ka</text>
<text x="473.30" y="282.50" font-size="11.3" font-weight="bold" text-anchor="start" fill="#000" >Tau N368</text>
<text x="603.30" y="282.50" font-size="11.6" font-weight="bold" text-anchor="middle" fill="#000" >2.24±0.20</text>
<text x="473.30" y="306.70" font-size="11.3" font-weight="bold" text-anchor="start" fill="#000" >Tau D314</text>
<text x="603.30" y="306.70" font-size="11.6" font-weight="bold" text-anchor="middle" fill="#000" >40.40±2.69</text>
<text x="473.30" y="331.10" font-size="11.3" font-weight="bold" text-anchor="start" fill="#000" >Tau FL</text>
<text x="603.30" y="331.10" font-size="11.6" font-weight="bold" text-anchor="middle" fill="#000" >62.27±2.83</text>
<text x="21.00" y="412.60" font-size="20" font-weight="bold" text-anchor="start" fill="#000" >D</text>
<text transform="translate(96.30,454.60) rotate(-90)" font-size="13.3" font-weight="normal" text-anchor="start" fill="#000" >Control</text>
<text transform="translate(122.70,454.60) rotate(-90)" font-size="13.3" font-weight="normal" text-anchor="start" fill="#000" >Tau N314</text>
<text transform="translate(151.10,454.60) rotate(-90)" font-size="13.3" font-weight="normal" text-anchor="start" fill="#000" >Tau N368</text>
<text transform="translate(178.40,454.60) rotate(-90)" font-size="13.3" font-weight="normal" text-anchor="start" fill="#000" >Tau N441</text>
<text x="56.30" y="467.10" font-size="12.6" font-weight="normal" text-anchor="end" fill="#000" >60</text>
<line x1="57.10" y1="462.80" x2="73.60" y2="462.80" stroke="#000" stroke-width="2.0" />
<text x="56.30" y="485.90" font-size="12.6" font-weight="normal" text-anchor="end" fill="#000" >45</text>
<line x1="57.10" y1="481.60" x2="73.60" y2="481.60" stroke="#000" stroke-width="2.0" />
<text x="56.30" y="512.50" font-size="12.6" font-weight="normal" text-anchor="end" fill="#000" >35</text>
<line x1="57.10" y1="508.20" x2="73.60" y2="508.20" stroke="#000" stroke-width="2.0" />
<text x="56.30" y="547.90" font-size="12.6" font-weight="normal" text-anchor="end" fill="#000" >25</text>
<line x1="57.10" y1="543.60" x2="73.60" y2="543.60" stroke="#000" stroke-width="2.0" />
<text x="56.30" y="578.10" font-size="12.6" font-weight="normal" text-anchor="end" fill="#000" >15</text>
<line x1="57.10" y1="573.80" x2="73.60" y2="573.80" stroke="#000" stroke-width="2.0" />
<clipPath id="cD"><rect x="80.8" y="457.9" width="109.4" height="138.7"/></clipPath>
<rect x="80.8" y="457.9" width="109.4" height="138.7" fill="#e9e9e9"/>
<g clip-path="url(#cD)">
<rect x="83.0" y="453.9" width="21.8" height="146.7" fill="#cecece" opacity="0.9" filter="url(#bl2)"/>
<rect x="111.0" y="453.9" width="20.2" height="146.7" fill="#cecece" opacity="0.9" filter="url(#bl2)"/>
<rect x="138.2" y="453.9" width="19.5" height="146.7" fill="#d0d0d0" opacity="0.9" filter="url(#bl2)"/>
<rect x="165.6" y="453.9" width="19.2" height="146.7" fill="#cecece" opacity="0.9" filter="url(#bl2)"/>
<rect x="83.0" y="464.6" width="21.8" height="3.2" rx="1.6" fill="#777" opacity="0.5" filter="url(#bl1)"/>
<rect x="83.0" y="485.8" width="21.8" height="2.8" rx="1.4" fill="#888" opacity="0.3" filter="url(#bl1)"/>
<rect x="83.0" y="503.4" width="21.8" height="3.5" rx="1.8" fill="#999" opacity="0.3" filter="url(#bl15)"/>
<rect x="83.0" y="517.5" width="21.8" height="3.5" rx="1.8" fill="#999" opacity="0.3" filter="url(#bl15)"/>
<rect x="83.0" y="524.6" width="21.8" height="3.5" rx="1.8" fill="#999" opacity="0.3" filter="url(#bl15)"/>
<rect x="83.0" y="534.0" width="21.8" height="7.5" rx="3.8" fill="#888" opacity="0.45" filter="url(#bl15)"/>
<rect x="83.0" y="554.5" width="21.8" height="3" rx="1.5" fill="#aaa" opacity="0.25" filter="url(#bl15)"/>
<rect x="111.0" y="464.6" width="20.2" height="3.2" rx="1.6" fill="#777" opacity="0.5" filter="url(#bl1)"/>
<rect x="111.0" y="485.8" width="20.2" height="2.8" rx="1.4" fill="#888" opacity="0.3" filter="url(#bl1)"/>
<rect x="111.0" y="503.4" width="20.2" height="3.5" rx="1.8" fill="#999" opacity="0.3" filter="url(#bl15)"/>
<rect x="111.0" y="517.5" width="20.2" height="3.5" rx="1.8" fill="#999" opacity="0.3" filter="url(#bl15)"/>
<rect x="111.0" y="524.6" width="20.2" height="3.5" rx="1.8" fill="#999" opacity="0.3" filter="url(#bl15)"/>
<rect x="111.0" y="534.0" width="20.2" height="7.5" rx="3.8" fill="#888" opacity="0.45" filter="url(#bl15)"/>
<rect x="111.0" y="554.5" width="20.2" height="3" rx="1.5" fill="#aaa" opacity="0.25" filter="url(#bl15)"/>
<rect x="138.2" y="464.6" width="19.5" height="3.2" rx="1.6" fill="#777" opacity="0.5" filter="url(#bl1)"/>
<rect x="138.2" y="485.8" width="19.5" height="2.8" rx="1.4" fill="#888" opacity="0.3" filter="url(#bl1)"/>
<rect x="138.2" y="503.4" width="19.5" height="3.5" rx="1.8" fill="#999" opacity="0.3" filter="url(#bl15)"/>
<rect x="138.2" y="517.5" width="19.5" height="3.5" rx="1.8" fill="#999" opacity="0.3" filter="url(#bl15)"/>
<rect x="138.2" y="524.6" width="19.5" height="3.5" rx="1.8" fill="#999" opacity="0.3" filter="url(#bl15)"/>
<rect x="138.2" y="534.0" width="19.5" height="7.5" rx="3.8" fill="#888" opacity="0.45" filter="url(#bl15)"/>
<rect x="138.2" y="554.5" width="19.5" height="3" rx="1.5" fill="#aaa" opacity="0.25" filter="url(#bl15)"/>
<rect x="165.6" y="464.6" width="19.2" height="3.2" rx="1.6" fill="#777" opacity="0.5" filter="url(#bl1)"/>
<rect x="165.6" y="485.8" width="19.2" height="2.8" rx="1.4" fill="#888" opacity="0.3" filter="url(#bl1)"/>
<rect x="165.6" y="503.4" width="19.2" height="3.5" rx="1.8" fill="#999" opacity="0.3" filter="url(#bl15)"/>
<rect x="165.6" y="517.5" width="19.2" height="3.5" rx="1.8" fill="#999" opacity="0.3" filter="url(#bl15)"/>
<rect x="165.6" y="524.6" width="19.2" height="3.5" rx="1.8" fill="#999" opacity="0.3" filter="url(#bl15)"/>
<rect x="165.6" y="534.0" width="19.2" height="7.5" rx="3.8" fill="#888" opacity="0.45" filter="url(#bl15)"/>
<rect x="165.6" y="554.5" width="19.2" height="3" rx="1.5" fill="#aaa" opacity="0.25" filter="url(#bl15)"/>
<rect x="82.5" y="572.3" width="22.7" height="3.4" rx="1.7" fill="#888" opacity="0.45" filter="url(#bl1)"/>
<rect x="110.4" y="569.8" width="21.3" height="3" rx="1.5" fill="#999" opacity="0.3" filter="url(#bl1)"/>
<rect x="137.6" y="569.8" width="20.6" height="3" rx="1.5" fill="#999" opacity="0.3" filter="url(#bl1)"/>
<rect x="110.4" y="490.6" width="21.3" height="10.4" rx="5.2" fill="#000" opacity="1" filter="url(#bl07)"/>
<rect x="111.5" y="492.3" width="19.0" height="7" rx="3.5" fill="#000" opacity="1" filter="url(#bl05)"/>
<rect x="111.0" y="500.0" width="20.0" height="6" rx="3.0" fill="#666" opacity="0.35" filter="url(#bl15)"/>
<rect x="137.9" y="481.5" width="20.0" height="10.6" rx="5.3" fill="#000" opacity="1" filter="url(#bl07)"/>
<rect x="139.0" y="483.3" width="17.8" height="7" rx="3.5" fill="#000" opacity="1" filter="url(#bl05)"/>
<rect x="138.0" y="491.5" width="20.0" height="6" rx="3.0" fill="#555" opacity="0.45" filter="url(#bl15)"/>
<rect x="165.3" y="470.4" width="19.8" height="8.4" rx="4.2" fill="#050505" opacity="1" filter="url(#bl07)"/>
<rect x="166.3" y="471.9" width="17.8" height="5.5" rx="2.8" fill="#000" opacity="1" filter="url(#bl05)"/>
<rect x="165.3" y="484.4" width="19.8" height="5.5" rx="2.8" fill="#444" opacity="0.75" filter="url(#bl15)"/>
<rect x="165.3" y="491.0" width="19.8" height="6" rx="3.0" fill="#777" opacity="0.5" filter="url(#bl15)"/>
<rect x="165.3" y="464.0" width="19.8" height="6" rx="3.0" fill="#666" opacity="0.5" filter="url(#bl15)"/>
<rect x="80.8" y="457.9" width="109.4" height="138.7" fill="#808080" opacity="0.13" filter="url(#noise1)" style="mix-blend-mode:normal"/>
</g>
<text x="149.60" y="607.50" font-size="13.1" font-weight="normal" text-anchor="middle" fill="#000" >WB:anti-HA</text>
<text x="208.50" y="412.80" font-size="20" font-weight="bold" text-anchor="start" fill="#000" >E</text>
<text transform="translate(264.00,453.00) rotate(-90)" font-size="13.3" font-weight="normal" text-anchor="start" fill="#000" >Control</text>
<text transform="translate(289.80,453.00) rotate(-90)" font-size="13.3" font-weight="normal" text-anchor="start" fill="#000" >Tau N314</text>
<text transform="translate(317.60,453.00) rotate(-90)" font-size="13.3" font-weight="normal" text-anchor="start" fill="#000" >Tau N368</text>
<text transform="translate(345.00,453.00) rotate(-90)" font-size="13.3" font-weight="normal" text-anchor="start" fill="#000" >Tau N441</text>
<text x="223.40" y="465.90" font-size="12.6" font-weight="normal" text-anchor="end" fill="#000" >60</text>
<line x1="223.80" y1="461.60" x2="240.30" y2="461.60" stroke="#000" stroke-width="2.0" />
<text x="223.40" y="484.90" font-size="12.6" font-weight="normal" text-anchor="end" fill="#000" >45</text>
<line x1="223.80" y1="480.60" x2="240.30" y2="480.60" stroke="#000" stroke-width="2.0" />
<text x="223.40" y="511.10" font-size="12.6" font-weight="normal" text-anchor="end" fill="#000" >35</text>
<line x1="223.80" y1="506.80" x2="240.30" y2="506.80" stroke="#000" stroke-width="2.0" />
<text x="223.40" y="547.30" font-size="12.6" font-weight="normal" text-anchor="end" fill="#000" >25</text>
<line x1="223.80" y1="543.00" x2="240.30" y2="543.00" stroke="#000" stroke-width="2.0" />
<text x="223.40" y="577.00" font-size="12.6" font-weight="normal" text-anchor="end" fill="#000" >15</text>
<line x1="223.80" y1="572.70" x2="240.30" y2="572.70" stroke="#000" stroke-width="2.0" />
<clipPath id="cE1"><rect x="247.3" y="457.0" width="110.5" height="139.8"/></clipPath>
<rect x="247.3" y="457.0" width="110.5" height="139.8" fill="#dedede"/>
<g clip-path="url(#cE1)">
<rect x="303.2" y="470.0" width="20.9" height="130.0" fill="#c0c0c0" opacity="0.85" filter="url(#bl2)"/>
<rect x="303.2" y="450.0" width="20.9" height="40.0" fill="#d0d0d0" opacity="0.8" filter="url(#bl2)"/>
<rect x="250.3" y="450.0" width="21.6" height="150.0" fill="#d8d8d8" opacity="0.6" filter="url(#bl2)"/>
<rect x="277.9" y="450.0" width="21.6" height="150.0" fill="#d8d8d8" opacity="0.6" filter="url(#bl2)"/>
<rect x="333.2" y="450.0" width="21.6" height="150.0" fill="#d8d8d8" opacity="0.6" filter="url(#bl2)"/>
<rect x="251.3" y="476.0" width="19.6" height="3" rx="1.5" fill="#999" opacity="0.35" filter="url(#bl1)"/>
<rect x="251.3" y="525.8" width="19.6" height="7" rx="3.5" fill="#aaa" opacity="0.25" filter="url(#bl2)"/>
<rect x="251.3" y="511.0" width="19.6" height="6" rx="3.0" fill="#aaa" opacity="0.18" filter="url(#bl2)"/>
<rect x="278.9" y="476.0" width="19.6" height="3" rx="1.5" fill="#999" opacity="0.35" filter="url(#bl1)"/>
<rect x="278.9" y="525.8" width="19.6" height="7" rx="3.5" fill="#aaa" opacity="0.25" filter="url(#bl2)"/>
<rect x="278.9" y="511.0" width="19.6" height="6" rx="3.0" fill="#aaa" opacity="0.18" filter="url(#bl2)"/>
<rect x="334.2" y="476.0" width="19.6" height="3" rx="1.5" fill="#999" opacity="0.35" filter="url(#bl1)"/>
<rect x="334.2" y="525.8" width="19.6" height="7" rx="3.5" fill="#aaa" opacity="0.25" filter="url(#bl2)"/>
<rect x="334.2" y="511.0" width="19.6" height="6" rx="3.0" fill="#aaa" opacity="0.18" filter="url(#bl2)"/>
<rect x="303.7" y="492.0" width="19.9" height="14" rx="7.0" fill="#888" opacity="0.45" filter="url(#bl15)"/>
<rect x="303.9" y="484.0" width="19.5" height="10.0" rx="5.0" fill="#000" opacity="1" filter="url(#bl1)"/>
<rect x="305.2" y="486.0" width="16.9" height="6" rx="3.0" fill="#000" opacity="1" filter="url(#bl05)"/>
<rect x="304.2" y="494.5" width="18.9" height="5" rx="2.5" fill="#444" opacity="0.5" filter="url(#bl15)"/>
<rect x="304.2" y="503.2" width="18.9" height="2.6" rx="1.3" fill="#555" opacity="0.45" filter="url(#bl07)"/>
<rect x="304.2" y="511.7" width="18.9" height="5" rx="2.5" fill="#999" opacity="0.3" filter="url(#bl15)"/>
<rect x="304.2" y="522.0" width="18.9" height="10" rx="5.0" fill="#9a9a9a" opacity="0.3" filter="url(#bl2)"/>
<rect x="304.2" y="547.3" width="18.9" height="4.0" rx="2.0" fill="#333" opacity="0.75" filter="url(#bl1)"/>
<rect x="304.2" y="551.0" width="18.9" height="6" rx="3.0" fill="#777" opacity="0.55" filter="url(#bl1)"/>
<rect x="304.2" y="555.0" width="18.9" height="10" rx="5.0" fill="#3a3a3a" opacity="0.72" filter="url(#bl2)"/>
<rect x="304.2" y="569.2" width="18.9" height="3.5" rx="1.8" fill="#888" opacity="0.4" filter="url(#bl1)"/>
<rect x="304.2" y="578.8" width="18.9" height="3.5" rx="1.8" fill="#777" opacity="0.45" filter="url(#bl1)"/>
<rect x="304.2" y="587.4" width="18.9" height="4.5" rx="2.2" fill="#555" opacity="0.55" filter="url(#bl15)"/>
<rect x="334.2" y="487.6" width="19.6" height="3" rx="1.5" fill="#999" opacity="0.35" filter="url(#bl1)"/>
<rect x="247.3" y="457.0" width="110.5" height="139.8" fill="#808080" opacity="0.13" filter="url(#noise2)" style="mix-blend-mode:normal"/>
</g>
<text x="304.40" y="607.90" font-size="13.2" font-weight="normal" text-anchor="middle" fill="#000" >WB:anti-Tau N368</text>
<text x="355.50" y="623.70" font-size="13.2" font-weight="normal" text-anchor="end" fill="#000" >1:2000</text>
<text transform="translate(427.00,453.00) rotate(-90)" font-size="13.3" font-weight="normal" text-anchor="start" fill="#000" >Control</text>
<text transform="translate(454.30,453.00) rotate(-90)" font-size="13.3" font-weight="normal" text-anchor="start" fill="#000" >Tau N314</text>
<text transform="translate(481.60,453.00) rotate(-90)" font-size="13.3" font-weight="normal" text-anchor="start" fill="#000" >Tau N368</text>
<text transform="translate(508.90,453.00) rotate(-90)" font-size="13.3" font-weight="normal" text-anchor="start" fill="#000" >Tau N441</text>
<text x="386.60" y="464.90" font-size="12.6" font-weight="normal" text-anchor="end" fill="#000" >60</text>
<line x1="387.00" y1="460.60" x2="404.20" y2="460.60" stroke="#000" stroke-width="2.0" />
<text x="386.60" y="484.00" font-size="12.6" font-weight="normal" text-anchor="end" fill="#000" >45</text>
<line x1="387.00" y1="479.70" x2="404.20" y2="479.70" stroke="#000" stroke-width="2.0" />
<text x="386.60" y="510.60" font-size="12.6" font-weight="normal" text-anchor="end" fill="#000" >35</text>
<line x1="387.00" y1="506.30" x2="404.20" y2="506.30" stroke="#000" stroke-width="2.0" />
<text x="386.60" y="546.70" font-size="12.6" font-weight="normal" text-anchor="end" fill="#000" >25</text>
<line x1="387.00" y1="542.40" x2="404.20" y2="542.40" stroke="#000" stroke-width="2.0" />
<text x="386.60" y="577.10" font-size="12.6" font-weight="normal" text-anchor="end" fill="#000" >15</text>
<line x1="387.00" y1="572.80" x2="404.20" y2="572.80" stroke="#000" stroke-width="2.0" />
<clipPath id="cE2"><rect x="409.1" y="457.0" width="111.7" height="139.8"/></clipPath>
<rect x="409.1" y="457.0" width="111.7" height="139.8" fill="#dedede"/>
<g clip-path="url(#cE2)">
<rect x="463.8" y="470.0" width="23.2" height="130.0" fill="#c0c0c0" opacity="0.85" filter="url(#bl2)"/>
<rect x="463.8" y="450.0" width="23.2" height="40.0" fill="#d0d0d0" opacity="0.8" filter="url(#bl2)"/>
<rect x="412.1" y="450.0" width="21.9" height="150.0" fill="#d8d8d8" opacity="0.6" filter="url(#bl2)"/>
<rect x="440.0" y="450.0" width="21.9" height="150.0" fill="#d8d8d8" opacity="0.6" filter="url(#bl2)"/>
<rect x="495.9" y="450.0" width="21.9" height="150.0" fill="#d8d8d8" opacity="0.6" filter="url(#bl2)"/>
<rect x="413.1" y="476.0" width="19.9" height="3" rx="1.5" fill="#999" opacity="0.35" filter="url(#bl1)"/>
<rect x="413.1" y="525.8" width="19.9" height="7" rx="3.5" fill="#aaa" opacity="0.25" filter="url(#bl2)"/>
<rect x="413.1" y="511.0" width="19.9" height="6" rx="3.0" fill="#aaa" opacity="0.18" filter="url(#bl2)"/>
<rect x="441.0" y="476.0" width="19.9" height="3" rx="1.5" fill="#999" opacity="0.35" filter="url(#bl1)"/>
<rect x="441.0" y="525.8" width="19.9" height="7" rx="3.5" fill="#aaa" opacity="0.25" filter="url(#bl2)"/>
<rect x="441.0" y="511.0" width="19.9" height="6" rx="3.0" fill="#aaa" opacity="0.18" filter="url(#bl2)"/>
<rect x="496.9" y="476.0" width="19.9" height="3" rx="1.5" fill="#999" opacity="0.35" filter="url(#bl1)"/>
<rect x="496.9" y="525.8" width="19.9" height="7" rx="3.5" fill="#aaa" opacity="0.25" filter="url(#bl2)"/>
<rect x="496.9" y="511.0" width="19.9" height="6" rx="3.0" fill="#aaa" opacity="0.18" filter="url(#bl2)"/>
<rect x="464.3" y="492.0" width="22.2" height="14" rx="7.0" fill="#888" opacity="0.45" filter="url(#bl15)"/>
<rect x="464.5" y="484.0" width="21.8" height="10.0" rx="5.0" fill="#000" opacity="1" filter="url(#bl1)"/>
<rect x="465.8" y="486.0" width="19.2" height="6" rx="3.0" fill="#000" opacity="1" filter="url(#bl05)"/>
<rect x="464.8" y="494.5" width="21.2" height="5" rx="2.5" fill="#444" opacity="0.5" filter="url(#bl15)"/>
<rect x="464.8" y="503.2" width="21.2" height="2.6" rx="1.3" fill="#555" opacity="0.45" filter="url(#bl07)"/>
<rect x="464.8" y="511.7" width="21.2" height="5" rx="2.5" fill="#999" opacity="0.3" filter="url(#bl15)"/>
<rect x="464.8" y="522.0" width="21.2" height="10" rx="5.0" fill="#9a9a9a" opacity="0.3" filter="url(#bl2)"/>
<rect x="464.8" y="547.3" width="21.2" height="4.0" rx="2.0" fill="#333" opacity="0.75" filter="url(#bl1)"/>
<rect x="464.8" y="551.0" width="21.2" height="6" rx="3.0" fill="#777" opacity="0.55" filter="url(#bl1)"/>
<rect x="464.8" y="555.0" width="21.2" height="10" rx="5.0" fill="#3a3a3a" opacity="0.72" filter="url(#bl2)"/>
<rect x="464.8" y="569.2" width="21.2" height="3.5" rx="1.8" fill="#888" opacity="0.4" filter="url(#bl1)"/>
<rect x="464.8" y="578.8" width="21.2" height="3.5" rx="1.8" fill="#777" opacity="0.45" filter="url(#bl1)"/>
<rect x="464.8" y="587.4" width="21.2" height="4.5" rx="2.2" fill="#555" opacity="0.55" filter="url(#bl15)"/>
<rect x="496.9" y="486.7" width="19.9" height="3" rx="1.5" fill="#888" opacity="0.45" filter="url(#bl1)"/>
<rect x="496.9" y="475.1" width="17.9" height="3" rx="1.5" fill="#999" opacity="0.35" filter="url(#bl1)"/>
<path d="M405.1,475.5 L466.8,482 L466.8,493 L405.1,488 Z" fill="#858585" opacity="0.62" filter="url(#bl2)"/>
<rect x="409.1" y="457.0" width="111.7" height="139.8" fill="#808080" opacity="0.13" filter="url(#noise3)" style="mix-blend-mode:normal"/>
</g>
<text x="465.70" y="608.30" font-size="13.2" font-weight="normal" text-anchor="middle" fill="#000" >WB:anti-Tau N368</text>
<text x="516.90" y="623.80" font-size="13.2" font-weight="normal" text-anchor="end" fill="#000" >1:10000</text>
<text transform="translate(589.20,453.00) rotate(-90)" font-size="13.3" font-weight="normal" text-anchor="start" fill="#000" >Control</text>
<text transform="translate(616.10,453.00) rotate(-90)" font-size="13.3" font-weight="normal" text-anchor="start" fill="#000" >Tau N314</text>
<text transform="translate(644.10,453.00) rotate(-90)" font-size="13.3" font-weight="normal" text-anchor="start" fill="#000" >Tau N368</text>
<text transform="translate(672.60,453.00) rotate(-90)" font-size="13.3" font-weight="normal" text-anchor="start" fill="#000" >Tau N441</text>
<text x="550.60" y="464.50" font-size="12.6" font-weight="normal" text-anchor="end" fill="#000" >60</text>
<line x1="551.50" y1="460.20" x2="566.70" y2="460.20" stroke="#000" stroke-width="2.0" />
<text x="550.60" y="483.30" font-size="12.6" font-weight="normal" text-anchor="end" fill="#000" >45</text>
<line x1="551.50" y1="479.00" x2="566.70" y2="479.00" stroke="#000" stroke-width="2.0" />
<text x="550.60" y="509.70" font-size="12.6" font-weight="normal" text-anchor="end" fill="#000" >35</text>
<line x1="551.50" y1="505.40" x2="566.70" y2="505.40" stroke="#000" stroke-width="2.0" />
<text x="550.60" y="545.50" font-size="12.6" font-weight="normal" text-anchor="end" fill="#000" >25</text>
<line x1="551.50" y1="541.20" x2="566.70" y2="541.20" stroke="#000" stroke-width="2.0" />
<text x="550.60" y="576.00" font-size="12.6" font-weight="normal" text-anchor="end" fill="#000" >15</text>
<line x1="551.50" y1="571.70" x2="566.70" y2="571.70" stroke="#000" stroke-width="2.0" />
<clipPath id="cE3"><rect x="573.1" y="457.0" width="110.9" height="139.8"/></clipPath>
<rect x="573.1" y="457.0" width="110.9" height="139.8" fill="#dedede"/>
<g clip-path="url(#cE3)">
<rect x="632.0" y="470.0" width="23.0" height="130.0" fill="#c0c0c0" opacity="0.85" filter="url(#bl2)"/>
<rect x="632.0" y="450.0" width="23.0" height="40.0" fill="#d0d0d0" opacity="0.8" filter="url(#bl2)"/>
<rect x="576.1" y="450.0" width="21.7" height="150.0" fill="#d8d8d8" opacity="0.6" filter="url(#bl2)"/>
<rect x="603.8" y="450.0" width="21.7" height="150.0" fill="#d8d8d8" opacity="0.6" filter="url(#bl2)"/>
<rect x="659.3" y="450.0" width="21.7" height="150.0" fill="#d8d8d8" opacity="0.6" filter="url(#bl2)"/>
<rect x="577.1" y="476.0" width="19.7" height="3" rx="1.5" fill="#999" opacity="0.35" filter="url(#bl1)"/>
<rect x="577.1" y="525.8" width="19.7" height="7" rx="3.5" fill="#aaa" opacity="0.25" filter="url(#bl2)"/>
<rect x="577.1" y="511.0" width="19.7" height="6" rx="3.0" fill="#aaa" opacity="0.18" filter="url(#bl2)"/>
<rect x="604.8" y="476.0" width="19.7" height="3" rx="1.5" fill="#999" opacity="0.35" filter="url(#bl1)"/>
<rect x="604.8" y="525.8" width="19.7" height="7" rx="3.5" fill="#aaa" opacity="0.25" filter="url(#bl2)"/>
<rect x="604.8" y="511.0" width="19.7" height="6" rx="3.0" fill="#aaa" opacity="0.18" filter="url(#bl2)"/>
<rect x="660.3" y="476.0" width="19.7" height="3" rx="1.5" fill="#999" opacity="0.35" filter="url(#bl1)"/>
<rect x="660.3" y="525.8" width="19.7" height="7" rx="3.5" fill="#aaa" opacity="0.25" filter="url(#bl2)"/>
<rect x="660.3" y="511.0" width="19.7" height="6" rx="3.0" fill="#aaa" opacity="0.18" filter="url(#bl2)"/>
<rect x="632.5" y="492.0" width="22.0" height="14" rx="7.0" fill="#888" opacity="0.45" filter="url(#bl15)"/>
<rect x="632.7" y="484.0" width="21.6" height="10.0" rx="5.0" fill="#000" opacity="1" filter="url(#bl1)"/>
<rect x="634.0" y="486.0" width="19.0" height="6" rx="3.0" fill="#000" opacity="1" filter="url(#bl05)"/>
<rect x="633.0" y="494.5" width="21.0" height="5" rx="2.5" fill="#444" opacity="0.5" filter="url(#bl15)"/>
<rect x="633.0" y="503.2" width="21.0" height="2.6" rx="1.3" fill="#555" opacity="0.45" filter="url(#bl07)"/>
<rect x="633.0" y="511.7" width="21.0" height="5" rx="2.5" fill="#999" opacity="0.3" filter="url(#bl15)"/>
<rect x="633.0" y="522.0" width="21.0" height="10" rx="5.0" fill="#9a9a9a" opacity="0.3" filter="url(#bl2)"/>
<rect x="633.0" y="547.3" width="21.0" height="4.0" rx="2.0" fill="#333" opacity="0.75" filter="url(#bl1)"/>
<rect x="633.0" y="551.0" width="21.0" height="6" rx="3.0" fill="#777" opacity="0.55" filter="url(#bl1)"/>
<rect x="633.0" y="555.0" width="21.0" height="10" rx="5.0" fill="#3a3a3a" opacity="0.72" filter="url(#bl2)"/>
<rect x="633.0" y="569.2" width="21.0" height="3.5" rx="1.8" fill="#888" opacity="0.4" filter="url(#bl1)"/>
<rect x="633.0" y="578.8" width="21.0" height="3.5" rx="1.8" fill="#777" opacity="0.45" filter="url(#bl1)"/>
<rect x="633.0" y="587.4" width="21.0" height="4.5" rx="2.2" fill="#555" opacity="0.55" filter="url(#bl15)"/>
<rect x="658.3" y="487.1" width="21.7" height="5" rx="2.5" fill="#888" opacity="0.45" filter="url(#bl15)"/>
<rect x="604.8" y="495.5" width="19.7" height="3" rx="1.5" fill="#aaa" opacity="0.3" filter="url(#bl15)"/>
<rect x="573.1" y="457.0" width="110.9" height="139.8" fill="#808080" opacity="0.13" filter="url(#noise4)" style="mix-blend-mode:normal"/>
</g>
<text x="628.30" y="608.40" font-size="13.2" font-weight="normal" text-anchor="middle" fill="#000" >WB:anti-Tau N368</text>
<text x="679.40" y="624.20" font-size="13.2" font-weight="normal" text-anchor="end" fill="#000" >1:20000</text>
<text x="20.80" y="662.40" font-size="20.5" font-weight="bold" text-anchor="start" fill="#000" >F</text>
<line x1="114.30" y1="810.80" x2="114.30" y2="665.71" stroke="#000" stroke-width="1.4" />
<line x1="113.60" y1="810.10" x2="330.90" y2="810.10" stroke="#000" stroke-width="1.4" />
<line x1="108.30" y1="810.10" x2="114.30" y2="810.10" stroke="#000" stroke-width="1.4" />
<text x="106.70" y="813.60" font-size="10" font-weight="bold" text-anchor="end" fill="#000" >0</text>
<line x1="108.30" y1="762.17" x2="114.30" y2="762.17" stroke="#000" stroke-width="1.4" />
<text x="106.70" y="765.67" font-size="10" font-weight="bold" text-anchor="end" fill="#000" >10</text>
<line x1="108.30" y1="714.24" x2="114.30" y2="714.24" stroke="#000" stroke-width="1.4" />
<text x="106.70" y="717.74" font-size="10" font-weight="bold" text-anchor="end" fill="#000" >20</text>
<line x1="108.30" y1="666.31" x2="114.30" y2="666.31" stroke="#000" stroke-width="1.4" />
<text x="106.70" y="669.81" font-size="10" font-weight="bold" text-anchor="end" fill="#000" >30</text>
<line x1="114.30" y1="810.10" x2="114.30" y2="816.10" stroke="#000" stroke-width="1.4" />
<text x="114.30" y="828.30" font-size="9.8" font-weight="bold" text-anchor="middle" fill="#000" >0</text>
<line x1="132.30" y1="810.10" x2="132.30" y2="816.10" stroke="#000" stroke-width="1.4" />
<text x="132.30" y="828.30" font-size="9.8" font-weight="bold" text-anchor="middle" fill="#000" >4</text>
<line x1="150.30" y1="810.10" x2="150.30" y2="816.10" stroke="#000" stroke-width="1.4" />
<text x="150.30" y="828.30" font-size="9.8" font-weight="bold" text-anchor="middle" fill="#000" >8</text>
<line x1="168.30" y1="810.10" x2="168.30" y2="816.10" stroke="#000" stroke-width="1.4" />
<text x="168.30" y="828.30" font-size="9.8" font-weight="bold" text-anchor="middle" fill="#000" >12</text>
<line x1="186.30" y1="810.10" x2="186.30" y2="816.10" stroke="#000" stroke-width="1.4" />
<text x="186.30" y="828.30" font-size="9.8" font-weight="bold" text-anchor="middle" fill="#000" >16</text>
<line x1="204.30" y1="810.10" x2="204.30" y2="816.10" stroke="#000" stroke-width="1.4" />
<text x="204.30" y="828.30" font-size="9.8" font-weight="bold" text-anchor="middle" fill="#000" >20</text>
<line x1="222.30" y1="810.10" x2="222.30" y2="816.10" stroke="#000" stroke-width="1.4" />
<text x="222.30" y="828.30" font-size="9.8" font-weight="bold" text-anchor="middle" fill="#000" >24</text>
<line x1="240.30" y1="810.10" x2="240.30" y2="816.10" stroke="#000" stroke-width="1.4" />
<text x="240.30" y="828.30" font-size="9.8" font-weight="bold" text-anchor="middle" fill="#000" >28</text>
<line x1="258.30" y1="810.10" x2="258.30" y2="816.10" stroke="#000" stroke-width="1.4" />
<text x="258.30" y="828.30" font-size="9.8" font-weight="bold" text-anchor="middle" fill="#000" >32</text>
<line x1="276.30" y1="810.10" x2="276.30" y2="816.10" stroke="#000" stroke-width="1.4" />
<text x="276.30" y="828.30" font-size="9.8" font-weight="bold" text-anchor="middle" fill="#000" >36</text>
<line x1="294.30" y1="810.10" x2="294.30" y2="816.10" stroke="#000" stroke-width="1.4" />
<text x="294.30" y="828.30" font-size="9.8" font-weight="bold" text-anchor="middle" fill="#000" >40</text>
<line x1="312.30" y1="810.10" x2="312.30" y2="816.10" stroke="#000" stroke-width="1.4" />
<text x="312.30" y="828.30" font-size="9.8" font-weight="bold" text-anchor="middle" fill="#000" >44</text>
<line x1="330.30" y1="810.10" x2="330.30" y2="816.10" stroke="#000" stroke-width="1.4" />
<text x="330.30" y="828.30" font-size="9.8" font-weight="bold" text-anchor="middle" fill="#000" >48</text>
<text x="222.30" y="845.60" font-size="11.8" font-weight="bold" text-anchor="middle" fill="#000" >Hours</text>
<text transform="translate(89.00,830.50) rotate(-90)" font-size="11.7" font-weight="bold" text-anchor="start" fill="#000" >Plasma mAbTau N368 conc. ( μg/ml)</text>
<line x1="114.30" y1="791.41" x2="114.30" y2="796.20" stroke="#222" stroke-width="0.9" />
<line x1="111.10" y1="791.41" x2="117.50" y2="791.41" stroke="#222" stroke-width="0.9" />
<line x1="111.10" y1="796.20" x2="117.50" y2="796.20" stroke="#222" stroke-width="0.9" />
<line x1="116.55" y1="694.11" x2="116.55" y2="727.66" stroke="#222" stroke-width="0.9" />
<line x1="113.35" y1="694.11" x2="119.75" y2="694.11" stroke="#222" stroke-width="0.9" />
<line x1="113.35" y1="727.66" x2="119.75" y2="727.66" stroke="#222" stroke-width="0.9" />
<line x1="118.80" y1="732.45" x2="118.80" y2="749.71" stroke="#222" stroke-width="0.9" />
<line x1="115.60" y1="732.45" x2="122.00" y2="732.45" stroke="#222" stroke-width="0.9" />
<line x1="115.60" y1="749.71" x2="122.00" y2="749.71" stroke="#222" stroke-width="0.9" />
<line x1="132.30" y1="680.21" x2="132.30" y2="731.97" stroke="#222" stroke-width="0.9" />
<line x1="129.10" y1="680.21" x2="135.50" y2="680.21" stroke="#222" stroke-width="0.9" />
<line x1="129.10" y1="731.97" x2="135.50" y2="731.97" stroke="#222" stroke-width="0.9" />
<line x1="150.30" y1="694.11" x2="150.30" y2="731.49" stroke="#222" stroke-width="0.9" />
<line x1="147.10" y1="694.11" x2="153.50" y2="694.11" stroke="#222" stroke-width="0.9" />
<line x1="147.10" y1="731.49" x2="153.50" y2="731.49" stroke="#222" stroke-width="0.9" />
<line x1="222.30" y1="732.93" x2="222.30" y2="752.58" stroke="#222" stroke-width="0.9" />
<line x1="219.10" y1="732.93" x2="225.50" y2="732.93" stroke="#222" stroke-width="0.9" />
<line x1="219.10" y1="752.58" x2="225.50" y2="752.58" stroke="#222" stroke-width="0.9" />
<line x1="330.30" y1="730.06" x2="330.30" y2="756.90" stroke="#222" stroke-width="0.9" />
<line x1="327.10" y1="730.06" x2="333.50" y2="730.06" stroke="#222" stroke-width="0.9" />
<line x1="327.10" y1="756.90" x2="333.50" y2="756.90" stroke="#222" stroke-width="0.9" />
<polyline points="114.3,793.8 116.5,710.9 118.8,741.6 132.3,706.1 150.3,712.8 222.3,743.0 330.3,744.0" fill="none" stroke="#000" stroke-width="0.9"/>
<circle cx="114.3" cy="793.8" r="3" fill="#000"/>
<circle cx="116.5" cy="710.9" r="3" fill="#000"/>
<circle cx="118.8" cy="741.6" r="3" fill="#000"/>
<circle cx="132.3" cy="706.1" r="3" fill="#000"/>
<circle cx="150.3" cy="712.8" r="3" fill="#000"/>
<circle cx="222.3" cy="743.0" r="3" fill="#000"/>
<circle cx="330.3" cy="744.0" r="3" fill="#000"/>
<text x="361.20" y="663.20" font-size="20.5" font-weight="bold" text-anchor="start" fill="#000" >G</text>
<line x1="434.80" y1="809.70" x2="434.80" y2="658.80" stroke="#000" stroke-width="1.4" />
<line x1="434.10" y1="809.00" x2="659.70" y2="809.00" stroke="#000" stroke-width="1.4" />
<line x1="428.80" y1="809.00" x2="434.80" y2="809.00" stroke="#000" stroke-width="1.4" />
<text x="427.20" y="812.50" font-size="10" font-weight="bold" text-anchor="end" fill="#000" >0</text>
<line x1="428.80" y1="771.60" x2="434.80" y2="771.60" stroke="#000" stroke-width="1.4" />
<text x="427.20" y="775.10" font-size="10" font-weight="bold" text-anchor="end" fill="#000" >1</text>
<line x1="428.80" y1="734.20" x2="434.80" y2="734.20" stroke="#000" stroke-width="1.4" />
<text x="427.20" y="737.70" font-size="10" font-weight="bold" text-anchor="end" fill="#000" >2</text>
<line x1="428.80" y1="696.80" x2="434.80" y2="696.80" stroke="#000" stroke-width="1.4" />
<text x="427.20" y="700.30" font-size="10" font-weight="bold" text-anchor="end" fill="#000" >3</text>
<line x1="428.80" y1="659.40" x2="434.80" y2="659.40" stroke="#000" stroke-width="1.4" />
<text x="427.20" y="662.90" font-size="10" font-weight="bold" text-anchor="end" fill="#000" >4</text>
<line x1="434.80" y1="809.00" x2="434.80" y2="815.00" stroke="#000" stroke-width="1.4" />
<text x="434.80" y="827.20" font-size="9.8" font-weight="bold" text-anchor="middle" fill="#000" >0</text>
<line x1="453.49" y1="809.00" x2="453.49" y2="815.00" stroke="#000" stroke-width="1.4" />
<text x="453.49" y="827.20" font-size="9.8" font-weight="bold" text-anchor="middle" fill="#000" >4</text>
<line x1="472.18" y1="809.00" x2="472.18" y2="815.00" stroke="#000" stroke-width="1.4" />
<text x="472.18" y="827.20" font-size="9.8" font-weight="bold" text-anchor="middle" fill="#000" >8</text>
<line x1="490.88" y1="809.00" x2="490.88" y2="815.00" stroke="#000" stroke-width="1.4" />
<text x="490.88" y="827.20" font-size="9.8" font-weight="bold" text-anchor="middle" fill="#000" >12</text>
<line x1="509.57" y1="809.00" x2="509.57" y2="815.00" stroke="#000" stroke-width="1.4" />
<text x="509.57" y="827.20" font-size="9.8" font-weight="bold" text-anchor="middle" fill="#000" >16</text>
<line x1="528.26" y1="809.00" x2="528.26" y2="815.00" stroke="#000" stroke-width="1.4" />
<text x="528.26" y="827.20" font-size="9.8" font-weight="bold" text-anchor="middle" fill="#000" >20</text>
<line x1="546.95" y1="809.00" x2="546.95" y2="815.00" stroke="#000" stroke-width="1.4" />
<text x="546.95" y="827.20" font-size="9.8" font-weight="bold" text-anchor="middle" fill="#000" >24</text>
<line x1="565.64" y1="809.00" x2="565.64" y2="815.00" stroke="#000" stroke-width="1.4" />
<text x="565.64" y="827.20" font-size="9.8" font-weight="bold" text-anchor="middle" fill="#000" >28</text>
<line x1="584.34" y1="809.00" x2="584.34" y2="815.00" stroke="#000" stroke-width="1.4" />
<text x="584.34" y="827.20" font-size="9.8" font-weight="bold" text-anchor="middle" fill="#000" >32</text>
<line x1="603.03" y1="809.00" x2="603.03" y2="815.00" stroke="#000" stroke-width="1.4" />
<text x="603.03" y="827.20" font-size="9.8" font-weight="bold" text-anchor="middle" fill="#000" >36</text>
<line x1="621.72" y1="809.00" x2="621.72" y2="815.00" stroke="#000" stroke-width="1.4" />
<text x="621.72" y="827.20" font-size="9.8" font-weight="bold" text-anchor="middle" fill="#000" >40</text>
<line x1="640.41" y1="809.00" x2="640.41" y2="815.00" stroke="#000" stroke-width="1.4" />
<text x="640.41" y="827.20" font-size="9.8" font-weight="bold" text-anchor="middle" fill="#000" >44</text>
<line x1="659.10" y1="809.00" x2="659.10" y2="815.00" stroke="#000" stroke-width="1.4" />
<text x="659.10" y="827.20" font-size="9.8" font-weight="bold" text-anchor="middle" fill="#000" >48</text>
<text x="546.50" y="844.50" font-size="11.8" font-weight="bold" text-anchor="middle" fill="#000" >Hours</text>
<text transform="translate(413.80,821.30) rotate(-90)" font-size="12.0" font-weight="bold" text-anchor="start" fill="#000" >Brain mAbTau N368 conc. ( μg/g)</text>
<line x1="437.14" y1="761.13" x2="437.14" y2="776.09" stroke="#222" stroke-width="0.9" />
<line x1="433.94" y1="761.13" x2="440.34" y2="761.13" stroke="#222" stroke-width="0.9" />
<line x1="433.94" y1="776.09" x2="440.34" y2="776.09" stroke="#222" stroke-width="0.9" />
<line x1="439.47" y1="693.43" x2="439.47" y2="755.14" stroke="#222" stroke-width="0.9" />
<line x1="436.27" y1="693.43" x2="442.67" y2="693.43" stroke="#222" stroke-width="0.9" />
<line x1="436.27" y1="755.14" x2="442.67" y2="755.14" stroke="#222" stroke-width="0.9" />
<line x1="453.49" y1="707.27" x2="453.49" y2="746.92" stroke="#222" stroke-width="0.9" />
<line x1="450.29" y1="707.27" x2="456.69" y2="707.27" stroke="#222" stroke-width="0.9" />
<line x1="450.29" y1="746.92" x2="456.69" y2="746.92" stroke="#222" stroke-width="0.9" />
<line x1="472.18" y1="700.54" x2="472.18" y2="754.77" stroke="#222" stroke-width="0.9" />
<line x1="468.98" y1="700.54" x2="475.38" y2="700.54" stroke="#222" stroke-width="0.9" />
<line x1="468.98" y1="754.77" x2="475.38" y2="754.77" stroke="#222" stroke-width="0.9" />
<line x1="546.95" y1="703.16" x2="546.95" y2="764.87" stroke="#222" stroke-width="0.9" />
<line x1="543.75" y1="703.16" x2="550.15" y2="703.16" stroke="#222" stroke-width="0.9" />
<line x1="543.75" y1="764.87" x2="550.15" y2="764.87" stroke="#222" stroke-width="0.9" />
<line x1="659.10" y1="734.20" x2="659.10" y2="761.13" stroke="#222" stroke-width="0.9" />
<line x1="655.90" y1="734.20" x2="662.30" y2="734.20" stroke="#222" stroke-width="0.9" />
<line x1="655.90" y1="761.13" x2="662.30" y2="761.13" stroke="#222" stroke-width="0.9" />
<polyline points="434.8,809.0 437.1,769.0 439.5,724.1 453.5,726.7 472.2,727.5 547.0,733.8 659.1,747.3" fill="none" stroke="#000" stroke-width="0.9"/>
<circle cx="434.8" cy="809.0" r="3" fill="#000"/>
<circle cx="437.1" cy="769.0" r="3" fill="#000"/>
<circle cx="439.5" cy="724.1" r="3" fill="#000"/>
<circle cx="453.5" cy="726.7" r="3" fill="#000"/>
<circle cx="472.2" cy="727.5" r="3" fill="#000"/>
<circle cx="547.0" cy="733.8" r="3" fill="#000"/>
<circle cx="659.1" cy="747.3" r="3" fill="#000"/>
</svg></body></html>
